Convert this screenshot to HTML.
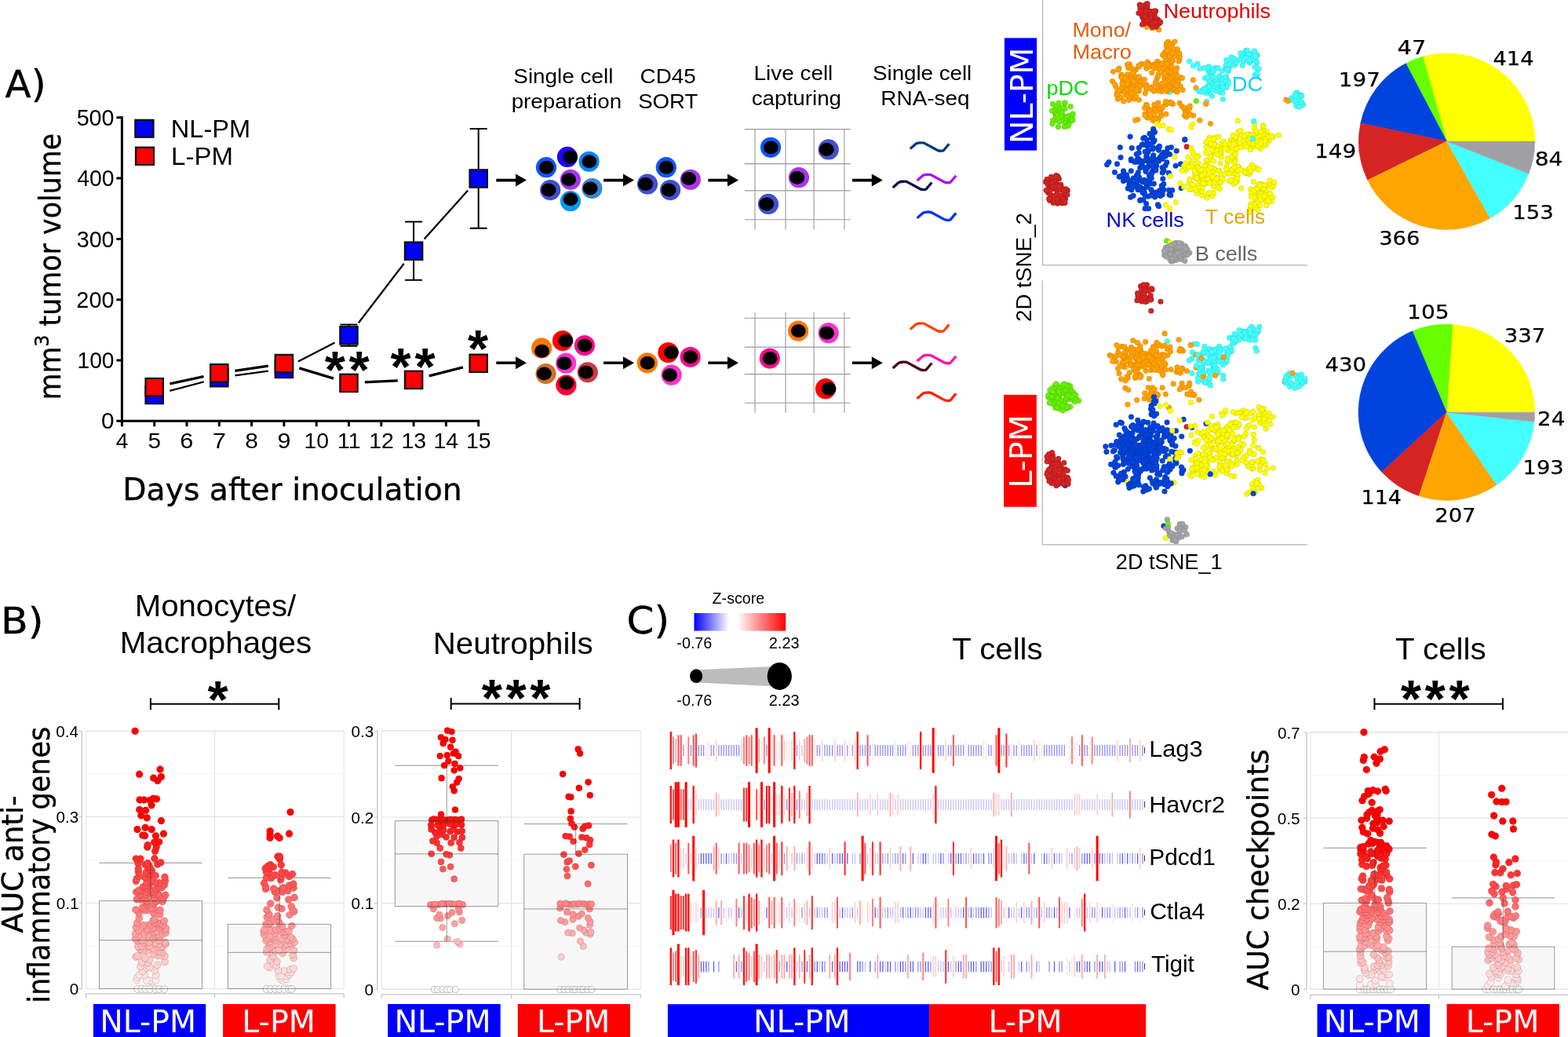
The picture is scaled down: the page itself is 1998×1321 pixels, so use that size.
<!DOCTYPE html>
<html lang="en">
<head>
<meta charset="utf-8">
<title>Figure: tumor growth, single cell RNA-seq and immune checkpoints</title>
<style>
html,body{margin:0;padding:0;background:#fff}
body{width:1998px;height:1321px;overflow:hidden}
svg{display:block}
text{white-space:pre}
.ls{font-family:"Liberation Sans",sans-serif}
.dv{font-family:"DejaVu Sans","Liberation Sans",sans-serif}
.b{stroke:#000;stroke-width:.4px}
.ast{font-weight:bold;font-size:67.3px;letter-spacing:4.6px}
.d circle{stroke-width:.5}
</style>
</head>
<body>
<svg width="1998" height="1321" viewBox="0 0 1998 1321">
<defs>
<linearGradient id="zg" x1="0" x2="1" y1="0" y2="0">
<stop offset="0" stop-color="#0000ff"/><stop offset=".38" stop-color="#fff"/><stop offset=".47" stop-color="#fff"/><stop offset="1" stop-color="#ff0000"/>
</linearGradient>
</defs>
<rect width="1998" height="1321" fill="#fff"/>

<g id="panel-a">
<text class="dv b" x="6.54" y="124.1" font-size="47.5" textLength="52.05" lengthAdjust="spacingAndGlyphs">A)</text>
<g stroke="#000" stroke-width="3" fill="none">
<path d="M155.4 148.3 V536.3 H611.2"/>
<path d="M155.4 536.3h-7M155.4 459h-7M155.4 381.7h-7M155.4 304.4h-7M155.4 227.1h-7M155.4 149.8h-7M155.4 536.3v7M196.7 536.3v7M238 536.3v7M279.3 536.3v7M320.6 536.3v7M361.9 536.3v7M403.2 536.3v7M444.5 536.3v7M485.8 536.3v7M527.1 536.3v7M568.4 536.3v7M609.7 536.3v7"/>
</g>
<text class="ls" x="129.09" y="546.4" font-size="29.2" textLength="16.45" lengthAdjust="spacingAndGlyphs">0</text>
<text class="ls" x="98.49" y="469.1" font-size="29.2" textLength="47" lengthAdjust="spacingAndGlyphs">100</text>
<text class="ls" x="97.36" y="391.8" font-size="29.2" textLength="48.15" lengthAdjust="spacingAndGlyphs">200</text>
<text class="ls" x="97.73" y="314.5" font-size="29.2" textLength="47.78" lengthAdjust="spacingAndGlyphs">300</text>
<text class="ls" x="98.16" y="237.2" font-size="29.2" textLength="47.33" lengthAdjust="spacingAndGlyphs">400</text>
<text class="ls" x="97.65" y="159.9" font-size="29.2" textLength="47.85" lengthAdjust="spacingAndGlyphs">500</text>
<text class="ls" x="147.67" y="571.3" font-size="27.6" textLength="15.64" lengthAdjust="spacingAndGlyphs">4</text>
<text class="ls" x="188.4" y="571.3" font-size="27.6" textLength="16.63" lengthAdjust="spacingAndGlyphs">5</text>
<text class="ls" x="229.36" y="571.3" font-size="27.6" textLength="17.08" lengthAdjust="spacingAndGlyphs">6</text>
<text class="ls" x="270.65" y="571.3" font-size="27.6" textLength="17.26" lengthAdjust="spacingAndGlyphs">7</text>
<text class="ls" x="312.22" y="571.3" font-size="27.6" textLength="16.71" lengthAdjust="spacingAndGlyphs">8</text>
<text class="ls" x="353.43" y="571.3" font-size="27.6" textLength="16.98" lengthAdjust="spacingAndGlyphs">9</text>
<text class="ls" x="387.49" y="571.3" font-size="27.6" textLength="31.62" lengthAdjust="spacingAndGlyphs">10</text>
<text class="ls" x="429.96" y="571.3" font-size="27.6" textLength="29.51" lengthAdjust="spacingAndGlyphs">11</text>
<text class="ls" x="470.23" y="571.3" font-size="27.6" textLength="31.62" lengthAdjust="spacingAndGlyphs">12</text>
<text class="ls" x="511.46" y="571.3" font-size="27.6" textLength="31.62" lengthAdjust="spacingAndGlyphs">13</text>
<text class="ls" x="552.55" y="571.3" font-size="27.6" textLength="31.62" lengthAdjust="spacingAndGlyphs">14</text>
<text class="ls" x="594.02" y="571.3" font-size="27.6" textLength="31.62" lengthAdjust="spacingAndGlyphs">15</text>
<text class="dv b" x="156.37" y="636.8" font-size="39.3" textLength="432.29" lengthAdjust="spacingAndGlyphs">Days after inoculation</text>
<text class="dv b" transform="translate(77.4 506.4) rotate(-90)" x="-3.15" font-size="37" textLength="339.79" lengthAdjust="spacingAndGlyphs">mm<tspan font-size="25" dy="-15">3</tspan><tspan dy="15"> tumor volume</tspan></text>
<rect x="172.3" y="152.8" width="23.2" height="22" fill="#00f" stroke="#111" stroke-width="2.2"/>
<rect x="173" y="187.7" width="23" height="22.2" fill="#f00" stroke="#111" stroke-width="2.2"/>
<text class="ls" x="217.79" y="174.9" font-size="31.8" textLength="101.46" lengthAdjust="spacingAndGlyphs">NL-PM</text>
<text class="ls" x="218.06" y="209.9" font-size="31.8" textLength="78.83" lengthAdjust="spacingAndGlyphs">L-PM</text>
<g stroke="#000" stroke-width="3.1" fill="none">
<path d="M216.3 497.8L259.7 486.4M299.4 478.4L341.8 472.7M379.9 460.6L426.5 436.6M456.9 411.2L514.7 335.8M540.6 304.6L596.2 242.6" stroke-width="2.3"/><path d="M216.5 488.9L259.5 479.6M299.4 472.3L341.8 466.1M381.3 468.9L425.1 482.1M464.8 486.9L506.8 484.9M546.8 478.9L590 467.8" stroke-width="3.3"/>
</g>
<g stroke="#000" stroke-width="2" fill="none">
<path d="M444.5 413.5V440.8M433.5 413.5h22M433.5 440.8h22M527.1 282.4V356.7M516.1 282.4h22M516.1 356.7h22M609.7 163.9V290.8M598.7 163.9h22M598.7 290.8h22"/>
</g>
<g stroke="#111" stroke-width="2.2">
<rect x="185.5" y="491.8" width="22.4" height="22.4" fill="#00f"/>
<rect x="268.1" y="470" width="22.4" height="22.4" fill="#00f"/>
<rect x="350.7" y="458.7" width="22.4" height="22.4" fill="#00f"/>
<rect x="433.3" y="416.1" width="22.4" height="22.4" fill="#00f"/>
<rect x="515.9" y="308.5" width="22.4" height="22.4" fill="#00f"/>
<rect x="598.5" y="216.3" width="22.4" height="22.4" fill="#00f"/>
<rect x="185.5" y="482" width="22.4" height="22.4" fill="#f00"/>
<rect x="268.1" y="464.1" width="22.4" height="22.4" fill="#f00"/>
<rect x="350.7" y="451.9" width="22.4" height="22.4" fill="#f00"/>
<rect x="433.3" y="476.7" width="22.4" height="22.4" fill="#f00"/>
<rect x="515.9" y="472.7" width="22.4" height="22.4" fill="#f00"/>
<rect x="598.5" y="451.6" width="22.4" height="22.4" fill="#f00"/>
</g>
<text class="ls ast" x="444.5" y="494.1" text-anchor="middle">**</text>
<text class="ls ast" x="528.4" y="490" text-anchor="middle">**</text>
<text class="ls ast" x="611.5" y="467.4" text-anchor="middle">*</text>
<text class="ls" x="654.35" y="105.8" font-size="26.5" textLength="126.99" lengthAdjust="spacingAndGlyphs">Single cell</text>
<text class="ls" x="651.67" y="138.3" font-size="26.5" textLength="140.42" lengthAdjust="spacingAndGlyphs">preparation</text>
<text class="ls" x="815.61" y="105.8" font-size="26.5" textLength="71.05" lengthAdjust="spacingAndGlyphs">CD45</text>
<text class="ls" x="813.16" y="138.3" font-size="26.5" textLength="76.19" lengthAdjust="spacingAndGlyphs">SORT</text>
<text class="ls" x="960.57" y="102.1" font-size="26.5" textLength="100.76" lengthAdjust="spacingAndGlyphs">Live cell</text>
<text class="ls" x="957.72" y="134.4" font-size="26.5" textLength="114.36" lengthAdjust="spacingAndGlyphs">capturing</text>
<text class="ls" x="1112.05" y="102.1" font-size="26.5" textLength="126.17" lengthAdjust="spacingAndGlyphs">Single cell</text>
<text class="ls" x="1122.37" y="134.4" font-size="26.5" textLength="113.12" lengthAdjust="spacingAndGlyphs">RNA-seq</text>
<g fill="#000">
<path d="M632.3 227.8H657v-6.2L671 229.6l-14 8v-6.2H632.3z"/>
<path d="M769.1 227.8H794v-6.2L808 229.6l-14 8v-6.2H769.1z"/>
<path d="M902.4 227.8H927v-6.2L941 229.6l-14 8v-6.2H902.4z"/>
<path d="M1086 227.8H1110.8v-6.2L1124.8 229.6l-14 8v-6.2H1086z"/>
<path d="M632.3 460.4H657v-6.2L671 462.2l-14 8v-6.2H632.3z"/>
<path d="M769.1 460.4H794v-6.2L808 462.2l-14 8v-6.2H769.1z"/>
<path d="M902.4 460.4H927v-6.2L941 462.2l-14 8v-6.2H902.4z"/>
<path d="M1086 460.4H1110.8v-6.2L1124.8 462.2l-14 8v-6.2H1086z"/>
</g>
<g stroke="#999" stroke-width="1.1" fill="none">
<path d="M948.7 164.6H1083.7M948.7 208.6H1083.7M948.7 242.9H1083.7M948.7 279.7H1083.7M962 164.6V292.5M1001 164.6V292.5M1037.1 164.6V292.5M1075.9 164.6V292.5M948.7 405.3H1083.7M948.7 442.1H1083.7M948.7 476.6H1083.7M948.7 513.2H1083.7M962 398.1V526M1001 398.1V526M1037.1 398.1V526M1075.9 398.1V526"/>
</g>
<g fill="#000">
<circle cx="722.9" cy="199.9" r="13.1" fill="#2200ff"/><ellipse cx="726.6" cy="199.9" rx="9.4" ry="8.5"/>
<circle cx="750.6" cy="205.8" r="13.1" fill="#0a84ff"/><ellipse cx="750.9" cy="205.8" rx="9.4" ry="8.5"/>
<circle cx="696" cy="213.2" r="13.1" fill="#1055ff"/><ellipse cx="696.3" cy="213.2" rx="9.4" ry="8.5"/>
<circle cx="726.9" cy="228.8" r="13.1" fill="#aa33ee"/><ellipse cx="724.7" cy="228.8" rx="9.4" ry="8.5"/>
<circle cx="754.4" cy="240" r="13.1" fill="#3a86d0"/><ellipse cx="752.1" cy="240" rx="9.4" ry="8.5"/>
<circle cx="701.2" cy="242.1" r="13.1" fill="#4050d0"/><ellipse cx="699.1" cy="242.1" rx="9.4" ry="8.5"/>
<circle cx="726.9" cy="256.2" r="13.1" fill="#0099ff"/><ellipse cx="727" cy="253.8" rx="9.4" ry="8.5"/>
<circle cx="848.8" cy="213.2" r="13.1" fill="#1055ff"/><ellipse cx="849" cy="213.2" rx="9.4" ry="8.5"/>
<circle cx="879.8" cy="228.8" r="13.1" fill="#aa33ee"/><ellipse cx="877.7" cy="227.6" rx="9.4" ry="8.5"/>
<circle cx="825" cy="234.6" r="13.1" fill="#4050d0"/><ellipse cx="822.7" cy="234.6" rx="9.4" ry="8.5"/>
<circle cx="854.1" cy="242.1" r="13.1" fill="#4050d0"/><ellipse cx="852.1" cy="242.1" rx="9.4" ry="8.5"/>
<circle cx="982" cy="187.8" r="13.1" fill="#0a55ff"/><ellipse cx="982.3" cy="188.1" rx="9.4" ry="8.5"/>
<circle cx="1055.7" cy="190.4" r="13.1" fill="#4050d0"/><ellipse cx="1053.3" cy="190.4" rx="9.4" ry="8.5"/>
<circle cx="1017.9" cy="226.2" r="13.1" fill="#aa33ee"/><ellipse cx="1015.8" cy="226.2" rx="9.4" ry="8.5"/>
<circle cx="979" cy="259.9" r="13.1" fill="#4050d0"/><ellipse cx="976.8" cy="259.9" rx="9.4" ry="8.5"/>
<circle cx="717" cy="434.1" r="13.1" fill="#ff0000"/><ellipse cx="720.9" cy="434.1" rx="9.4" ry="8.5"/>
<circle cx="690.1" cy="443.4" r="13.1" fill="#ff7700"/><ellipse cx="690.6" cy="447.3" rx="9.4" ry="8.5"/>
<circle cx="744.9" cy="440.1" r="13.1" fill="#ff0a90"/><ellipse cx="745.1" cy="440.1" rx="9.4" ry="8.5"/>
<circle cx="721.2" cy="462.7" r="13.1" fill="#ff33cc"/><ellipse cx="719.1" cy="462.7" rx="9.4" ry="8.5"/>
<circle cx="748.8" cy="474.3" r="13.1" fill="#cc3a44"/><ellipse cx="746.6" cy="474.3" rx="9.4" ry="8.5"/>
<circle cx="695.5" cy="476.1" r="13.1" fill="#d07030"/><ellipse cx="693.4" cy="476.1" rx="9.4" ry="8.5"/>
<circle cx="721.4" cy="490.5" r="13.1" fill="#ff0033"/><ellipse cx="721.7" cy="488.1" rx="9.4" ry="8.5"/>
<circle cx="824.8" cy="462.3" r="13.1" fill="#ff7700"/><ellipse cx="825" cy="462.3" rx="9.4" ry="8.5"/>
<circle cx="851.4" cy="449.1" r="13.1" fill="#ff0000"/><ellipse cx="855.4" cy="449.1" rx="9.4" ry="8.5"/>
<circle cx="879.6" cy="454.8" r="13.1" fill="#ff0a90"/><ellipse cx="879.8" cy="454.8" rx="9.4" ry="8.5"/>
<circle cx="855.6" cy="477.7" r="13.1" fill="#ff33cc"/><ellipse cx="853.5" cy="477.7" rx="9.4" ry="8.5"/>
<circle cx="1017.1" cy="421.6" r="13.1" fill="#ff7700"/><ellipse cx="1017.3" cy="421.6" rx="9.4" ry="8.5"/>
<circle cx="1055.7" cy="424.2" r="13.1" fill="#ff33cc"/><ellipse cx="1053.5" cy="424.2" rx="9.4" ry="8.5"/>
<circle cx="980.8" cy="456.6" r="13.1" fill="#ff0a90"/><ellipse cx="981" cy="456.6" rx="9.4" ry="8.5"/>
<circle cx="1052" cy="495.2" r="13.1" fill="#ff0000"/><ellipse cx="1056" cy="495.2" rx="9.4" ry="8.5"/>
</g>
<g fill="none" stroke-width="3.3" stroke-linecap="butt" stroke-linejoin="round">
<path d="M1159.8 189.6l7.2-6.4c1.8-1.2 7.8-1.8 10.4-1.1l16.8 9.1c2.6 1.4 6.6 1.2 8 .5l7.2-8.5" stroke="#003a80"/>
<path d="M1159.8 419.6l7.2-6.4c1.8-1.2 7.8-1.8 10.4-1.1l16.8 9.1c2.6 1.4 6.6 1.2 8 .5l7.2-8.5" stroke="#ff4400"/>
<path d="M1168.6 230.1l7.2-6.4c1.8-1.2 7.8-1.8 10.4-1.1l16.8 9.1c2.6 1.4 6.6 1.2 8 .5l7.2-8.5" stroke="#aa11ff"/>
<path d="M1168.6 460.1l7.2-6.4c1.8-1.2 7.8-1.8 10.4-1.1l16.8 9.1c2.6 1.4 6.6 1.2 8 .5l7.2-8.5" stroke="#ff11aa"/>
<path d="M1137.7 238.9l7.2-6.4c1.8-1.2 7.8-1.8 10.4-1.1l16.8 9.1c2.6 1.4 6.6 1.2 8 .5l7.2-8.5" stroke="#0a0a50"/>
<path d="M1137.7 468.9l7.2-6.4c1.8-1.2 7.8-1.8 10.4-1.1l16.8 9.1c2.6 1.4 6.6 1.2 8 .5l7.2-8.5" stroke="#4a0020"/>
<path d="M1168.6 277.8l7.2-6.4c1.8-1.2 7.8-1.8 10.4-1.1l16.8 9.1c2.6 1.4 6.6 1.2 8 .5l7.2-8.5" stroke="#0033ff"/>
<path d="M1168.6 507.8l7.2-6.4c1.8-1.2 7.8-1.8 10.4-1.1l16.8 9.1c2.6 1.4 6.6 1.2 8 .5l7.2-8.5" stroke="#ff2200"/>
</g>
</g>
<g id="tsne">
<g class="d">
<g fill="#ffa000" stroke="#d88400"><circle cx="1461.3" cy="34.4" r="3.3"/><circle cx="1468.2" cy="36" r="3.3"/><circle cx="1476.7" cy="37.9" r="3.3"/><circle cx="1472.7" cy="35" r="3.3"/></g>
<g fill="#d42424" stroke="#a01818"><circle cx="1457" cy="16" r="3.3"/><circle cx="1457.2" cy="10.6" r="3.3"/><circle cx="1453" cy="11.4" r="3.3"/><circle cx="1465" cy="15.1" r="3.3"/><circle cx="1464.8" cy="14.2" r="3.3"/><circle cx="1461.3" cy="13.9" r="3.3"/><circle cx="1450.9" cy="16.7" r="3.3"/><circle cx="1461.9" cy="15.9" r="3.3"/><circle cx="1452.2" cy="6.1" r="3.3"/><circle cx="1453.3" cy="9.9" r="3.3"/><circle cx="1460.7" cy="12.4" r="3.3"/><circle cx="1461.9" cy="8.7" r="3.3"/><circle cx="1460.7" cy="15.3" r="3.3"/><circle cx="1455.6" cy="20.8" r="3.3"/><circle cx="1461.7" cy="19.3" r="3.3"/><circle cx="1454.9" cy="8.3" r="3.3"/><circle cx="1456.4" cy="12" r="3.3"/><circle cx="1462.7" cy="14.3" r="3.3"/><circle cx="1456" cy="7.1" r="3.3"/><circle cx="1455.8" cy="19.4" r="3.3"/><circle cx="1453.7" cy="14.2" r="3.3"/><circle cx="1460.9" cy="5.1" r="3.3"/><circle cx="1466.9" cy="31.7" r="3.3"/><circle cx="1455.8" cy="21.7" r="3.3"/><circle cx="1465.8" cy="17.4" r="3.3"/><circle cx="1470.6" cy="22.8" r="3.3"/><circle cx="1457.8" cy="28.1" r="3.3"/><circle cx="1471.3" cy="29.7" r="3.3"/><circle cx="1475.9" cy="25.5" r="3.3"/><circle cx="1467.4" cy="14.9" r="3.3"/><circle cx="1471.2" cy="18.9" r="3.3"/><circle cx="1463.6" cy="15.2" r="3.3"/><circle cx="1459.7" cy="19.7" r="3.3"/><circle cx="1472.7" cy="14.2" r="3.3"/><circle cx="1457.2" cy="24.8" r="3.3"/><circle cx="1475.7" cy="26.8" r="3.3"/><circle cx="1459.6" cy="14.5" r="3.3"/><circle cx="1469.3" cy="18" r="3.3"/><circle cx="1459.4" cy="29.3" r="3.3"/><circle cx="1474.5" cy="24.4" r="3.3"/><circle cx="1468.6" cy="26.6" r="3.3"/><circle cx="1476.1" cy="26.8" r="3.3"/><circle cx="1470.6" cy="27.3" r="3.3"/><circle cx="1458.2" cy="29.9" r="3.3"/><circle cx="1473.4" cy="26.9" r="3.3"/><circle cx="1456.2" cy="20.1" r="3.3"/><circle cx="1471.2" cy="13.9" r="3.3"/><circle cx="1465.3" cy="30.4" r="3.3"/><circle cx="1468.3" cy="34.3" r="3.3"/><circle cx="1475.5" cy="29" r="3.3"/><circle cx="1474.3" cy="32.4" r="3.3"/><circle cx="1473.2" cy="34.1" r="3.3"/><circle cx="1469.5" cy="27.9" r="3.3"/><circle cx="1477.5" cy="29.8" r="3.3"/><circle cx="1468.9" cy="33.2" r="3.3"/><circle cx="1478.6" cy="28.1" r="3.3"/><circle cx="1466.9" cy="29.2" r="3.3"/><circle cx="1471.9" cy="28.4" r="3.3"/><circle cx="1452.8" cy="7.9" r="3.3"/><circle cx="1462.1" cy="4.8" r="3.3"/><circle cx="1455.5" cy="31.3" r="3.3"/><circle cx="1462.9" cy="23.3" r="3.3"/><circle cx="1464.5" cy="25.2" r="3.3"/><circle cx="1461.6" cy="25.7" r="3.3"/><circle cx="1459.7" cy="21.2" r="3.3"/><circle cx="1466.1" cy="18.5" r="3.3"/></g>
<g fill="#d42424" stroke="#a01818"><circle cx="1349.3" cy="227.9" r="3.3"/><circle cx="1348.4" cy="226.7" r="3.3"/><circle cx="1337.1" cy="238.1" r="3.3"/><circle cx="1348.5" cy="239.1" r="3.3"/><circle cx="1344.5" cy="234.8" r="3.3"/><circle cx="1343.1" cy="238" r="3.3"/><circle cx="1340.8" cy="235.9" r="3.3"/><circle cx="1346" cy="233.7" r="3.3"/><circle cx="1347" cy="237.7" r="3.3"/><circle cx="1351.4" cy="235.4" r="3.3"/><circle cx="1339.1" cy="230.9" r="3.3"/><circle cx="1342" cy="240.3" r="3.3"/><circle cx="1339.8" cy="236.6" r="3.3"/><circle cx="1347.9" cy="224.7" r="3.3"/><circle cx="1335.2" cy="235.3" r="3.3"/><circle cx="1344.8" cy="235.5" r="3.3"/><circle cx="1339.2" cy="238.5" r="3.3"/><circle cx="1344" cy="229.8" r="3.3"/><circle cx="1351.8" cy="235.3" r="3.3"/><circle cx="1338.3" cy="233" r="3.3"/><circle cx="1340.5" cy="233.2" r="3.3"/><circle cx="1332.3" cy="231.8" r="3.3"/><circle cx="1347.6" cy="226.7" r="3.3"/><circle cx="1341.6" cy="240.4" r="3.3"/><circle cx="1346.5" cy="242.2" r="3.3"/><circle cx="1333.4" cy="231.7" r="3.3"/><circle cx="1339.8" cy="238.3" r="3.3"/><circle cx="1345.8" cy="223.5" r="3.3"/><circle cx="1347.5" cy="225.7" r="3.3"/><circle cx="1345.7" cy="225" r="3.3"/><circle cx="1349.6" cy="257.6" r="3.3"/><circle cx="1346.8" cy="249.6" r="3.3"/><circle cx="1355.1" cy="249" r="3.3"/><circle cx="1347.5" cy="259.2" r="3.3"/><circle cx="1356.7" cy="245.3" r="3.3"/><circle cx="1360.3" cy="242.5" r="3.3"/><circle cx="1355.8" cy="245.4" r="3.3"/><circle cx="1349.3" cy="254.2" r="3.3"/><circle cx="1350.1" cy="253.6" r="3.3"/><circle cx="1339.2" cy="238.6" r="3.3"/><circle cx="1353.1" cy="239.7" r="3.3"/><circle cx="1341.4" cy="237.6" r="3.3"/><circle cx="1357.4" cy="253.4" r="3.3"/><circle cx="1358.1" cy="241.2" r="3.3"/><circle cx="1348.2" cy="238.2" r="3.3"/><circle cx="1353.3" cy="258.8" r="3.3"/><circle cx="1342.3" cy="258.5" r="3.3"/><circle cx="1356.4" cy="246.2" r="3.3"/><circle cx="1337.7" cy="255.5" r="3.3"/><circle cx="1347.3" cy="242.1" r="3.3"/><circle cx="1351.8" cy="251.6" r="3.3"/><circle cx="1358" cy="240.8" r="3.3"/><circle cx="1355.5" cy="257.7" r="3.3"/><circle cx="1358.8" cy="246.4" r="3.3"/><circle cx="1342.4" cy="256" r="3.3"/><circle cx="1349.2" cy="249" r="3.3"/><circle cx="1358.7" cy="245.7" r="3.3"/><circle cx="1335.5" cy="245.5" r="3.3"/><circle cx="1336.9" cy="252.9" r="3.3"/><circle cx="1351" cy="242.1" r="3.3"/><circle cx="1348.1" cy="255.2" r="3.3"/><circle cx="1348.8" cy="258.3" r="3.3"/><circle cx="1347.7" cy="256.7" r="3.3"/><circle cx="1356.8" cy="257.4" r="3.3"/><circle cx="1342.7" cy="255.2" r="3.3"/><circle cx="1337.3" cy="241.2" r="3.3"/><circle cx="1337" cy="254.1" r="3.3"/><circle cx="1338.5" cy="247.6" r="3.3"/><circle cx="1346.4" cy="247.5" r="3.3"/><circle cx="1342.9" cy="249.9" r="3.3"/><circle cx="1360" cy="248.1" r="3.3"/><circle cx="1352.4" cy="256.1" r="3.3"/><circle cx="1346.6" cy="237.6" r="3.3"/><circle cx="1343.8" cy="256.6" r="3.3"/><circle cx="1337.1" cy="243.6" r="3.3"/><circle cx="1356" cy="254.1" r="3.3"/><circle cx="1348.2" cy="255" r="3.3"/><circle cx="1349.5" cy="238" r="3.3"/><circle cx="1337.5" cy="243.2" r="3.3"/><circle cx="1355.7" cy="243" r="3.3"/><circle cx="1349.7" cy="252.8" r="3.3"/><circle cx="1347.7" cy="255.3" r="3.3"/><circle cx="1348.7" cy="257.1" r="3.3"/><circle cx="1346.8" cy="256.5" r="3.3"/><circle cx="1351.4" cy="250" r="3.3"/><circle cx="1356.7" cy="254.5" r="3.3"/><circle cx="1347.2" cy="253.4" r="3.3"/><circle cx="1354.8" cy="253.7" r="3.3"/><circle cx="1356.8" cy="258.6" r="3.3"/><circle cx="1356.5" cy="257.1" r="3.3"/><circle cx="1334.1" cy="228.4" r="3.3"/><circle cx="1339.4" cy="225.2" r="3.3"/><circle cx="1333.1" cy="242.4" r="3.3"/></g>
<g fill="#66f000" stroke="#50c000"><circle cx="1364.4" cy="152.1" r="3.3"/><circle cx="1356.6" cy="131.5" r="3.3"/><circle cx="1360.7" cy="157.6" r="3.3"/><circle cx="1350.5" cy="140.7" r="3.3"/><circle cx="1364.2" cy="135.7" r="3.3"/><circle cx="1356.4" cy="161.5" r="3.3"/><circle cx="1345.4" cy="153.1" r="3.3"/><circle cx="1366.9" cy="145.3" r="3.3"/><circle cx="1358.9" cy="155.5" r="3.3"/><circle cx="1345" cy="145.3" r="3.3"/><circle cx="1356.6" cy="155.2" r="3.3"/><circle cx="1353.3" cy="143.6" r="3.3"/><circle cx="1344.4" cy="142.6" r="3.3"/><circle cx="1362.4" cy="147.4" r="3.3"/><circle cx="1346.2" cy="138" r="3.3"/><circle cx="1366.8" cy="152.5" r="3.3"/><circle cx="1357.1" cy="131" r="3.3"/><circle cx="1360" cy="151.6" r="3.3"/><circle cx="1366.1" cy="149.8" r="3.3"/><circle cx="1353" cy="152.5" r="3.3"/><circle cx="1341.6" cy="153.4" r="3.3"/><circle cx="1357" cy="138.4" r="3.3"/><circle cx="1361.9" cy="158.6" r="3.3"/><circle cx="1342.7" cy="140.5" r="3.3"/><circle cx="1357.1" cy="148.6" r="3.3"/><circle cx="1350" cy="136.2" r="3.3"/><circle cx="1366.2" cy="153.1" r="3.3"/><circle cx="1345.1" cy="135.5" r="3.3"/><circle cx="1365.3" cy="153.7" r="3.3"/><circle cx="1366" cy="152.3" r="3.3"/><circle cx="1345.3" cy="149.1" r="3.3"/><circle cx="1340.7" cy="141.2" r="3.3"/><circle cx="1353.1" cy="152.6" r="3.3"/><circle cx="1346.3" cy="144.9" r="3.3"/><circle cx="1358.6" cy="150.7" r="3.3"/><circle cx="1360.3" cy="148.7" r="3.3"/><circle cx="1350.5" cy="154.9" r="3.3"/><circle cx="1354.2" cy="137.2" r="3.3"/><circle cx="1347.2" cy="146.3" r="3.3"/><circle cx="1352.4" cy="148.4" r="3.3"/><circle cx="1341.5" cy="132.5" r="3.3"/><circle cx="1349" cy="131.2" r="3.3"/><circle cx="1341" cy="157.7" r="3.3"/><circle cx="1348.4" cy="161.6" r="3.3"/><circle cx="1360.6" cy="160.6" r="3.3"/><circle cx="1367" cy="145.2" r="3.3"/></g>
<g fill="#ffff00" stroke="#c8c800"><circle cx="1496.9" cy="199.8" r="3.3"/><circle cx="1485.6" cy="261.1" r="3.3"/><circle cx="1490.9" cy="224" r="3.3"/></g>
<g fill="#0044dd" stroke="#0033aa"><circle cx="1463.6" cy="206.1" r="3.3"/><circle cx="1462" cy="185.9" r="3.3"/><circle cx="1468.5" cy="218.4" r="3.3"/><circle cx="1468.7" cy="200.9" r="3.3"/><circle cx="1468.8" cy="190" r="3.3"/><circle cx="1441.3" cy="204.4" r="3.3"/><circle cx="1452.7" cy="214" r="3.3"/><circle cx="1451.4" cy="225.8" r="3.3"/><circle cx="1459.1" cy="184.3" r="3.3"/><circle cx="1454.6" cy="210.9" r="3.3"/><circle cx="1469.4" cy="206.1" r="3.3"/><circle cx="1481" cy="213.5" r="3.3"/><circle cx="1463.4" cy="212" r="3.3"/><circle cx="1483" cy="217.3" r="3.3"/><circle cx="1475.6" cy="188.3" r="3.3"/><circle cx="1461.9" cy="213.9" r="3.3"/><circle cx="1460.1" cy="218.6" r="3.3"/><circle cx="1470.6" cy="216.4" r="3.3"/><circle cx="1478.1" cy="200.6" r="3.3"/><circle cx="1459.6" cy="215.9" r="3.3"/><circle cx="1475.1" cy="203.7" r="3.3"/><circle cx="1449.9" cy="206.2" r="3.3"/><circle cx="1467.8" cy="219.5" r="3.3"/><circle cx="1472.8" cy="203.9" r="3.3"/><circle cx="1473.6" cy="211.2" r="3.3"/><circle cx="1466" cy="204.4" r="3.3"/><circle cx="1460.7" cy="213.3" r="3.3"/><circle cx="1451.2" cy="194.7" r="3.3"/><circle cx="1463.7" cy="183" r="3.3"/><circle cx="1458.5" cy="175.3" r="3.3"/><circle cx="1455.6" cy="211.6" r="3.3"/><circle cx="1470.2" cy="202.8" r="3.3"/><circle cx="1460.9" cy="183.6" r="3.3"/><circle cx="1485" cy="210.9" r="3.3"/><circle cx="1476.4" cy="191.2" r="3.3"/><circle cx="1461.4" cy="178" r="3.3"/><circle cx="1472.8" cy="216.8" r="3.3"/><circle cx="1441.3" cy="202.9" r="3.3"/><circle cx="1471" cy="178.8" r="3.3"/><circle cx="1442.2" cy="188.6" r="3.3"/><circle cx="1456.2" cy="183.8" r="3.3"/><circle cx="1464" cy="207.1" r="3.3"/><circle cx="1471" cy="213.5" r="3.3"/><circle cx="1481.2" cy="220" r="3.3"/><circle cx="1448.2" cy="196.5" r="3.3"/><circle cx="1451.2" cy="188.4" r="3.3"/><circle cx="1462.6" cy="203.7" r="3.3"/><circle cx="1469.4" cy="181.3" r="3.3"/><circle cx="1449.1" cy="203.3" r="3.3"/><circle cx="1461.3" cy="199.2" r="3.3"/><circle cx="1462.9" cy="192.9" r="3.3"/><circle cx="1471.8" cy="208.6" r="3.3"/><circle cx="1462.6" cy="194.1" r="3.3"/><circle cx="1452.1" cy="204.1" r="3.3"/><circle cx="1445.9" cy="206.4" r="3.3"/><circle cx="1465.3" cy="184.2" r="3.3"/><circle cx="1460.7" cy="199.2" r="3.3"/><circle cx="1469" cy="212.2" r="3.3"/><circle cx="1463.2" cy="191.6" r="3.3"/><circle cx="1461.9" cy="202.7" r="3.3"/><circle cx="1472.2" cy="207.7" r="3.3"/><circle cx="1455.1" cy="184.5" r="3.3"/><circle cx="1459.2" cy="193.2" r="3.3"/><circle cx="1450.5" cy="202" r="3.3"/><circle cx="1457.8" cy="205.1" r="3.3"/><circle cx="1469.7" cy="197.8" r="3.3"/><circle cx="1476.5" cy="205.3" r="3.3"/><circle cx="1454.8" cy="207.1" r="3.3"/><circle cx="1467.4" cy="221.6" r="3.3"/><circle cx="1472.6" cy="216.9" r="3.3"/><circle cx="1469.6" cy="201.4" r="3.3"/><circle cx="1469.6" cy="188.4" r="3.3"/><circle cx="1464.4" cy="223.9" r="3.3"/><circle cx="1453" cy="254.8" r="3.3"/><circle cx="1447.2" cy="234.1" r="3.3"/><circle cx="1464.2" cy="234.1" r="3.3"/><circle cx="1440.1" cy="236.4" r="3.3"/><circle cx="1457.1" cy="240.9" r="3.3"/><circle cx="1440.5" cy="251.2" r="3.3"/><circle cx="1470.3" cy="234.1" r="3.3"/><circle cx="1453.2" cy="229.7" r="3.3"/><circle cx="1467.2" cy="226.9" r="3.3"/><circle cx="1458.2" cy="229.2" r="3.3"/><circle cx="1441.5" cy="241" r="3.3"/><circle cx="1466.2" cy="233.8" r="3.3"/><circle cx="1441.7" cy="241.9" r="3.3"/><circle cx="1449.4" cy="236.9" r="3.3"/><circle cx="1468.6" cy="245" r="3.3"/><circle cx="1450" cy="241.6" r="3.3"/><circle cx="1442.1" cy="233.4" r="3.3"/><circle cx="1466.6" cy="221.9" r="3.3"/><circle cx="1431.6" cy="217.9" r="3.3"/><circle cx="1464.3" cy="229.4" r="3.3"/><circle cx="1449.2" cy="230.8" r="3.3"/><circle cx="1448.5" cy="223.2" r="3.3"/><circle cx="1450.3" cy="219.7" r="3.3"/><circle cx="1449.1" cy="236.9" r="3.3"/><circle cx="1455.7" cy="231.6" r="3.3"/><circle cx="1438.9" cy="235.5" r="3.3"/><circle cx="1444.1" cy="249.3" r="3.3"/><circle cx="1459.3" cy="232.7" r="3.3"/><circle cx="1444.2" cy="227" r="3.3"/><circle cx="1438.5" cy="230.4" r="3.3"/><circle cx="1453.6" cy="239" r="3.3"/><circle cx="1456.9" cy="254.6" r="3.3"/><circle cx="1441.4" cy="234" r="3.3"/><circle cx="1443.6" cy="235.6" r="3.3"/><circle cx="1451.9" cy="237.9" r="3.3"/><circle cx="1447.1" cy="237.5" r="3.3"/><circle cx="1450.6" cy="241.5" r="3.3"/><circle cx="1426.9" cy="225.2" r="3.3"/><circle cx="1449.9" cy="223.7" r="3.3"/><circle cx="1437.2" cy="240.1" r="3.3"/><circle cx="1442" cy="240.1" r="3.3"/><circle cx="1481.1" cy="248" r="3.3"/><circle cx="1478.4" cy="245.3" r="3.3"/><circle cx="1456.8" cy="245.8" r="3.3"/><circle cx="1477.8" cy="242.5" r="3.3"/><circle cx="1471.6" cy="250.9" r="3.3"/><circle cx="1462.8" cy="250.2" r="3.3"/><circle cx="1493.7" cy="242.4" r="3.3"/><circle cx="1474.3" cy="245" r="3.3"/><circle cx="1490" cy="248.1" r="3.3"/><circle cx="1482.8" cy="241.5" r="3.3"/><circle cx="1472.5" cy="245.9" r="3.3"/><circle cx="1452.7" cy="255.5" r="3.3"/><circle cx="1482.8" cy="234.5" r="3.3"/><circle cx="1481.1" cy="245.1" r="3.3"/><circle cx="1477.7" cy="248.4" r="3.3"/><circle cx="1455.8" cy="244.6" r="3.3"/><circle cx="1489.5" cy="242.2" r="3.3"/><circle cx="1461.2" cy="237.1" r="3.3"/><circle cx="1458.9" cy="248.2" r="3.3"/><circle cx="1491.8" cy="248.8" r="3.3"/><circle cx="1475.4" cy="260.7" r="3.3"/><circle cx="1466.8" cy="241.6" r="3.3"/><circle cx="1478.6" cy="249.6" r="3.3"/><circle cx="1461.3" cy="238.3" r="3.3"/><circle cx="1476" cy="247.6" r="3.3"/><circle cx="1458" cy="244.7" r="3.3"/><circle cx="1466.6" cy="249" r="3.3"/><circle cx="1471.4" cy="245.4" r="3.3"/><circle cx="1467.4" cy="175.7" r="3.3"/><circle cx="1471" cy="168.4" r="3.3"/><circle cx="1469.9" cy="166.4" r="3.3"/><circle cx="1468.3" cy="174.2" r="3.3"/><circle cx="1471.3" cy="168.3" r="3.3"/><circle cx="1468" cy="171.3" r="3.3"/><circle cx="1465" cy="170.4" r="3.3"/><circle cx="1480.4" cy="199.6" r="3.3"/><circle cx="1477.4" cy="186.4" r="3.3"/><circle cx="1485" cy="199" r="3.3"/><circle cx="1481.2" cy="202.5" r="3.3"/><circle cx="1483" cy="194.1" r="3.3"/><circle cx="1487.9" cy="188.7" r="3.3"/><circle cx="1480.3" cy="197.4" r="3.3"/><circle cx="1490.4" cy="196.6" r="3.3"/><circle cx="1486.8" cy="193.8" r="3.3"/><circle cx="1486.8" cy="206.9" r="3.3"/><circle cx="1426.1" cy="224.9" r="3.3"/><circle cx="1431.4" cy="230.6" r="3.3"/><circle cx="1434.3" cy="229.3" r="3.3"/><circle cx="1431.6" cy="226.2" r="3.3"/><circle cx="1436.4" cy="226.9" r="3.3"/><circle cx="1441.2" cy="217.8" r="3.3"/><circle cx="1435.6" cy="222.7" r="3.3"/><circle cx="1430.2" cy="223.4" r="3.3"/><circle cx="1440.1" cy="174.1" r="3.3"/><circle cx="1456.8" cy="176.3" r="3.3"/><circle cx="1427.3" cy="187.7" r="3.3"/><circle cx="1412.9" cy="206.6" r="3.3"/><circle cx="1410.6" cy="209.7" r="3.3"/><circle cx="1423.5" cy="208.9" r="3.3"/><circle cx="1420.4" cy="219.5" r="3.3"/><circle cx="1428" cy="200.6" r="3.3"/><circle cx="1492.4" cy="187.7" r="3.3"/><circle cx="1499.2" cy="192.2" r="3.3"/><circle cx="1504.5" cy="208.9" r="3.3"/><circle cx="1498.1" cy="211.2" r="3.3"/><circle cx="1509.8" cy="177.9" r="3.3"/><circle cx="1505.2" cy="239.6" r="3.3"/><circle cx="1481.8" cy="227.8" r="3.3"/><circle cx="1480.3" cy="236.9" r="3.3"/><circle cx="1476.5" cy="262.7" r="3.3"/><circle cx="1459.1" cy="265.7" r="3.3"/><circle cx="1463.6" cy="265.7" r="3.3"/><circle cx="1460.6" cy="259.6" r="3.3"/><circle cx="1469.7" cy="164.2" r="3.3"/><circle cx="1489.3" cy="220.3" r="3.3"/><circle cx="1540.8" cy="246.8" r="3.3"/></g>
<g fill="#ffff00" stroke="#c8c800"><circle cx="1491.2" cy="224.3" r="3.3"/><circle cx="1490.9" cy="265.7" r="3.3"/><circle cx="1498.4" cy="257.8" r="3.3"/></g>
<g fill="#d42424" stroke="#a01818"><circle cx="1512.1" cy="186.9" r="3.3"/></g>
<g fill="#44ffff" stroke="#30d0d0"><circle cx="1486.9" cy="81.7" r="3.3"/><circle cx="1490.6" cy="117.2" r="3.3"/></g>
<g fill="#ffa000" stroke="#d88400"><circle cx="1434.8" cy="97.2" r="3.3"/><circle cx="1433.5" cy="114.7" r="3.3"/><circle cx="1440.1" cy="107.9" r="3.3"/><circle cx="1438" cy="118" r="3.3"/><circle cx="1444.6" cy="105.5" r="3.3"/><circle cx="1446.3" cy="105.4" r="3.3"/><circle cx="1428.4" cy="124.4" r="3.3"/><circle cx="1444.3" cy="95.8" r="3.3"/><circle cx="1450.4" cy="111.2" r="3.3"/><circle cx="1424.3" cy="126.2" r="3.3"/><circle cx="1443" cy="117.7" r="3.3"/><circle cx="1441.7" cy="105.4" r="3.3"/><circle cx="1424.5" cy="118.6" r="3.3"/><circle cx="1440" cy="103.8" r="3.3"/><circle cx="1443.2" cy="108.1" r="3.3"/><circle cx="1446.4" cy="102.8" r="3.3"/><circle cx="1439.4" cy="81.9" r="3.3"/><circle cx="1435.6" cy="115.1" r="3.3"/><circle cx="1452.9" cy="102.8" r="3.3"/><circle cx="1438.5" cy="125.9" r="3.3"/><circle cx="1436.5" cy="115.8" r="3.3"/><circle cx="1456.3" cy="107.6" r="3.3"/><circle cx="1451.8" cy="98.8" r="3.3"/><circle cx="1441.8" cy="106.2" r="3.3"/><circle cx="1440.9" cy="120.5" r="3.3"/><circle cx="1434.1" cy="113" r="3.3"/><circle cx="1429.3" cy="113" r="3.3"/><circle cx="1445.4" cy="103.9" r="3.3"/><circle cx="1445" cy="88.8" r="3.3"/><circle cx="1447.2" cy="88.9" r="3.3"/><circle cx="1432.9" cy="100.6" r="3.3"/><circle cx="1435.8" cy="117.3" r="3.3"/><circle cx="1440.5" cy="102.5" r="3.3"/><circle cx="1445.1" cy="125.9" r="3.3"/><circle cx="1439.8" cy="111.5" r="3.3"/><circle cx="1452" cy="110.3" r="3.3"/><circle cx="1439.3" cy="112.1" r="3.3"/><circle cx="1449.3" cy="115.1" r="3.3"/><circle cx="1437.1" cy="94.7" r="3.3"/><circle cx="1440.7" cy="119.4" r="3.3"/><circle cx="1429" cy="95" r="3.3"/><circle cx="1439.5" cy="84.2" r="3.3"/><circle cx="1437.2" cy="102" r="3.3"/><circle cx="1444.2" cy="98.9" r="3.3"/><circle cx="1431" cy="102.5" r="3.3"/><circle cx="1439.2" cy="99.3" r="3.3"/><circle cx="1439.9" cy="116" r="3.3"/><circle cx="1451.4" cy="127.3" r="3.3"/><circle cx="1432" cy="102.2" r="3.3"/><circle cx="1432.6" cy="106.8" r="3.3"/><circle cx="1444.9" cy="91.1" r="3.3"/><circle cx="1444.3" cy="106.8" r="3.3"/><circle cx="1421.7" cy="110.6" r="3.3"/><circle cx="1451.5" cy="85.1" r="3.3"/><circle cx="1447.7" cy="109.6" r="3.3"/><circle cx="1444.4" cy="112.4" r="3.3"/><circle cx="1452.6" cy="104.5" r="3.3"/><circle cx="1448.3" cy="102.3" r="3.3"/><circle cx="1446.9" cy="97.5" r="3.3"/><circle cx="1438.7" cy="127.6" r="3.3"/><circle cx="1444.1" cy="105.3" r="3.3"/><circle cx="1428.5" cy="97.8" r="3.3"/><circle cx="1441.6" cy="118.3" r="3.3"/><circle cx="1443.9" cy="113.4" r="3.3"/><circle cx="1439.3" cy="123.1" r="3.3"/><circle cx="1435.9" cy="100.7" r="3.3"/><circle cx="1448.5" cy="107.9" r="3.3"/><circle cx="1437" cy="100.3" r="3.3"/><circle cx="1437.2" cy="114.5" r="3.3"/><circle cx="1443.2" cy="92.8" r="3.3"/><circle cx="1443.9" cy="109.3" r="3.3"/><circle cx="1429.9" cy="116.3" r="3.3"/><circle cx="1437" cy="103.2" r="3.3"/><circle cx="1447.6" cy="122.8" r="3.3"/><circle cx="1432.9" cy="112.3" r="3.3"/><circle cx="1434.9" cy="121.3" r="3.3"/><circle cx="1433.4" cy="116.7" r="3.3"/><circle cx="1435.5" cy="113.1" r="3.3"/><circle cx="1438.8" cy="99.2" r="3.3"/><circle cx="1460.9" cy="108.1" r="3.3"/><circle cx="1423.5" cy="117.3" r="3.3"/><circle cx="1422.8" cy="120.8" r="3.3"/><circle cx="1434" cy="108.9" r="3.3"/><circle cx="1452.2" cy="108.5" r="3.3"/><circle cx="1426" cy="87.1" r="3.3"/><circle cx="1451.4" cy="115.9" r="3.3"/><circle cx="1431.7" cy="117.3" r="3.3"/><circle cx="1444.6" cy="114.8" r="3.3"/><circle cx="1417.5" cy="103.6" r="3.3"/><circle cx="1448.6" cy="115.8" r="3.3"/><circle cx="1441.4" cy="113" r="3.3"/><circle cx="1436.5" cy="107.6" r="3.3"/><circle cx="1448.5" cy="101.9" r="3.3"/><circle cx="1451" cy="97.8" r="3.3"/><circle cx="1442.4" cy="100.9" r="3.3"/><circle cx="1441.3" cy="99" r="3.3"/><circle cx="1424" cy="120.1" r="3.3"/><circle cx="1442.7" cy="100.5" r="3.3"/><circle cx="1441.7" cy="118.9" r="3.3"/><circle cx="1430.1" cy="105.8" r="3.3"/><circle cx="1445" cy="113.4" r="3.3"/><circle cx="1436.4" cy="82.2" r="3.3"/><circle cx="1452" cy="111" r="3.3"/><circle cx="1439.9" cy="103.9" r="3.3"/><circle cx="1442.3" cy="102.1" r="3.3"/><circle cx="1429.6" cy="98.4" r="3.3"/><circle cx="1433.9" cy="99.9" r="3.3"/><circle cx="1428.3" cy="114.7" r="3.3"/><circle cx="1426.8" cy="115" r="3.3"/><circle cx="1429.7" cy="111.3" r="3.3"/><circle cx="1453.3" cy="109.6" r="3.3"/><circle cx="1432.5" cy="107.7" r="3.3"/><circle cx="1441.2" cy="86.6" r="3.3"/><circle cx="1433.7" cy="109.1" r="3.3"/><circle cx="1435.1" cy="108.1" r="3.3"/><circle cx="1447" cy="116.2" r="3.3"/><circle cx="1448.7" cy="114.1" r="3.3"/><circle cx="1436.9" cy="106.9" r="3.3"/><circle cx="1437.1" cy="103.4" r="3.3"/><circle cx="1438" cy="86.8" r="3.3"/><circle cx="1436.5" cy="106.9" r="3.3"/><circle cx="1430.1" cy="106.9" r="3.3"/><circle cx="1444.8" cy="105.2" r="3.3"/><circle cx="1437.7" cy="85.6" r="3.3"/><circle cx="1444.9" cy="103.6" r="3.3"/><circle cx="1474.6" cy="78.2" r="3.3"/><circle cx="1477.2" cy="84.8" r="3.3"/><circle cx="1470.1" cy="82.4" r="3.3"/><circle cx="1475.4" cy="82.6" r="3.3"/><circle cx="1471.8" cy="82.6" r="3.3"/><circle cx="1450.7" cy="83.8" r="3.3"/><circle cx="1471.7" cy="85.7" r="3.3"/><circle cx="1462.5" cy="83.8" r="3.3"/><circle cx="1475.2" cy="84.2" r="3.3"/><circle cx="1462.2" cy="79" r="3.3"/><circle cx="1477.2" cy="87.7" r="3.3"/><circle cx="1477.8" cy="85.9" r="3.3"/><circle cx="1464.7" cy="82.1" r="3.3"/><circle cx="1477.5" cy="81.6" r="3.3"/><circle cx="1454.4" cy="81.4" r="3.3"/><circle cx="1464.1" cy="82" r="3.3"/><circle cx="1471.9" cy="82" r="3.3"/><circle cx="1481.1" cy="83.6" r="3.3"/><circle cx="1460.7" cy="87.1" r="3.3"/><circle cx="1465" cy="84.4" r="3.3"/><circle cx="1469.8" cy="83.1" r="3.3"/><circle cx="1472.7" cy="82.1" r="3.3"/><circle cx="1459.1" cy="81.9" r="3.3"/><circle cx="1469.7" cy="84" r="3.3"/><circle cx="1474.7" cy="84.1" r="3.3"/><circle cx="1463.2" cy="82.1" r="3.3"/><circle cx="1451.8" cy="83.4" r="3.3"/><circle cx="1474.1" cy="85.2" r="3.3"/><circle cx="1468.9" cy="83.4" r="3.3"/><circle cx="1477.9" cy="83.9" r="3.3"/><circle cx="1476.2" cy="85.3" r="3.3"/><circle cx="1471.8" cy="87.1" r="3.3"/><circle cx="1465" cy="82.9" r="3.3"/><circle cx="1463" cy="81.9" r="3.3"/><circle cx="1470.1" cy="85.3" r="3.3"/><circle cx="1480" cy="85.9" r="3.3"/><circle cx="1480.2" cy="80.7" r="3.3"/><circle cx="1464.5" cy="85" r="3.3"/><circle cx="1482.2" cy="84.1" r="3.3"/><circle cx="1462.6" cy="83" r="3.3"/><circle cx="1488.3" cy="60.9" r="3.3"/><circle cx="1500.4" cy="62.7" r="3.3"/><circle cx="1492.1" cy="83.8" r="3.3"/><circle cx="1498.6" cy="70" r="3.3"/><circle cx="1488.6" cy="70.5" r="3.3"/><circle cx="1501" cy="72.1" r="3.3"/><circle cx="1499" cy="68.2" r="3.3"/><circle cx="1494.9" cy="65.9" r="3.3"/><circle cx="1494.4" cy="77.2" r="3.3"/><circle cx="1484" cy="66.9" r="3.3"/><circle cx="1493.3" cy="63.1" r="3.3"/><circle cx="1490.3" cy="73.4" r="3.3"/><circle cx="1503.2" cy="72.2" r="3.3"/><circle cx="1493.8" cy="55.7" r="3.3"/><circle cx="1502.7" cy="68" r="3.3"/><circle cx="1491.8" cy="59" r="3.3"/><circle cx="1491.7" cy="59.1" r="3.3"/><circle cx="1492.4" cy="70.9" r="3.3"/><circle cx="1492.1" cy="69.5" r="3.3"/><circle cx="1487.2" cy="78.2" r="3.3"/><circle cx="1488.3" cy="53.7" r="3.3"/><circle cx="1490.9" cy="61.6" r="3.3"/><circle cx="1486.3" cy="64.7" r="3.3"/><circle cx="1493.6" cy="58.5" r="3.3"/><circle cx="1491.2" cy="78.2" r="3.3"/><circle cx="1495.8" cy="66.3" r="3.3"/><circle cx="1492.7" cy="66.5" r="3.3"/><circle cx="1491.7" cy="73" r="3.3"/><circle cx="1491.9" cy="60.7" r="3.3"/><circle cx="1495.6" cy="62.8" r="3.3"/><circle cx="1492.8" cy="83.9" r="3.3"/><circle cx="1486.1" cy="58.9" r="3.3"/><circle cx="1481.5" cy="70.2" r="3.3"/><circle cx="1488.4" cy="53.3" r="3.3"/><circle cx="1483.7" cy="72.1" r="3.3"/><circle cx="1487.6" cy="64.6" r="3.3"/><circle cx="1493.8" cy="77.7" r="3.3"/><circle cx="1502.8" cy="75.2" r="3.3"/><circle cx="1492.8" cy="68.8" r="3.3"/><circle cx="1502" cy="78.2" r="3.3"/><circle cx="1490.2" cy="70.9" r="3.3"/><circle cx="1493.6" cy="67.8" r="3.3"/><circle cx="1489.2" cy="57.4" r="3.3"/><circle cx="1489" cy="55.8" r="3.3"/><circle cx="1498.8" cy="71.5" r="3.3"/><circle cx="1485.2" cy="78" r="3.3"/><circle cx="1497" cy="53" r="3.3"/><circle cx="1502.3" cy="73.5" r="3.3"/><circle cx="1494.9" cy="105.5" r="3.3"/><circle cx="1491.9" cy="103" r="3.3"/><circle cx="1499.8" cy="86.6" r="3.3"/><circle cx="1478.6" cy="87.6" r="3.3"/><circle cx="1484.9" cy="95.4" r="3.3"/><circle cx="1493.4" cy="104" r="3.3"/><circle cx="1490.4" cy="94.7" r="3.3"/><circle cx="1486" cy="110.7" r="3.3"/><circle cx="1497.1" cy="102.3" r="3.3"/><circle cx="1487.1" cy="116.6" r="3.3"/><circle cx="1484.6" cy="107.7" r="3.3"/><circle cx="1500.7" cy="98.7" r="3.3"/><circle cx="1497.7" cy="90.3" r="3.3"/><circle cx="1499.4" cy="103.3" r="3.3"/><circle cx="1475.5" cy="107.9" r="3.3"/><circle cx="1481.9" cy="114" r="3.3"/><circle cx="1483.8" cy="99.7" r="3.3"/><circle cx="1492.7" cy="98" r="3.3"/><circle cx="1492.5" cy="95.9" r="3.3"/><circle cx="1496.2" cy="101.4" r="3.3"/><circle cx="1500.7" cy="101.6" r="3.3"/><circle cx="1473.7" cy="102.3" r="3.3"/><circle cx="1494.4" cy="111.9" r="3.3"/><circle cx="1480.1" cy="116.6" r="3.3"/><circle cx="1488.7" cy="108" r="3.3"/><circle cx="1486.7" cy="90.3" r="3.3"/><circle cx="1500.2" cy="110.3" r="3.3"/><circle cx="1504.2" cy="109.8" r="3.3"/><circle cx="1484.8" cy="84.9" r="3.3"/><circle cx="1484.1" cy="94.7" r="3.3"/><circle cx="1482.6" cy="107.1" r="3.3"/><circle cx="1493.1" cy="98.7" r="3.3"/><circle cx="1491.7" cy="99.9" r="3.3"/><circle cx="1492" cy="108.7" r="3.3"/><circle cx="1498.9" cy="94.6" r="3.3"/><circle cx="1476.2" cy="115.4" r="3.3"/><circle cx="1491.1" cy="112.2" r="3.3"/><circle cx="1475" cy="98.1" r="3.3"/><circle cx="1490.3" cy="87.1" r="3.3"/><circle cx="1485.3" cy="108.5" r="3.3"/><circle cx="1500" cy="117" r="3.3"/><circle cx="1482.1" cy="87.5" r="3.3"/><circle cx="1494.9" cy="110.6" r="3.3"/><circle cx="1491.8" cy="88.5" r="3.3"/><circle cx="1497.3" cy="109.1" r="3.3"/><circle cx="1495.2" cy="96.5" r="3.3"/><circle cx="1492.9" cy="109.1" r="3.3"/><circle cx="1484.9" cy="83.2" r="3.3"/><circle cx="1493.1" cy="106.1" r="3.3"/><circle cx="1490.2" cy="110.1" r="3.3"/><circle cx="1484.7" cy="100.5" r="3.3"/><circle cx="1487.3" cy="107" r="3.3"/><circle cx="1504.7" cy="98.8" r="3.3"/><circle cx="1497.3" cy="107.1" r="3.3"/><circle cx="1506.4" cy="99.5" r="3.3"/><circle cx="1489" cy="90.9" r="3.3"/><circle cx="1494.4" cy="114.6" r="3.3"/><circle cx="1495" cy="105.5" r="3.3"/><circle cx="1488.2" cy="103" r="3.3"/><circle cx="1477" cy="111.7" r="3.3"/><circle cx="1486.3" cy="90.4" r="3.3"/><circle cx="1483.2" cy="93.2" r="3.3"/><circle cx="1497.9" cy="111.8" r="3.3"/><circle cx="1477.6" cy="110.5" r="3.3"/><circle cx="1498.2" cy="95.6" r="3.3"/><circle cx="1476.4" cy="94" r="3.3"/><circle cx="1484.2" cy="104.7" r="3.3"/><circle cx="1486.8" cy="81.3" r="3.3"/><circle cx="1492.2" cy="86.2" r="3.3"/><circle cx="1498.4" cy="89.4" r="3.3"/><circle cx="1483.7" cy="92.9" r="3.3"/><circle cx="1485.1" cy="114.1" r="3.3"/><circle cx="1497.9" cy="107.3" r="3.3"/><circle cx="1493" cy="86.1" r="3.3"/><circle cx="1485.3" cy="95.9" r="3.3"/><circle cx="1481.1" cy="106.3" r="3.3"/><circle cx="1483.3" cy="94.3" r="3.3"/><circle cx="1480.5" cy="81" r="3.3"/><circle cx="1495.5" cy="114.4" r="3.3"/><circle cx="1491.7" cy="91.7" r="3.3"/><circle cx="1501.3" cy="104.3" r="3.3"/><circle cx="1498.6" cy="115.9" r="3.3"/><circle cx="1500.4" cy="97" r="3.3"/><circle cx="1499.7" cy="109" r="3.3"/><circle cx="1475.9" cy="97.3" r="3.3"/><circle cx="1460.5" cy="109.4" r="3.3"/><circle cx="1472.3" cy="105.6" r="3.3"/><circle cx="1471.1" cy="115.6" r="3.3"/><circle cx="1461" cy="114" r="3.3"/><circle cx="1467.6" cy="110.9" r="3.3"/><circle cx="1468" cy="113.7" r="3.3"/><circle cx="1475" cy="110.1" r="3.3"/><circle cx="1460.8" cy="112.7" r="3.3"/><circle cx="1466.1" cy="112.3" r="3.3"/><circle cx="1470.4" cy="116.2" r="3.3"/><circle cx="1475.7" cy="141.2" r="3.3"/><circle cx="1470.2" cy="153.6" r="3.3"/><circle cx="1464.1" cy="146.1" r="3.3"/><circle cx="1476" cy="150.7" r="3.3"/><circle cx="1471.4" cy="136.3" r="3.3"/><circle cx="1459.1" cy="145.1" r="3.3"/><circle cx="1461.9" cy="150.1" r="3.3"/><circle cx="1473.1" cy="134.4" r="3.3"/><circle cx="1462.2" cy="144.6" r="3.3"/><circle cx="1464.4" cy="142.8" r="3.3"/><circle cx="1471.1" cy="139.2" r="3.3"/><circle cx="1471" cy="140.2" r="3.3"/><circle cx="1464.1" cy="146.7" r="3.3"/><circle cx="1463.9" cy="145.3" r="3.3"/><circle cx="1478.8" cy="143.9" r="3.3"/><circle cx="1466.8" cy="147.8" r="3.3"/><circle cx="1465.3" cy="149.8" r="3.3"/><circle cx="1459" cy="147.2" r="3.3"/><circle cx="1464.3" cy="139.2" r="3.3"/><circle cx="1480" cy="139" r="3.3"/><circle cx="1479.9" cy="147.4" r="3.3"/><circle cx="1477.8" cy="138.3" r="3.3"/><circle cx="1476.1" cy="151.8" r="3.3"/><circle cx="1467" cy="143" r="3.3"/><circle cx="1464.9" cy="140.2" r="3.3"/><circle cx="1470.9" cy="145.6" r="3.3"/><circle cx="1469" cy="153.3" r="3.3"/><circle cx="1465.6" cy="146.4" r="3.3"/><circle cx="1477.9" cy="138.1" r="3.3"/><circle cx="1475" cy="153.9" r="3.3"/><circle cx="1458.5" cy="137.6" r="3.3"/><circle cx="1460.7" cy="133.4" r="3.3"/><circle cx="1470.9" cy="133.3" r="3.3"/><circle cx="1471.3" cy="151.8" r="3.3"/><circle cx="1486.9" cy="130.1" r="3.3"/><circle cx="1485.5" cy="133.3" r="3.3"/><circle cx="1490.9" cy="130.2" r="3.3"/><circle cx="1494.6" cy="132.6" r="3.3"/><circle cx="1492.7" cy="131" r="3.3"/><circle cx="1491.8" cy="131.3" r="3.3"/><circle cx="1488.9" cy="131.2" r="3.3"/><circle cx="1485.4" cy="129.5" r="3.3"/><circle cx="1503.1" cy="131.2" r="3.3"/><circle cx="1509.6" cy="147.3" r="3.3"/><circle cx="1510.8" cy="140.4" r="3.3"/><circle cx="1511.8" cy="149" r="3.3"/><circle cx="1516.6" cy="146" r="3.3"/><circle cx="1511" cy="142.5" r="3.3"/><circle cx="1520.7" cy="147.2" r="3.3"/><circle cx="1510.9" cy="138.7" r="3.3"/><circle cx="1510.1" cy="146.1" r="3.3"/><circle cx="1515.9" cy="145.8" r="3.3"/><circle cx="1513.8" cy="141.4" r="3.3"/><circle cx="1509.3" cy="139.1" r="3.3"/><circle cx="1510.7" cy="137.7" r="3.3"/><circle cx="1506.1" cy="135.8" r="3.3"/><circle cx="1515.7" cy="138" r="3.3"/><circle cx="1508.9" cy="137.3" r="3.3"/><circle cx="1516.3" cy="135.1" r="3.3"/><circle cx="1418.5" cy="91.3" r="3.3"/><circle cx="1424.9" cy="89.1" r="3.3"/><circle cx="1420.7" cy="107.7" r="3.3"/><circle cx="1449.8" cy="152.2" r="3.3"/><circle cx="1446.6" cy="153.2" r="3.3"/><circle cx="1467.8" cy="92.8" r="3.3"/><circle cx="1458.3" cy="101.3" r="3.3"/><circle cx="1459.3" cy="118.8" r="3.3"/><circle cx="1475.8" cy="131" r="3.3"/><circle cx="1461.5" cy="134.2" r="3.3"/><circle cx="1481.6" cy="135.8" r="3.3"/><circle cx="1485.8" cy="145.3" r="3.3"/><circle cx="1500.1" cy="116.2" r="3.3"/><circle cx="1507" cy="114.6" r="3.3"/><circle cx="1520.3" cy="101.9" r="3.3"/><circle cx="1524" cy="111.9" r="3.3"/><circle cx="1528.7" cy="153.2" r="3.3"/><circle cx="1542.5" cy="157.5" r="3.3"/><circle cx="1536.7" cy="132.1" r="3.3"/><circle cx="1486.4" cy="55.2" r="3.3"/><circle cx="1431.8" cy="128.9" r="3.3"/></g>
<g fill="#ffff00" stroke="#c8c800"><circle cx="1474.2" cy="157.5" r="3.3"/><circle cx="1477.9" cy="160.1" r="3.3"/><circle cx="1482.1" cy="159.6" r="3.3"/><circle cx="1489" cy="164.4" r="3.3"/><circle cx="1492.4" cy="165.4" r="3.3"/><circle cx="1519.7" cy="158" r="3.3"/><circle cx="1517.8" cy="161.9" r="3.3"/></g>
<g fill="#0044dd" stroke="#0033aa"><circle cx="1509.8" cy="177.9" r="3.3"/></g>
<g fill="#ffff00" stroke="#c8c800"><circle cx="1538.5" cy="212.9" r="3.3"/><circle cx="1522.4" cy="225.3" r="3.3"/><circle cx="1519.8" cy="205" r="3.3"/><circle cx="1527.1" cy="236.3" r="3.3"/><circle cx="1527.4" cy="243.4" r="3.3"/><circle cx="1517.8" cy="207.1" r="3.3"/><circle cx="1552.2" cy="231.2" r="3.3"/><circle cx="1544.5" cy="213.9" r="3.3"/><circle cx="1542.7" cy="229.2" r="3.3"/><circle cx="1540.7" cy="225.9" r="3.3"/><circle cx="1547.8" cy="216.4" r="3.3"/><circle cx="1520.3" cy="204.7" r="3.3"/><circle cx="1547.2" cy="215.2" r="3.3"/><circle cx="1519.3" cy="212.3" r="3.3"/><circle cx="1526.9" cy="207.7" r="3.3"/><circle cx="1528.8" cy="216.7" r="3.3"/><circle cx="1525.5" cy="212" r="3.3"/><circle cx="1533" cy="219.1" r="3.3"/><circle cx="1534" cy="229.1" r="3.3"/><circle cx="1536.8" cy="194.7" r="3.3"/><circle cx="1525.7" cy="214.3" r="3.3"/><circle cx="1542.3" cy="203.3" r="3.3"/><circle cx="1523.4" cy="221.4" r="3.3"/><circle cx="1528.2" cy="239.5" r="3.3"/><circle cx="1526.9" cy="239.1" r="3.3"/><circle cx="1513.9" cy="200" r="3.3"/><circle cx="1547.9" cy="231.7" r="3.3"/><circle cx="1538.7" cy="227.3" r="3.3"/><circle cx="1538.6" cy="208.4" r="3.3"/><circle cx="1544.5" cy="218.1" r="3.3"/><circle cx="1545" cy="226.8" r="3.3"/><circle cx="1546.8" cy="223.6" r="3.3"/><circle cx="1527.5" cy="229" r="3.3"/><circle cx="1527.1" cy="217.9" r="3.3"/><circle cx="1533.8" cy="227.6" r="3.3"/><circle cx="1551.7" cy="226.2" r="3.3"/><circle cx="1554.3" cy="240.5" r="3.3"/><circle cx="1534.2" cy="227.5" r="3.3"/><circle cx="1530.7" cy="215.3" r="3.3"/><circle cx="1531.7" cy="216.5" r="3.3"/><circle cx="1553.3" cy="233.1" r="3.3"/><circle cx="1526.8" cy="198.6" r="3.3"/><circle cx="1531.8" cy="219.7" r="3.3"/><circle cx="1518.7" cy="209.6" r="3.3"/><circle cx="1504" cy="233.6" r="3.3"/><circle cx="1532.1" cy="223.5" r="3.3"/><circle cx="1550.8" cy="227.4" r="3.3"/><circle cx="1534.6" cy="220.3" r="3.3"/><circle cx="1524.8" cy="246.7" r="3.3"/><circle cx="1545.2" cy="249.7" r="3.3"/><circle cx="1528.1" cy="226" r="3.3"/><circle cx="1521.3" cy="239.2" r="3.3"/><circle cx="1514.8" cy="233.5" r="3.3"/><circle cx="1546.4" cy="245.4" r="3.3"/><circle cx="1520.6" cy="240.9" r="3.3"/><circle cx="1523.5" cy="214.9" r="3.3"/><circle cx="1515.7" cy="241.8" r="3.3"/><circle cx="1553.4" cy="217.2" r="3.3"/><circle cx="1522.9" cy="220.8" r="3.3"/><circle cx="1525.6" cy="200.3" r="3.3"/><circle cx="1524" cy="242.3" r="3.3"/><circle cx="1556.2" cy="221.8" r="3.3"/><circle cx="1523.7" cy="218.4" r="3.3"/><circle cx="1508.6" cy="238.3" r="3.3"/><circle cx="1518.7" cy="240.5" r="3.3"/><circle cx="1510.9" cy="207.7" r="3.3"/><circle cx="1536.2" cy="214.8" r="3.3"/><circle cx="1542.4" cy="225.7" r="3.3"/><circle cx="1517.6" cy="234.3" r="3.3"/><circle cx="1543.2" cy="198.6" r="3.3"/><circle cx="1555.6" cy="232.6" r="3.3"/><circle cx="1542.1" cy="199.4" r="3.3"/><circle cx="1523.4" cy="220.6" r="3.3"/><circle cx="1546.1" cy="205" r="3.3"/><circle cx="1521.3" cy="197" r="3.3"/><circle cx="1529.4" cy="230.4" r="3.3"/><circle cx="1511.1" cy="217.2" r="3.3"/><circle cx="1539" cy="247.9" r="3.3"/><circle cx="1540.9" cy="221.3" r="3.3"/><circle cx="1517.6" cy="212.4" r="3.3"/><circle cx="1524.1" cy="227.6" r="3.3"/><circle cx="1531.9" cy="249" r="3.3"/><circle cx="1536.1" cy="210.5" r="3.3"/><circle cx="1552.1" cy="238.9" r="3.3"/><circle cx="1533.8" cy="215.4" r="3.3"/><circle cx="1508.8" cy="211.2" r="3.3"/><circle cx="1544.1" cy="214.2" r="3.3"/><circle cx="1515.8" cy="228.3" r="3.3"/><circle cx="1535.6" cy="234.1" r="3.3"/><circle cx="1540.8" cy="245.4" r="3.3"/><circle cx="1521.9" cy="239.3" r="3.3"/><circle cx="1520" cy="235.3" r="3.3"/><circle cx="1534.8" cy="229" r="3.3"/><circle cx="1544.8" cy="225.3" r="3.3"/><circle cx="1546.6" cy="237.9" r="3.3"/><circle cx="1534.2" cy="217.6" r="3.3"/><circle cx="1522.9" cy="218.1" r="3.3"/><circle cx="1529.9" cy="225.2" r="3.3"/><circle cx="1542.2" cy="213.4" r="3.3"/><circle cx="1523.5" cy="221.1" r="3.3"/><circle cx="1534.9" cy="211" r="3.3"/><circle cx="1552.9" cy="217.6" r="3.3"/><circle cx="1532.4" cy="229.5" r="3.3"/><circle cx="1534.9" cy="234" r="3.3"/><circle cx="1536" cy="227.8" r="3.3"/><circle cx="1508.5" cy="215.5" r="3.3"/><circle cx="1536.4" cy="222.8" r="3.3"/><circle cx="1522.1" cy="217.4" r="3.3"/><circle cx="1531.8" cy="243.7" r="3.3"/><circle cx="1526.4" cy="213.2" r="3.3"/><circle cx="1525.4" cy="228.2" r="3.3"/><circle cx="1533.1" cy="229.4" r="3.3"/><circle cx="1532.1" cy="238.7" r="3.3"/><circle cx="1555" cy="208" r="3.3"/><circle cx="1534.5" cy="221.8" r="3.3"/><circle cx="1537" cy="204" r="3.3"/><circle cx="1539.2" cy="228.3" r="3.3"/><circle cx="1527.8" cy="214.9" r="3.3"/><circle cx="1514.6" cy="212.7" r="3.3"/><circle cx="1541.3" cy="233.2" r="3.3"/><circle cx="1532.2" cy="232.8" r="3.3"/><circle cx="1524.8" cy="226.6" r="3.3"/><circle cx="1533" cy="233.4" r="3.3"/><circle cx="1531.6" cy="223.5" r="3.3"/><circle cx="1530.8" cy="216.5" r="3.3"/><circle cx="1558.8" cy="182.2" r="3.3"/><circle cx="1546.1" cy="189.2" r="3.3"/><circle cx="1553" cy="174" r="3.3"/><circle cx="1548" cy="183.4" r="3.3"/><circle cx="1556.4" cy="185.3" r="3.3"/><circle cx="1548.5" cy="175.5" r="3.3"/><circle cx="1537" cy="181.2" r="3.3"/><circle cx="1546.7" cy="176.1" r="3.3"/><circle cx="1540.4" cy="178.5" r="3.3"/><circle cx="1543.5" cy="181.5" r="3.3"/><circle cx="1541.1" cy="175.3" r="3.3"/><circle cx="1551.8" cy="186.4" r="3.3"/><circle cx="1542.3" cy="184.2" r="3.3"/><circle cx="1546.2" cy="182.7" r="3.3"/><circle cx="1546.5" cy="177.1" r="3.3"/><circle cx="1547.1" cy="184.1" r="3.3"/><circle cx="1536.8" cy="187.9" r="3.3"/><circle cx="1557.1" cy="183.1" r="3.3"/><circle cx="1540.7" cy="177.8" r="3.3"/><circle cx="1537.4" cy="180.6" r="3.3"/><circle cx="1542.9" cy="182.8" r="3.3"/><circle cx="1559.1" cy="180" r="3.3"/><circle cx="1555.9" cy="196.2" r="3.3"/><circle cx="1553.2" cy="193.8" r="3.3"/><circle cx="1550.6" cy="191.6" r="3.3"/><circle cx="1552.6" cy="194.4" r="3.3"/><circle cx="1553.5" cy="191.5" r="3.3"/><circle cx="1551.7" cy="194.7" r="3.3"/><circle cx="1555.4" cy="190.7" r="3.3"/><circle cx="1554.2" cy="198" r="3.3"/><circle cx="1555.3" cy="193.2" r="3.3"/><circle cx="1548.2" cy="193.7" r="3.3"/><circle cx="1556.2" cy="200.1" r="3.3"/><circle cx="1550.4" cy="192.2" r="3.3"/><circle cx="1553.9" cy="195.2" r="3.3"/><circle cx="1545.5" cy="191.9" r="3.3"/><circle cx="1550.8" cy="196.9" r="3.3"/><circle cx="1543.6" cy="190.9" r="3.3"/><circle cx="1572.1" cy="177.6" r="3.3"/><circle cx="1569.6" cy="185.7" r="3.3"/><circle cx="1568.1" cy="178.7" r="3.3"/><circle cx="1568.4" cy="182.2" r="3.3"/><circle cx="1571" cy="179.6" r="3.3"/><circle cx="1576" cy="175.3" r="3.3"/><circle cx="1567.7" cy="184" r="3.3"/><circle cx="1575.2" cy="180.8" r="3.3"/><circle cx="1572.4" cy="181" r="3.3"/><circle cx="1573.7" cy="192.9" r="3.3"/><circle cx="1566.2" cy="186.2" r="3.3"/><circle cx="1562.7" cy="188.9" r="3.3"/><circle cx="1576.8" cy="184.1" r="3.3"/><circle cx="1561.4" cy="186" r="3.3"/><circle cx="1576.4" cy="189.5" r="3.3"/><circle cx="1574.2" cy="174.5" r="3.3"/><circle cx="1564.4" cy="191.3" r="3.3"/><circle cx="1560.8" cy="189.8" r="3.3"/><circle cx="1581.2" cy="187.8" r="3.3"/><circle cx="1576.2" cy="182.2" r="3.3"/><circle cx="1560.8" cy="183.4" r="3.3"/><circle cx="1567.5" cy="183.7" r="3.3"/><circle cx="1573.4" cy="183.2" r="3.3"/><circle cx="1570.1" cy="186.1" r="3.3"/><circle cx="1568.8" cy="193.4" r="3.3"/><circle cx="1571.7" cy="184.3" r="3.3"/><circle cx="1597.1" cy="171.9" r="3.3"/><circle cx="1617.5" cy="178.3" r="3.3"/><circle cx="1585.7" cy="172.5" r="3.3"/><circle cx="1598.1" cy="173.4" r="3.3"/><circle cx="1614.1" cy="167.5" r="3.3"/><circle cx="1606.3" cy="178.3" r="3.3"/><circle cx="1584.4" cy="177.5" r="3.3"/><circle cx="1598.6" cy="181.2" r="3.3"/><circle cx="1594" cy="179.6" r="3.3"/><circle cx="1578" cy="168.1" r="3.3"/><circle cx="1610.2" cy="185.7" r="3.3"/><circle cx="1599.7" cy="172.1" r="3.3"/><circle cx="1589.4" cy="182.7" r="3.3"/><circle cx="1608.5" cy="168.6" r="3.3"/><circle cx="1601.9" cy="169.7" r="3.3"/><circle cx="1600.6" cy="184.5" r="3.3"/><circle cx="1609.6" cy="159.9" r="3.3"/><circle cx="1610" cy="162.4" r="3.3"/><circle cx="1614.9" cy="180.4" r="3.3"/><circle cx="1629.5" cy="172.1" r="3.3"/><circle cx="1599.9" cy="185.8" r="3.3"/><circle cx="1591.5" cy="171.3" r="3.3"/><circle cx="1595" cy="176.5" r="3.3"/><circle cx="1585.7" cy="181.1" r="3.3"/><circle cx="1607" cy="177.7" r="3.3"/><circle cx="1622.2" cy="174.4" r="3.3"/><circle cx="1617.1" cy="172.6" r="3.3"/><circle cx="1609.8" cy="161.1" r="3.3"/><circle cx="1602.5" cy="175.6" r="3.3"/><circle cx="1593.4" cy="172.1" r="3.3"/><circle cx="1595.3" cy="171.2" r="3.3"/><circle cx="1571.1" cy="172.2" r="3.3"/><circle cx="1592.7" cy="172.8" r="3.3"/><circle cx="1586" cy="176" r="3.3"/><circle cx="1610.2" cy="175" r="3.3"/><circle cx="1593.4" cy="188.3" r="3.3"/><circle cx="1612.7" cy="184.7" r="3.3"/><circle cx="1615.1" cy="174.4" r="3.3"/><circle cx="1598.2" cy="186.3" r="3.3"/><circle cx="1592.6" cy="176.1" r="3.3"/><circle cx="1604.8" cy="180.2" r="3.3"/><circle cx="1596.2" cy="185.2" r="3.3"/><circle cx="1597.5" cy="183.1" r="3.3"/><circle cx="1613.9" cy="182.5" r="3.3"/><circle cx="1609.5" cy="167.5" r="3.3"/><circle cx="1582.6" cy="172" r="3.3"/><circle cx="1606.1" cy="189.5" r="3.3"/><circle cx="1583.8" cy="179.6" r="3.3"/><circle cx="1588.7" cy="171" r="3.3"/><circle cx="1596.2" cy="182.8" r="3.3"/><circle cx="1602.7" cy="186.8" r="3.3"/><circle cx="1586.9" cy="184.4" r="3.3"/><circle cx="1612.1" cy="177.7" r="3.3"/><circle cx="1606.2" cy="172.4" r="3.3"/><circle cx="1585.6" cy="173.8" r="3.3"/><circle cx="1593.5" cy="190.7" r="3.3"/><circle cx="1602.5" cy="179.7" r="3.3"/><circle cx="1609.6" cy="170.7" r="3.3"/><circle cx="1611.9" cy="180.2" r="3.3"/><circle cx="1580" cy="182.1" r="3.3"/><circle cx="1607.1" cy="180.8" r="3.3"/><circle cx="1620.7" cy="173.7" r="3.3"/><circle cx="1606.6" cy="183.3" r="3.3"/><circle cx="1588" cy="187" r="3.3"/><circle cx="1580.8" cy="166.4" r="3.3"/><circle cx="1606.7" cy="168.1" r="3.3"/><circle cx="1598.4" cy="163.5" r="3.3"/><circle cx="1600.8" cy="167.7" r="3.3"/><circle cx="1573.4" cy="198.1" r="3.3"/><circle cx="1574.1" cy="202.6" r="3.3"/><circle cx="1571.5" cy="203.4" r="3.3"/><circle cx="1572" cy="198.9" r="3.3"/><circle cx="1565" cy="202" r="3.3"/><circle cx="1573.9" cy="196.5" r="3.3"/><circle cx="1566.1" cy="201.4" r="3.3"/><circle cx="1564.2" cy="204.8" r="3.3"/><circle cx="1570.2" cy="200.7" r="3.3"/><circle cx="1564.6" cy="206.5" r="3.3"/><circle cx="1566.8" cy="205.7" r="3.3"/><circle cx="1574.1" cy="196.8" r="3.3"/><circle cx="1564" cy="203.6" r="3.3"/><circle cx="1573.4" cy="206.4" r="3.3"/><circle cx="1592.3" cy="221.9" r="3.3"/><circle cx="1579" cy="216.3" r="3.3"/><circle cx="1592" cy="215.3" r="3.3"/><circle cx="1595.1" cy="210.1" r="3.3"/><circle cx="1590.6" cy="216.4" r="3.3"/><circle cx="1561.1" cy="221.6" r="3.3"/><circle cx="1586.7" cy="217.3" r="3.3"/><circle cx="1571.1" cy="215.1" r="3.3"/><circle cx="1600.3" cy="213.5" r="3.3"/><circle cx="1569.7" cy="216.6" r="3.3"/><circle cx="1578.8" cy="213.1" r="3.3"/><circle cx="1573.7" cy="221.9" r="3.3"/><circle cx="1577.1" cy="212.3" r="3.3"/><circle cx="1592.1" cy="219.8" r="3.3"/><circle cx="1571.5" cy="220.6" r="3.3"/><circle cx="1562.5" cy="213.1" r="3.3"/><circle cx="1595.9" cy="216.1" r="3.3"/><circle cx="1568.6" cy="219.5" r="3.3"/><circle cx="1593.6" cy="217.1" r="3.3"/><circle cx="1562.9" cy="215.7" r="3.3"/><circle cx="1587.9" cy="220.7" r="3.3"/><circle cx="1604.1" cy="216.1" r="3.3"/><circle cx="1577.8" cy="217.1" r="3.3"/><circle cx="1596.8" cy="213" r="3.3"/><circle cx="1592.2" cy="214.2" r="3.3"/><circle cx="1588.4" cy="220.3" r="3.3"/><circle cx="1569.9" cy="216.8" r="3.3"/><circle cx="1585.9" cy="219.9" r="3.3"/><circle cx="1572.7" cy="212.8" r="3.3"/><circle cx="1581.1" cy="216.2" r="3.3"/><circle cx="1566.4" cy="221.4" r="3.3"/><circle cx="1577.2" cy="223.7" r="3.3"/><circle cx="1576.6" cy="230.9" r="3.3"/><circle cx="1576" cy="227.9" r="3.3"/><circle cx="1571.1" cy="229.3" r="3.3"/><circle cx="1566.7" cy="230.9" r="3.3"/><circle cx="1571.9" cy="234.6" r="3.3"/><circle cx="1568.3" cy="229.6" r="3.3"/><circle cx="1574.6" cy="231.9" r="3.3"/><circle cx="1607.7" cy="238.8" r="3.3"/><circle cx="1611.1" cy="247.4" r="3.3"/><circle cx="1594" cy="241" r="3.3"/><circle cx="1597.4" cy="231.5" r="3.3"/><circle cx="1608.5" cy="244.3" r="3.3"/><circle cx="1608.3" cy="234.7" r="3.3"/><circle cx="1606" cy="234.3" r="3.3"/><circle cx="1610.2" cy="250.8" r="3.3"/><circle cx="1620.3" cy="256.8" r="3.3"/><circle cx="1601.6" cy="239" r="3.3"/><circle cx="1600.6" cy="246.9" r="3.3"/><circle cx="1622" cy="251" r="3.3"/><circle cx="1598" cy="249" r="3.3"/><circle cx="1607.5" cy="246.8" r="3.3"/><circle cx="1620.5" cy="235.2" r="3.3"/><circle cx="1601.2" cy="264" r="3.3"/><circle cx="1610" cy="235.7" r="3.3"/><circle cx="1607.8" cy="254" r="3.3"/><circle cx="1606.4" cy="236.6" r="3.3"/><circle cx="1602" cy="263.4" r="3.3"/><circle cx="1594.5" cy="245.5" r="3.3"/><circle cx="1607.6" cy="250.1" r="3.3"/><circle cx="1604.5" cy="248.9" r="3.3"/><circle cx="1613.4" cy="242.2" r="3.3"/><circle cx="1604.1" cy="241.8" r="3.3"/><circle cx="1600.4" cy="241.6" r="3.3"/><circle cx="1605.2" cy="245.9" r="3.3"/><circle cx="1617.2" cy="257.2" r="3.3"/><circle cx="1604.2" cy="250" r="3.3"/><circle cx="1609.6" cy="251.6" r="3.3"/><circle cx="1607.6" cy="246.5" r="3.3"/><circle cx="1604" cy="235.6" r="3.3"/><circle cx="1613.8" cy="257.1" r="3.3"/><circle cx="1612.3" cy="248.2" r="3.3"/><circle cx="1609.4" cy="239.1" r="3.3"/><circle cx="1594.4" cy="250.6" r="3.3"/><circle cx="1608.9" cy="238" r="3.3"/><circle cx="1600.4" cy="256.9" r="3.3"/><circle cx="1602.2" cy="243.5" r="3.3"/><circle cx="1603.7" cy="245.3" r="3.3"/><circle cx="1605.9" cy="236" r="3.3"/><circle cx="1615.3" cy="235.6" r="3.3"/><circle cx="1603.7" cy="249.5" r="3.3"/><circle cx="1603.5" cy="239.2" r="3.3"/><circle cx="1610.1" cy="239.9" r="3.3"/><circle cx="1598.3" cy="242.7" r="3.3"/><circle cx="1605.8" cy="261.3" r="3.3"/><circle cx="1599.4" cy="253.7" r="3.3"/><circle cx="1601.7" cy="240" r="3.3"/><circle cx="1605.1" cy="246.5" r="3.3"/><circle cx="1613.8" cy="261.8" r="3.3"/><circle cx="1602.8" cy="257.5" r="3.3"/><circle cx="1614.7" cy="252.1" r="3.3"/><circle cx="1601.9" cy="253" r="3.3"/><circle cx="1606.7" cy="247.4" r="3.3"/><circle cx="1605.5" cy="250.6" r="3.3"/><circle cx="1615.6" cy="255.4" r="3.3"/><circle cx="1605.9" cy="254" r="3.3"/><circle cx="1618.1" cy="234.1" r="3.3"/><circle cx="1618.2" cy="229.9" r="3.3"/><circle cx="1611.4" cy="249.9" r="3.3"/><circle cx="1618.3" cy="246.6" r="3.3"/><circle cx="1603.9" cy="235.5" r="3.3"/><circle cx="1598.3" cy="251.6" r="3.3"/><circle cx="1605.7" cy="236.3" r="3.3"/><circle cx="1611.3" cy="235.8" r="3.3"/><circle cx="1593.3" cy="262.2" r="3.3"/><circle cx="1603.1" cy="267.3" r="3.3"/><circle cx="1594.6" cy="259.3" r="3.3"/><circle cx="1596.6" cy="263.6" r="3.3"/><circle cx="1597" cy="264.9" r="3.3"/><circle cx="1593.8" cy="265.8" r="3.3"/><circle cx="1599.3" cy="264" r="3.3"/><circle cx="1593.4" cy="262.1" r="3.3"/><circle cx="1598.6" cy="260.5" r="3.3"/><circle cx="1622.4" cy="234.7" r="3.3"/><circle cx="1620.5" cy="238.7" r="3.3"/><circle cx="1622.6" cy="237" r="3.3"/><circle cx="1623.9" cy="232.4" r="3.3"/><circle cx="1518.1" cy="188.5" r="3.3"/><circle cx="1519.6" cy="193.8" r="3.3"/><circle cx="1506" cy="217.2" r="3.3"/><circle cx="1581.7" cy="239.9" r="3.3"/><circle cx="1559" cy="228.6" r="3.3"/><circle cx="1537.8" cy="252.1" r="3.3"/><circle cx="1577.2" cy="153.9" r="3.3"/><circle cx="1598.4" cy="157.9" r="3.3"/><circle cx="1592.3" cy="270.2" r="3.3"/></g>
<g fill="#44ffff" stroke="#30d0d0"><circle cx="1597.6" cy="154.4" r="3.3"/><circle cx="1596.4" cy="176.8" r="3.3"/></g>
<g fill="#44ffff" stroke="#30d0d0"><circle cx="1515.5" cy="78" r="3.3"/><circle cx="1520.5" cy="83.8" r="3.3"/><circle cx="1526" cy="81.2" r="3.3"/><circle cx="1528.8" cy="87.5" r="3.3"/><circle cx="1534.6" cy="86.5" r="3.3"/><circle cx="1539.9" cy="90.9" r="3.3"/><circle cx="1542.6" cy="87" r="3.3"/><circle cx="1542.3" cy="90.7" r="3.3"/><circle cx="1544.3" cy="93.2" r="3.3"/><circle cx="1541.8" cy="96.1" r="3.3"/><circle cx="1540.1" cy="88.9" r="3.3"/><circle cx="1539" cy="87.4" r="3.3"/><circle cx="1540" cy="84.8" r="3.3"/><circle cx="1549.3" cy="108" r="3.3"/><circle cx="1559" cy="100.8" r="3.3"/><circle cx="1562.6" cy="98" r="3.3"/><circle cx="1548.9" cy="86.6" r="3.3"/><circle cx="1543.2" cy="96.7" r="3.3"/><circle cx="1563.2" cy="108.9" r="3.3"/><circle cx="1540.4" cy="108.9" r="3.3"/><circle cx="1554.3" cy="101.9" r="3.3"/><circle cx="1550.3" cy="101.3" r="3.3"/><circle cx="1545.3" cy="87.9" r="3.3"/><circle cx="1549.3" cy="115.7" r="3.3"/><circle cx="1562.7" cy="101.5" r="3.3"/><circle cx="1543.5" cy="102.1" r="3.3"/><circle cx="1558" cy="107.3" r="3.3"/><circle cx="1544.9" cy="107.4" r="3.3"/><circle cx="1548.3" cy="108.7" r="3.3"/><circle cx="1546.5" cy="90.7" r="3.3"/><circle cx="1550.6" cy="111" r="3.3"/><circle cx="1540.3" cy="103.1" r="3.3"/><circle cx="1557.8" cy="100.7" r="3.3"/><circle cx="1544.4" cy="122.5" r="3.3"/><circle cx="1557.3" cy="113.4" r="3.3"/><circle cx="1541.8" cy="118.9" r="3.3"/><circle cx="1535.5" cy="99.4" r="3.3"/><circle cx="1556.6" cy="116.1" r="3.3"/><circle cx="1541.9" cy="98" r="3.3"/><circle cx="1551.8" cy="86.6" r="3.3"/><circle cx="1555.7" cy="109.1" r="3.3"/><circle cx="1546.2" cy="108.9" r="3.3"/><circle cx="1556.9" cy="106.9" r="3.3"/><circle cx="1554.6" cy="117.8" r="3.3"/><circle cx="1545.9" cy="105.5" r="3.3"/><circle cx="1545.5" cy="113.4" r="3.3"/><circle cx="1546.5" cy="108.3" r="3.3"/><circle cx="1551.3" cy="104.7" r="3.3"/><circle cx="1565" cy="103.3" r="3.3"/><circle cx="1562.4" cy="111.5" r="3.3"/><circle cx="1561.6" cy="102.6" r="3.3"/><circle cx="1558.2" cy="110.9" r="3.3"/><circle cx="1544.7" cy="106.5" r="3.3"/><circle cx="1549" cy="103.7" r="3.3"/><circle cx="1561.4" cy="97.6" r="3.3"/><circle cx="1546.1" cy="98.3" r="3.3"/><circle cx="1550.2" cy="109.1" r="3.3"/><circle cx="1565.4" cy="106.8" r="3.3"/><circle cx="1554.1" cy="97.5" r="3.3"/><circle cx="1555.1" cy="116.3" r="3.3"/><circle cx="1561.7" cy="86.5" r="3.3"/><circle cx="1557.8" cy="118.3" r="3.3"/><circle cx="1557.2" cy="90.6" r="3.3"/><circle cx="1547.4" cy="109.3" r="3.3"/><circle cx="1553.7" cy="96.8" r="3.3"/><circle cx="1542.4" cy="112.7" r="3.3"/><circle cx="1538.5" cy="116.9" r="3.3"/><circle cx="1550.2" cy="106.8" r="3.3"/><circle cx="1538.5" cy="98.7" r="3.3"/><circle cx="1537.8" cy="111.2" r="3.3"/><circle cx="1527.5" cy="116.2" r="3.3"/><circle cx="1536.6" cy="118.5" r="3.3"/><circle cx="1532.1" cy="115.4" r="3.3"/><circle cx="1532.8" cy="114.2" r="3.3"/><circle cx="1535.4" cy="116.6" r="3.3"/><circle cx="1530.7" cy="116.9" r="3.3"/><circle cx="1534" cy="115.8" r="3.3"/><circle cx="1540" cy="110.4" r="3.3"/><circle cx="1535.4" cy="112.6" r="3.3"/><circle cx="1564.9" cy="90.7" r="3.3"/><circle cx="1562.2" cy="83.6" r="3.3"/><circle cx="1564" cy="88.3" r="3.3"/><circle cx="1562.6" cy="76.5" r="3.3"/><circle cx="1567.9" cy="82.5" r="3.3"/><circle cx="1564.9" cy="88.9" r="3.3"/><circle cx="1562.9" cy="82.4" r="3.3"/><circle cx="1566.6" cy="85.9" r="3.3"/><circle cx="1564.2" cy="88.7" r="3.3"/><circle cx="1574.1" cy="82.2" r="3.3"/><circle cx="1571.1" cy="82.5" r="3.3"/><circle cx="1566.6" cy="82.5" r="3.3"/><circle cx="1569" cy="72.8" r="3.3"/><circle cx="1569.4" cy="77.4" r="3.3"/><circle cx="1572.1" cy="74.4" r="3.3"/><circle cx="1575.1" cy="80" r="3.3"/><circle cx="1587.6" cy="66.5" r="3.3"/><circle cx="1583.1" cy="83.3" r="3.3"/><circle cx="1595.5" cy="72" r="3.3"/><circle cx="1587.8" cy="64.4" r="3.3"/><circle cx="1599.9" cy="76.4" r="3.3"/><circle cx="1584.8" cy="77.8" r="3.3"/><circle cx="1583.7" cy="75.5" r="3.3"/><circle cx="1584.7" cy="68.5" r="3.3"/><circle cx="1594.4" cy="74.1" r="3.3"/><circle cx="1597.9" cy="65.6" r="3.3"/><circle cx="1601.6" cy="80.2" r="3.3"/><circle cx="1591" cy="74.3" r="3.3"/><circle cx="1585.9" cy="70.2" r="3.3"/><circle cx="1582.3" cy="71.8" r="3.3"/><circle cx="1592.4" cy="80.2" r="3.3"/><circle cx="1597.4" cy="76.7" r="3.3"/><circle cx="1588.7" cy="69.7" r="3.3"/><circle cx="1588.8" cy="72.7" r="3.3"/><circle cx="1578.2" cy="76.4" r="3.3"/><circle cx="1580.7" cy="67.8" r="3.3"/><circle cx="1591.3" cy="67.8" r="3.3"/><circle cx="1602.2" cy="70.6" r="3.3"/><circle cx="1601.6" cy="79.1" r="3.3"/><circle cx="1587.8" cy="73.9" r="3.3"/><circle cx="1599.8" cy="69" r="3.3"/><circle cx="1591.7" cy="67.5" r="3.3"/><circle cx="1591.5" cy="68.9" r="3.3"/><circle cx="1591.7" cy="77.9" r="3.3"/><circle cx="1600.4" cy="72.1" r="3.3"/><circle cx="1592.5" cy="76.9" r="3.3"/><circle cx="1589.2" cy="64.2" r="3.3"/><circle cx="1598.5" cy="65" r="3.3"/><circle cx="1602.3" cy="88.1" r="3.3"/><circle cx="1603.9" cy="87.8" r="3.3"/><circle cx="1602.1" cy="95.7" r="3.3"/><circle cx="1598.9" cy="95.7" r="3.3"/><circle cx="1599.1" cy="85.6" r="3.3"/><circle cx="1601.9" cy="93.2" r="3.3"/><circle cx="1558.3" cy="126.3" r="3.3"/><circle cx="1537.3" cy="129.3" r="3.3"/><circle cx="1653" cy="118" r="3.3"/><circle cx="1653.3" cy="125.3" r="3.3"/><circle cx="1651.4" cy="125.4" r="3.3"/><circle cx="1645.8" cy="124.7" r="3.3"/><circle cx="1660.4" cy="133.3" r="3.3"/><circle cx="1651.6" cy="123" r="3.3"/><circle cx="1655.8" cy="133.3" r="3.3"/><circle cx="1657.4" cy="121.1" r="3.3"/><circle cx="1654.7" cy="128.2" r="3.3"/><circle cx="1660" cy="132.8" r="3.3"/><circle cx="1656.4" cy="133.9" r="3.3"/><circle cx="1651.8" cy="135" r="3.3"/><circle cx="1651.1" cy="129.8" r="3.3"/><circle cx="1658.5" cy="122.3" r="3.3"/><circle cx="1650.6" cy="119.3" r="3.3"/><circle cx="1654.7" cy="126.9" r="3.3"/><circle cx="1651.7" cy="130.4" r="3.3"/><circle cx="1645.1" cy="127.2" r="3.3"/><circle cx="1654.2" cy="125.6" r="3.3"/><circle cx="1657.1" cy="135.2" r="3.3"/><circle cx="1651.2" cy="121.8" r="3.3"/><circle cx="1650.1" cy="127.9" r="3.3"/><circle cx="1656.9" cy="122.3" r="3.3"/><circle cx="1658.7" cy="121.9" r="3.3"/><circle cx="1658.4" cy="129.8" r="3.3"/><circle cx="1655.5" cy="136.2" r="3.3"/></g>
<g fill="#66f000" stroke="#50c000"><circle cx="1524.2" cy="128.7" r="3.3"/></g>
<g fill="#ffa000" stroke="#d88400"><circle cx="1536.9" cy="132.3" r="3.3"/><circle cx="1638.7" cy="127.1" r="3.3"/><circle cx="1641.4" cy="128.7" r="3.3"/></g>
<g fill="#66f000" stroke="#50c000"><circle cx="1486.7" cy="306.8" r="3.3"/></g>
<g fill="#ffff00" stroke="#c8c800"><circle cx="1491.3" cy="309" r="3.3"/></g>
<g fill="#a4a4a8" stroke="#858588"><circle cx="1497" cy="320.3" r="3.3"/><circle cx="1504.9" cy="328.4" r="3.3"/><circle cx="1487.4" cy="323.6" r="3.3"/><circle cx="1492.3" cy="326.6" r="3.3"/><circle cx="1512.9" cy="322" r="3.3"/><circle cx="1498.8" cy="323.2" r="3.3"/><circle cx="1483.7" cy="324.9" r="3.3"/><circle cx="1506.2" cy="323" r="3.3"/><circle cx="1495.8" cy="315.8" r="3.3"/><circle cx="1498.2" cy="330.6" r="3.3"/><circle cx="1499" cy="331.2" r="3.3"/><circle cx="1483.7" cy="319.5" r="3.3"/><circle cx="1503.1" cy="321.6" r="3.3"/><circle cx="1486.2" cy="317.5" r="3.3"/><circle cx="1510.4" cy="313.6" r="3.3"/><circle cx="1490.9" cy="314.2" r="3.3"/><circle cx="1494.1" cy="326.8" r="3.3"/><circle cx="1504.4" cy="310.3" r="3.3"/><circle cx="1513" cy="317.7" r="3.3"/><circle cx="1495.1" cy="332.2" r="3.3"/><circle cx="1499.2" cy="312.6" r="3.3"/><circle cx="1493.4" cy="316" r="3.3"/><circle cx="1489.7" cy="319.1" r="3.3"/><circle cx="1509.1" cy="324.4" r="3.3"/><circle cx="1492.5" cy="333" r="3.3"/><circle cx="1489.8" cy="322.6" r="3.3"/><circle cx="1500.3" cy="327.8" r="3.3"/><circle cx="1496.3" cy="325.5" r="3.3"/><circle cx="1515.8" cy="322.2" r="3.3"/><circle cx="1489.2" cy="324.1" r="3.3"/><circle cx="1491.5" cy="318.7" r="3.3"/><circle cx="1502.1" cy="324.5" r="3.3"/><circle cx="1497" cy="328.4" r="3.3"/><circle cx="1498.2" cy="312.3" r="3.3"/><circle cx="1509.1" cy="318.8" r="3.3"/><circle cx="1511.4" cy="317.1" r="3.3"/><circle cx="1506.3" cy="324.3" r="3.3"/><circle cx="1485.3" cy="315.6" r="3.3"/><circle cx="1490.7" cy="330.4" r="3.3"/><circle cx="1485.8" cy="326.8" r="3.3"/><circle cx="1510.7" cy="325.3" r="3.3"/><circle cx="1507.2" cy="317.7" r="3.3"/><circle cx="1499.9" cy="323.6" r="3.3"/><circle cx="1504.5" cy="327.3" r="3.3"/><circle cx="1497.8" cy="316" r="3.3"/><circle cx="1493.9" cy="325" r="3.3"/><circle cx="1487.4" cy="314.6" r="3.3"/><circle cx="1495.5" cy="317.2" r="3.3"/><circle cx="1498.3" cy="309.3" r="3.3"/><circle cx="1496.1" cy="319.6" r="3.3"/><circle cx="1505.8" cy="310.6" r="3.3"/><circle cx="1496.6" cy="325.6" r="3.3"/><circle cx="1504.7" cy="330.3" r="3.3"/><circle cx="1509.6" cy="314.5" r="3.3"/><circle cx="1506.9" cy="318.9" r="3.3"/><circle cx="1493.2" cy="331.4" r="3.3"/><circle cx="1493.6" cy="315.2" r="3.3"/><circle cx="1495.7" cy="315" r="3.3"/><circle cx="1510.2" cy="324.6" r="3.3"/><circle cx="1512.9" cy="324.5" r="3.3"/><circle cx="1494" cy="329.4" r="3.3"/><circle cx="1493" cy="318" r="3.3"/><circle cx="1498.1" cy="322" r="3.3"/><circle cx="1511.4" cy="317.4" r="3.3"/><circle cx="1504" cy="321.4" r="3.3"/><circle cx="1489.1" cy="314.6" r="3.3"/><circle cx="1497.5" cy="325.1" r="3.3"/><circle cx="1503.6" cy="325.7" r="3.3"/><circle cx="1500.5" cy="317.9" r="3.3"/><circle cx="1504.3" cy="314.1" r="3.3"/><circle cx="1487.4" cy="319.3" r="3.3"/><circle cx="1487.1" cy="318.2" r="3.3"/><circle cx="1492.2" cy="317.3" r="3.3"/><circle cx="1499.5" cy="315.2" r="3.3"/><circle cx="1496.4" cy="310.9" r="3.3"/><circle cx="1501.5" cy="314.7" r="3.3"/><circle cx="1502.4" cy="309.2" r="3.3"/><circle cx="1491.4" cy="323.6" r="3.3"/><circle cx="1483.7" cy="319.9" r="3.3"/><circle cx="1501.1" cy="322.6" r="3.3"/><circle cx="1509.8" cy="332.5" r="3.3"/><circle cx="1492.6" cy="312.1" r="3.3"/></g>
<g fill="#d42424" stroke="#a01818"><circle cx="1453.5" cy="364.6" r="3.3"/><circle cx="1449.5" cy="373.6" r="3.3"/><circle cx="1448.9" cy="382.7" r="3.3"/><circle cx="1457.1" cy="380" r="3.3"/><circle cx="1457.9" cy="381.7" r="3.3"/><circle cx="1455.2" cy="381" r="3.3"/><circle cx="1464" cy="379.6" r="3.3"/><circle cx="1454.8" cy="384" r="3.3"/><circle cx="1459.4" cy="378.5" r="3.3"/><circle cx="1461" cy="384.1" r="3.3"/><circle cx="1450.3" cy="382" r="3.3"/><circle cx="1461" cy="366.7" r="3.3"/><circle cx="1466.9" cy="381.3" r="3.3"/><circle cx="1458.6" cy="366.4" r="3.3"/><circle cx="1454.5" cy="368.6" r="3.3"/><circle cx="1468" cy="368.9" r="3.3"/><circle cx="1461.4" cy="362.8" r="3.3"/><circle cx="1459.3" cy="384.4" r="3.3"/><circle cx="1457.1" cy="363.4" r="3.3"/><circle cx="1454.5" cy="378.1" r="3.3"/><circle cx="1455.3" cy="371.5" r="3.3"/><circle cx="1458" cy="373.5" r="3.3"/><circle cx="1450" cy="377.4" r="3.3"/><circle cx="1464.7" cy="381.1" r="3.3"/><circle cx="1450.6" cy="374.8" r="3.3"/><circle cx="1467.4" cy="367.6" r="3.3"/><circle cx="1463.3" cy="370.5" r="3.3"/><circle cx="1466.1" cy="376.2" r="3.3"/><circle cx="1466.2" cy="381.9" r="3.3"/><circle cx="1458" cy="379.9" r="3.3"/><circle cx="1478.9" cy="384.2" r="3.3"/><circle cx="1466.8" cy="396" r="3.3"/><circle cx="1457.1" cy="362.7" r="3.3"/></g>
<g fill="#0044dd" stroke="#0033aa"><circle cx="1357.2" cy="618.6" r="3.3"/></g>
<g fill="#d42424" stroke="#a01818"><circle cx="1340.8" cy="595.8" r="3.3"/><circle cx="1341.5" cy="580.1" r="3.3"/><circle cx="1339.5" cy="597.8" r="3.3"/><circle cx="1346.3" cy="589.9" r="3.3"/><circle cx="1338.9" cy="578.6" r="3.3"/><circle cx="1344.1" cy="590.2" r="3.3"/><circle cx="1334.2" cy="587.9" r="3.3"/><circle cx="1348.4" cy="589.1" r="3.3"/><circle cx="1341.6" cy="591.8" r="3.3"/><circle cx="1344.5" cy="594" r="3.3"/><circle cx="1338.9" cy="589.1" r="3.3"/><circle cx="1335.5" cy="580.5" r="3.3"/><circle cx="1341.1" cy="585.4" r="3.3"/><circle cx="1337.5" cy="580.6" r="3.3"/><circle cx="1348.1" cy="588.7" r="3.3"/><circle cx="1336.6" cy="578.6" r="3.3"/><circle cx="1348.7" cy="584.4" r="3.3"/><circle cx="1334" cy="582" r="3.3"/><circle cx="1343.8" cy="596.7" r="3.3"/><circle cx="1350" cy="592.3" r="3.3"/><circle cx="1339.5" cy="583.7" r="3.3"/><circle cx="1344.4" cy="596.6" r="3.3"/><circle cx="1342.1" cy="583.8" r="3.3"/><circle cx="1339" cy="596.1" r="3.3"/><circle cx="1341.4" cy="599.7" r="3.3"/><circle cx="1340.6" cy="576.6" r="3.3"/><circle cx="1340.5" cy="592.4" r="3.3"/><circle cx="1345.8" cy="614.2" r="3.3"/><circle cx="1339" cy="607.7" r="3.3"/><circle cx="1360.5" cy="608.6" r="3.3"/><circle cx="1353.7" cy="612" r="3.3"/><circle cx="1357.5" cy="597.9" r="3.3"/><circle cx="1353.2" cy="596.7" r="3.3"/><circle cx="1339.4" cy="604.9" r="3.3"/><circle cx="1344.1" cy="611.7" r="3.3"/><circle cx="1335.6" cy="607.9" r="3.3"/><circle cx="1352.5" cy="601.9" r="3.3"/><circle cx="1342.9" cy="592.5" r="3.3"/><circle cx="1345.6" cy="604.6" r="3.3"/><circle cx="1342.8" cy="609.9" r="3.3"/><circle cx="1340.6" cy="612.2" r="3.3"/><circle cx="1342.8" cy="609.4" r="3.3"/><circle cx="1345.9" cy="618.8" r="3.3"/><circle cx="1337" cy="613" r="3.3"/><circle cx="1354.1" cy="614.3" r="3.3"/><circle cx="1336.6" cy="598.2" r="3.3"/><circle cx="1334.6" cy="601.5" r="3.3"/><circle cx="1345.4" cy="601" r="3.3"/><circle cx="1343.4" cy="591.2" r="3.3"/><circle cx="1348.5" cy="616.8" r="3.3"/><circle cx="1352.1" cy="595.4" r="3.3"/><circle cx="1352.8" cy="609.9" r="3.3"/><circle cx="1339.9" cy="597" r="3.3"/><circle cx="1356.9" cy="607.6" r="3.3"/><circle cx="1337.6" cy="599.2" r="3.3"/><circle cx="1340.3" cy="614.4" r="3.3"/><circle cx="1344.8" cy="595.4" r="3.3"/><circle cx="1340.2" cy="615.8" r="3.3"/><circle cx="1349.9" cy="613.6" r="3.3"/><circle cx="1344.4" cy="614.6" r="3.3"/><circle cx="1349.6" cy="597.3" r="3.3"/><circle cx="1349.5" cy="606.7" r="3.3"/><circle cx="1355.5" cy="611.2" r="3.3"/><circle cx="1334" cy="603.9" r="3.3"/><circle cx="1338" cy="606.3" r="3.3"/><circle cx="1354.9" cy="604.1" r="3.3"/><circle cx="1345.5" cy="610.4" r="3.3"/><circle cx="1350.3" cy="592.6" r="3.3"/><circle cx="1355.1" cy="611.9" r="3.3"/><circle cx="1351.6" cy="608.7" r="3.3"/><circle cx="1344.8" cy="599.8" r="3.3"/><circle cx="1348.5" cy="592" r="3.3"/><circle cx="1359.1" cy="608.1" r="3.3"/><circle cx="1360.3" cy="599.5" r="3.3"/><circle cx="1355.8" cy="589.5" r="3.3"/><circle cx="1346.8" cy="614.1" r="3.3"/><circle cx="1354.5" cy="610.2" r="3.3"/><circle cx="1359.4" cy="613.2" r="3.3"/><circle cx="1357" cy="614.3" r="3.3"/><circle cx="1353.9" cy="614.4" r="3.3"/><circle cx="1349.2" cy="610.2" r="3.3"/><circle cx="1361.4" cy="611.6" r="3.3"/><circle cx="1354.8" cy="616.6" r="3.3"/><circle cx="1361.1" cy="616.6" r="3.3"/></g>
<g fill="#66f000" stroke="#50c000"><circle cx="1358.8" cy="505.9" r="3.3"/><circle cx="1344.5" cy="490.9" r="3.3"/><circle cx="1348.2" cy="504" r="3.3"/><circle cx="1369.5" cy="508.4" r="3.3"/><circle cx="1349.2" cy="495.9" r="3.3"/><circle cx="1363.5" cy="504.1" r="3.3"/><circle cx="1363.9" cy="518.2" r="3.3"/><circle cx="1364.1" cy="508.6" r="3.3"/><circle cx="1359.6" cy="517.4" r="3.3"/><circle cx="1343.5" cy="505.7" r="3.3"/><circle cx="1348.7" cy="500.7" r="3.3"/><circle cx="1369.5" cy="503.5" r="3.3"/><circle cx="1357" cy="517.8" r="3.3"/><circle cx="1351.4" cy="517.9" r="3.3"/><circle cx="1349.7" cy="512.6" r="3.3"/><circle cx="1347.7" cy="505.3" r="3.3"/><circle cx="1369.6" cy="504.4" r="3.3"/><circle cx="1355.3" cy="518.1" r="3.3"/><circle cx="1356.9" cy="511.7" r="3.3"/><circle cx="1341.7" cy="514.6" r="3.3"/><circle cx="1369.3" cy="511.8" r="3.3"/><circle cx="1353.2" cy="512.4" r="3.3"/><circle cx="1336" cy="506.3" r="3.3"/><circle cx="1341.4" cy="511.4" r="3.3"/><circle cx="1366.8" cy="504" r="3.3"/><circle cx="1348.4" cy="511.5" r="3.3"/><circle cx="1338.6" cy="503.2" r="3.3"/><circle cx="1346" cy="500.7" r="3.3"/><circle cx="1371.1" cy="506.3" r="3.3"/><circle cx="1347" cy="490.7" r="3.3"/><circle cx="1360" cy="495.5" r="3.3"/><circle cx="1360.2" cy="520.1" r="3.3"/><circle cx="1357.5" cy="502.1" r="3.3"/><circle cx="1344.2" cy="496.1" r="3.3"/><circle cx="1367.2" cy="507" r="3.3"/><circle cx="1345.9" cy="495.6" r="3.3"/><circle cx="1352.7" cy="520.8" r="3.3"/><circle cx="1348.4" cy="496.8" r="3.3"/><circle cx="1356.3" cy="489.3" r="3.3"/><circle cx="1342.5" cy="513.4" r="3.3"/><circle cx="1359.3" cy="508.8" r="3.3"/><circle cx="1363.8" cy="491.9" r="3.3"/><circle cx="1360.3" cy="502.1" r="3.3"/><circle cx="1349.7" cy="494.6" r="3.3"/><circle cx="1357" cy="520.5" r="3.3"/><circle cx="1358.1" cy="508.1" r="3.3"/><circle cx="1348.8" cy="510.7" r="3.3"/><circle cx="1341.5" cy="513.2" r="3.3"/><circle cx="1335.8" cy="503.5" r="3.3"/><circle cx="1345.7" cy="505.8" r="3.3"/><circle cx="1350.1" cy="504.1" r="3.3"/><circle cx="1349" cy="498.9" r="3.3"/><circle cx="1340.8" cy="506" r="3.3"/><circle cx="1359.8" cy="502.2" r="3.3"/><circle cx="1351" cy="514.9" r="3.3"/><circle cx="1341.5" cy="503.7" r="3.3"/><circle cx="1370.7" cy="503.2" r="3.3"/><circle cx="1367.5" cy="500.2" r="3.3"/><circle cx="1357.2" cy="492.8" r="3.3"/><circle cx="1355.7" cy="512.1" r="3.3"/><circle cx="1359.3" cy="518.8" r="3.3"/><circle cx="1351.3" cy="501.8" r="3.3"/><circle cx="1351.8" cy="510" r="3.3"/><circle cx="1342.2" cy="503.5" r="3.3"/><circle cx="1341.7" cy="506.2" r="3.3"/><circle cx="1342.8" cy="511.7" r="3.3"/><circle cx="1354.5" cy="500.2" r="3.3"/><circle cx="1354" cy="492" r="3.3"/><circle cx="1355.3" cy="498.1" r="3.3"/><circle cx="1349.1" cy="520.5" r="3.3"/><circle cx="1363.1" cy="502.7" r="3.3"/><circle cx="1345.3" cy="512.2" r="3.3"/><circle cx="1344.9" cy="519.4" r="3.3"/><circle cx="1340.9" cy="504.9" r="3.3"/><circle cx="1365.4" cy="497.3" r="3.3"/><circle cx="1367.1" cy="499.8" r="3.3"/><circle cx="1347.9" cy="506.9" r="3.3"/><circle cx="1339.7" cy="505.3" r="3.3"/><circle cx="1340.8" cy="494.6" r="3.3"/><circle cx="1344" cy="514.5" r="3.3"/><circle cx="1361.3" cy="490.5" r="3.3"/><circle cx="1357.7" cy="496.9" r="3.3"/><circle cx="1360.1" cy="492.6" r="3.3"/><circle cx="1347.7" cy="516.7" r="3.3"/><circle cx="1357.7" cy="490.5" r="3.3"/><circle cx="1353.8" cy="517.1" r="3.3"/><circle cx="1349" cy="498.6" r="3.3"/><circle cx="1354.7" cy="490.1" r="3.3"/><circle cx="1337.8" cy="497" r="3.3"/><circle cx="1349.1" cy="513.6" r="3.3"/><circle cx="1367.6" cy="502.7" r="3.3"/><circle cx="1365.7" cy="505.5" r="3.3"/><circle cx="1346.4" cy="519" r="3.3"/><circle cx="1360.6" cy="503.9" r="3.3"/><circle cx="1345.9" cy="491.1" r="3.3"/><circle cx="1337.2" cy="513.2" r="3.3"/><circle cx="1374.5" cy="510.5" r="3.3"/><circle cx="1354.2" cy="522.9" r="3.3"/><circle cx="1345.7" cy="489" r="3.3"/></g>
<g fill="#44ffff" stroke="#30d0d0"><circle cx="1487.4" cy="434.8" r="3.3"/></g>
<g fill="#ffa000" stroke="#d88400"><circle cx="1452.4" cy="466.2" r="3.3"/><circle cx="1453.8" cy="460" r="3.3"/><circle cx="1424.6" cy="448.4" r="3.3"/><circle cx="1439.2" cy="474.9" r="3.3"/><circle cx="1430.5" cy="453.9" r="3.3"/><circle cx="1419" cy="456.9" r="3.3"/><circle cx="1445.3" cy="445.6" r="3.3"/><circle cx="1445.7" cy="445.3" r="3.3"/><circle cx="1433" cy="459.1" r="3.3"/><circle cx="1437.6" cy="457.7" r="3.3"/><circle cx="1449" cy="448.2" r="3.3"/><circle cx="1426" cy="475.8" r="3.3"/><circle cx="1436.5" cy="445.6" r="3.3"/><circle cx="1453.3" cy="445.4" r="3.3"/><circle cx="1448.5" cy="450.5" r="3.3"/><circle cx="1424.5" cy="469.4" r="3.3"/><circle cx="1458.9" cy="455" r="3.3"/><circle cx="1442.3" cy="451.9" r="3.3"/><circle cx="1460" cy="472.3" r="3.3"/><circle cx="1443" cy="450.8" r="3.3"/><circle cx="1443.9" cy="451.3" r="3.3"/><circle cx="1459.6" cy="435.6" r="3.3"/><circle cx="1431.5" cy="455.7" r="3.3"/><circle cx="1443.8" cy="433.8" r="3.3"/><circle cx="1450.1" cy="468.8" r="3.3"/><circle cx="1429.2" cy="441.4" r="3.3"/><circle cx="1465.1" cy="459.6" r="3.3"/><circle cx="1425.1" cy="442" r="3.3"/><circle cx="1451.2" cy="466.6" r="3.3"/><circle cx="1422.8" cy="439.6" r="3.3"/><circle cx="1414.1" cy="452.6" r="3.3"/><circle cx="1447.2" cy="456.9" r="3.3"/><circle cx="1445.1" cy="467.6" r="3.3"/><circle cx="1422.3" cy="453.7" r="3.3"/><circle cx="1432.2" cy="451.6" r="3.3"/><circle cx="1448.1" cy="469" r="3.3"/><circle cx="1450.4" cy="457.3" r="3.3"/><circle cx="1449" cy="471" r="3.3"/><circle cx="1451.9" cy="476.8" r="3.3"/><circle cx="1437" cy="458.3" r="3.3"/><circle cx="1422.5" cy="460.8" r="3.3"/><circle cx="1434.1" cy="453.4" r="3.3"/><circle cx="1447.7" cy="455.5" r="3.3"/><circle cx="1451.5" cy="459.1" r="3.3"/><circle cx="1453.7" cy="447.9" r="3.3"/><circle cx="1435.3" cy="448.1" r="3.3"/><circle cx="1433.4" cy="467.6" r="3.3"/><circle cx="1448.6" cy="472.4" r="3.3"/><circle cx="1443.5" cy="450.1" r="3.3"/><circle cx="1448.1" cy="455.2" r="3.3"/><circle cx="1454.5" cy="451.8" r="3.3"/><circle cx="1449.8" cy="445" r="3.3"/><circle cx="1431.2" cy="462.7" r="3.3"/><circle cx="1427.6" cy="451.9" r="3.3"/><circle cx="1452.6" cy="467.1" r="3.3"/><circle cx="1417.7" cy="460.3" r="3.3"/><circle cx="1446.3" cy="464.4" r="3.3"/><circle cx="1453" cy="463.7" r="3.3"/><circle cx="1431.6" cy="463.2" r="3.3"/><circle cx="1466.9" cy="471.7" r="3.3"/><circle cx="1460.4" cy="463.6" r="3.3"/><circle cx="1444.9" cy="471.1" r="3.3"/><circle cx="1429.8" cy="466.1" r="3.3"/><circle cx="1449.2" cy="462.7" r="3.3"/><circle cx="1458.7" cy="467.9" r="3.3"/><circle cx="1461" cy="460.3" r="3.3"/><circle cx="1441.2" cy="463.3" r="3.3"/><circle cx="1452.9" cy="440.7" r="3.3"/><circle cx="1448.3" cy="464.7" r="3.3"/><circle cx="1442" cy="447.4" r="3.3"/><circle cx="1441.5" cy="442.4" r="3.3"/><circle cx="1431.9" cy="454.5" r="3.3"/><circle cx="1416.3" cy="453.2" r="3.3"/><circle cx="1454.5" cy="465" r="3.3"/><circle cx="1439.9" cy="457.8" r="3.3"/><circle cx="1440.3" cy="465.5" r="3.3"/><circle cx="1432.8" cy="441.8" r="3.3"/><circle cx="1433.1" cy="448.7" r="3.3"/><circle cx="1449.4" cy="436.5" r="3.3"/><circle cx="1440.7" cy="453.9" r="3.3"/><circle cx="1450.9" cy="478.3" r="3.3"/><circle cx="1446.8" cy="473.2" r="3.3"/><circle cx="1451.7" cy="452.7" r="3.3"/><circle cx="1430.4" cy="461.6" r="3.3"/><circle cx="1430.7" cy="454.2" r="3.3"/><circle cx="1435.6" cy="460.5" r="3.3"/><circle cx="1445.4" cy="469.6" r="3.3"/><circle cx="1455.8" cy="456.6" r="3.3"/><circle cx="1451.3" cy="465.1" r="3.3"/><circle cx="1427.7" cy="465.9" r="3.3"/><circle cx="1448.8" cy="465.6" r="3.3"/><circle cx="1450.5" cy="464.8" r="3.3"/><circle cx="1455.8" cy="456.4" r="3.3"/><circle cx="1481.1" cy="460.3" r="3.3"/><circle cx="1484.9" cy="463.9" r="3.3"/><circle cx="1451.2" cy="460.2" r="3.3"/><circle cx="1472.6" cy="465.4" r="3.3"/><circle cx="1478.3" cy="468.5" r="3.3"/><circle cx="1481" cy="475.8" r="3.3"/><circle cx="1480.5" cy="441" r="3.3"/><circle cx="1470.3" cy="449.3" r="3.3"/><circle cx="1469.3" cy="469.4" r="3.3"/><circle cx="1466.1" cy="466.3" r="3.3"/><circle cx="1482.5" cy="469" r="3.3"/><circle cx="1487.5" cy="445" r="3.3"/><circle cx="1474" cy="464.5" r="3.3"/><circle cx="1472.3" cy="464.7" r="3.3"/><circle cx="1479.1" cy="452.4" r="3.3"/><circle cx="1470.4" cy="452.2" r="3.3"/><circle cx="1458.5" cy="452.6" r="3.3"/><circle cx="1469.5" cy="459.2" r="3.3"/><circle cx="1468.1" cy="451.5" r="3.3"/><circle cx="1459" cy="450.2" r="3.3"/><circle cx="1470.2" cy="467.6" r="3.3"/><circle cx="1464.3" cy="450.9" r="3.3"/><circle cx="1474.4" cy="463.2" r="3.3"/><circle cx="1481.2" cy="451.6" r="3.3"/><circle cx="1477" cy="456.6" r="3.3"/><circle cx="1484.9" cy="453.3" r="3.3"/><circle cx="1473.7" cy="447.9" r="3.3"/><circle cx="1466.4" cy="446.6" r="3.3"/><circle cx="1474" cy="466" r="3.3"/><circle cx="1491.5" cy="447.7" r="3.3"/><circle cx="1492" cy="470.8" r="3.3"/><circle cx="1476" cy="456.9" r="3.3"/><circle cx="1454.8" cy="451.8" r="3.3"/><circle cx="1469.1" cy="451.8" r="3.3"/><circle cx="1472.3" cy="454.8" r="3.3"/><circle cx="1480.5" cy="458.3" r="3.3"/><circle cx="1462.5" cy="453.3" r="3.3"/><circle cx="1463.1" cy="464.4" r="3.3"/><circle cx="1482.4" cy="465.7" r="3.3"/><circle cx="1472.9" cy="453.1" r="3.3"/><circle cx="1481.5" cy="456.2" r="3.3"/><circle cx="1476.3" cy="452.8" r="3.3"/><circle cx="1451.6" cy="458.7" r="3.3"/><circle cx="1470.8" cy="451.6" r="3.3"/><circle cx="1483.5" cy="453.6" r="3.3"/><circle cx="1483" cy="467.3" r="3.3"/><circle cx="1469.7" cy="448.7" r="3.3"/><circle cx="1462.5" cy="453.6" r="3.3"/><circle cx="1480.1" cy="466.9" r="3.3"/><circle cx="1481.8" cy="477.9" r="3.3"/><circle cx="1473.1" cy="452.1" r="3.3"/><circle cx="1467.9" cy="459" r="3.3"/><circle cx="1473.6" cy="471.1" r="3.3"/><circle cx="1473.6" cy="466.8" r="3.3"/><circle cx="1463.1" cy="455.5" r="3.3"/><circle cx="1462" cy="454.7" r="3.3"/><circle cx="1455.5" cy="450.4" r="3.3"/><circle cx="1483.5" cy="452.1" r="3.3"/><circle cx="1455.5" cy="453.1" r="3.3"/><circle cx="1487.9" cy="452.5" r="3.3"/><circle cx="1477" cy="472.1" r="3.3"/><circle cx="1483.6" cy="453.7" r="3.3"/><circle cx="1472" cy="471.1" r="3.3"/><circle cx="1483.5" cy="462.2" r="3.3"/><circle cx="1470.5" cy="463.1" r="3.3"/><circle cx="1464" cy="454.5" r="3.3"/><circle cx="1485.4" cy="470.9" r="3.3"/><circle cx="1456.6" cy="455.3" r="3.3"/><circle cx="1500" cy="467.8" r="3.3"/><circle cx="1469.3" cy="441.9" r="3.3"/><circle cx="1476.7" cy="438.7" r="3.3"/><circle cx="1473" cy="439.9" r="3.3"/><circle cx="1474.8" cy="440.8" r="3.3"/><circle cx="1473.8" cy="436.6" r="3.3"/><circle cx="1507.4" cy="447.1" r="3.3"/><circle cx="1505.7" cy="445.3" r="3.3"/><circle cx="1502.9" cy="447" r="3.3"/><circle cx="1504" cy="444.3" r="3.3"/><circle cx="1504.1" cy="445.8" r="3.3"/><circle cx="1503.4" cy="474.6" r="3.3"/><circle cx="1499.2" cy="473.8" r="3.3"/><circle cx="1500.7" cy="472.5" r="3.3"/><circle cx="1503.8" cy="472.6" r="3.3"/><circle cx="1506.2" cy="469" r="3.3"/><circle cx="1504.3" cy="475.1" r="3.3"/><circle cx="1512.2" cy="472.6" r="3.3"/><circle cx="1506.3" cy="469.5" r="3.3"/><circle cx="1502.1" cy="472.9" r="3.3"/><circle cx="1504.6" cy="470.6" r="3.3"/><circle cx="1428.7" cy="482.9" r="3.3"/><circle cx="1437.2" cy="481.2" r="3.3"/><circle cx="1434.2" cy="484.9" r="3.3"/><circle cx="1435.9" cy="479.8" r="3.3"/><circle cx="1446.5" cy="481.4" r="3.3"/><circle cx="1453.8" cy="478.9" r="3.3"/><circle cx="1453.2" cy="480.8" r="3.3"/><circle cx="1446.7" cy="479.2" r="3.3"/><circle cx="1437.7" cy="496.7" r="3.3"/><circle cx="1433.8" cy="494.4" r="3.3"/><circle cx="1467.8" cy="507.5" r="3.3"/><circle cx="1458.2" cy="507.7" r="3.3"/><circle cx="1475.4" cy="503.2" r="3.3"/><circle cx="1458.8" cy="500.8" r="3.3"/><circle cx="1466.2" cy="502.9" r="3.3"/><circle cx="1464.7" cy="509.2" r="3.3"/><circle cx="1474.2" cy="502.1" r="3.3"/><circle cx="1464" cy="506.7" r="3.3"/><circle cx="1469.5" cy="503.7" r="3.3"/><circle cx="1469.9" cy="501.4" r="3.3"/><circle cx="1468.3" cy="493.7" r="3.3"/><circle cx="1469.6" cy="502.7" r="3.3"/><circle cx="1468" cy="503.3" r="3.3"/><circle cx="1472.6" cy="506" r="3.3"/><circle cx="1463.6" cy="504.4" r="3.3"/><circle cx="1473.2" cy="507.5" r="3.3"/><circle cx="1467" cy="499.1" r="3.3"/><circle cx="1467.3" cy="499.2" r="3.3"/><circle cx="1471.3" cy="495.7" r="3.3"/><circle cx="1463.9" cy="504" r="3.3"/><circle cx="1505.5" cy="493.2" r="3.3"/><circle cx="1515.3" cy="491.6" r="3.3"/><circle cx="1506" cy="488.3" r="3.3"/><circle cx="1505.3" cy="494.2" r="3.3"/><circle cx="1515.6" cy="488" r="3.3"/><circle cx="1510.7" cy="493.7" r="3.3"/><circle cx="1512.8" cy="502.1" r="3.3"/><circle cx="1517.5" cy="499" r="3.3"/><circle cx="1521.5" cy="503.4" r="3.3"/><circle cx="1521" cy="502.7" r="3.3"/><circle cx="1522" cy="502.8" r="3.3"/><circle cx="1517.1" cy="503.1" r="3.3"/><circle cx="1484.1" cy="424.9" r="3.3"/><circle cx="1502.1" cy="432.8" r="3.3"/><circle cx="1517.1" cy="439.6" r="3.3"/><circle cx="1484.1" cy="440.2" r="3.3"/><circle cx="1490.9" cy="442" r="3.3"/><circle cx="1523.4" cy="451.9" r="3.3"/><circle cx="1524.1" cy="468.5" r="3.3"/><circle cx="1464.3" cy="482.4" r="3.3"/><circle cx="1463.1" cy="493.7" r="3.3"/><circle cx="1481.1" cy="493.9" r="3.3"/><circle cx="1485.3" cy="502.3" r="3.3"/><circle cx="1495.1" cy="488.9" r="3.3"/><circle cx="1503.3" cy="495.9" r="3.3"/><circle cx="1527.9" cy="509.3" r="3.3"/><circle cx="1448.6" cy="509.5" r="3.3"/><circle cx="1436.9" cy="515.3" r="3.3"/><circle cx="1489.5" cy="519.3" r="3.3"/></g>
<g fill="#44ffff" stroke="#30d0d0"><circle cx="1592.8" cy="422.9" r="3.3"/><circle cx="1592.2" cy="425.8" r="3.3"/><circle cx="1589" cy="422.8" r="3.3"/><circle cx="1584.1" cy="428.9" r="3.3"/><circle cx="1583" cy="422" r="3.3"/><circle cx="1595.3" cy="421.5" r="3.3"/><circle cx="1592.6" cy="428" r="3.3"/><circle cx="1596.3" cy="417.7" r="3.3"/><circle cx="1594.5" cy="428.4" r="3.3"/><circle cx="1599.4" cy="428.3" r="3.3"/><circle cx="1593.6" cy="430.1" r="3.3"/><circle cx="1583" cy="423" r="3.3"/><circle cx="1585.8" cy="423.5" r="3.3"/><circle cx="1591.7" cy="433" r="3.3"/><circle cx="1595.8" cy="427.9" r="3.3"/><circle cx="1599.8" cy="433.3" r="3.3"/><circle cx="1604.9" cy="416.3" r="3.3"/><circle cx="1603.5" cy="421.7" r="3.3"/><circle cx="1596.2" cy="427.4" r="3.3"/><circle cx="1594.7" cy="416.2" r="3.3"/><circle cx="1587.8" cy="423.9" r="3.3"/><circle cx="1597.7" cy="421" r="3.3"/><circle cx="1579.1" cy="420.6" r="3.3"/><circle cx="1584" cy="427.6" r="3.3"/><circle cx="1585.3" cy="431.2" r="3.3"/><circle cx="1594.5" cy="423.7" r="3.3"/><circle cx="1601.7" cy="424.3" r="3.3"/><circle cx="1596.3" cy="426.7" r="3.3"/><circle cx="1602.1" cy="421" r="3.3"/><circle cx="1599" cy="426.5" r="3.3"/><circle cx="1593.2" cy="423.8" r="3.3"/><circle cx="1585.6" cy="422.2" r="3.3"/><circle cx="1592.3" cy="419.1" r="3.3"/><circle cx="1585.6" cy="423.7" r="3.3"/><circle cx="1596" cy="432.7" r="3.3"/><circle cx="1587.1" cy="430.9" r="3.3"/><circle cx="1566.5" cy="430.2" r="3.3"/><circle cx="1573.6" cy="430" r="3.3"/><circle cx="1576.7" cy="427.3" r="3.3"/><circle cx="1570.7" cy="430.6" r="3.3"/><circle cx="1572.2" cy="431.4" r="3.3"/><circle cx="1578.4" cy="430.6" r="3.3"/><circle cx="1573.4" cy="436.2" r="3.3"/><circle cx="1576.3" cy="432.9" r="3.3"/><circle cx="1571.1" cy="437.9" r="3.3"/><circle cx="1570.7" cy="434.3" r="3.3"/><circle cx="1571.6" cy="431.5" r="3.3"/><circle cx="1578.7" cy="433" r="3.3"/><circle cx="1572.9" cy="425.3" r="3.3"/><circle cx="1574.9" cy="433.9" r="3.3"/><circle cx="1566.2" cy="446" r="3.3"/><circle cx="1569" cy="445.5" r="3.3"/><circle cx="1565" cy="449.2" r="3.3"/><circle cx="1569" cy="447.3" r="3.3"/><circle cx="1567.7" cy="444.4" r="3.3"/><circle cx="1569.2" cy="446.7" r="3.3"/><circle cx="1566.9" cy="442" r="3.3"/><circle cx="1565.9" cy="449.5" r="3.3"/><circle cx="1563.8" cy="447" r="3.3"/><circle cx="1562" cy="443.9" r="3.3"/><circle cx="1531.6" cy="458.4" r="3.3"/><circle cx="1541.8" cy="455.7" r="3.3"/><circle cx="1537.3" cy="447.4" r="3.3"/><circle cx="1518.7" cy="456.7" r="3.3"/><circle cx="1561.3" cy="462.1" r="3.3"/><circle cx="1553.5" cy="441.2" r="3.3"/><circle cx="1552.5" cy="445.9" r="3.3"/><circle cx="1534" cy="459" r="3.3"/><circle cx="1546.3" cy="456.5" r="3.3"/><circle cx="1533.4" cy="463.3" r="3.3"/><circle cx="1550" cy="446.1" r="3.3"/><circle cx="1547.3" cy="455.8" r="3.3"/><circle cx="1550.2" cy="458.2" r="3.3"/><circle cx="1559.9" cy="459.6" r="3.3"/><circle cx="1533" cy="450.3" r="3.3"/><circle cx="1559.1" cy="455.4" r="3.3"/><circle cx="1554.9" cy="447.3" r="3.3"/><circle cx="1557" cy="445.1" r="3.3"/><circle cx="1548.2" cy="453.7" r="3.3"/><circle cx="1550.1" cy="446.5" r="3.3"/><circle cx="1554.5" cy="445.2" r="3.3"/><circle cx="1550.7" cy="450.2" r="3.3"/><circle cx="1529.3" cy="453.5" r="3.3"/><circle cx="1562.1" cy="451.6" r="3.3"/><circle cx="1527.7" cy="452.3" r="3.3"/><circle cx="1527" cy="459.5" r="3.3"/><circle cx="1564.1" cy="454.2" r="3.3"/><circle cx="1548" cy="445.2" r="3.3"/><circle cx="1519.3" cy="448.8" r="3.3"/><circle cx="1554" cy="448.4" r="3.3"/><circle cx="1554.5" cy="454" r="3.3"/><circle cx="1543.5" cy="449.9" r="3.3"/><circle cx="1542.9" cy="447.1" r="3.3"/><circle cx="1546.2" cy="461.4" r="3.3"/><circle cx="1563.5" cy="459.8" r="3.3"/><circle cx="1534.8" cy="441.4" r="3.3"/><circle cx="1548.9" cy="445.2" r="3.3"/><circle cx="1555.3" cy="460.7" r="3.3"/><circle cx="1546.3" cy="467.2" r="3.3"/><circle cx="1526.7" cy="452.4" r="3.3"/><circle cx="1534.7" cy="445.2" r="3.3"/><circle cx="1538.3" cy="450.4" r="3.3"/><circle cx="1548.3" cy="459.7" r="3.3"/><circle cx="1534.9" cy="448.4" r="3.3"/><circle cx="1548.4" cy="461" r="3.3"/><circle cx="1541.4" cy="444.2" r="3.3"/><circle cx="1542.1" cy="461.8" r="3.3"/><circle cx="1543.4" cy="446.9" r="3.3"/><circle cx="1530" cy="458.3" r="3.3"/><circle cx="1547.3" cy="455.9" r="3.3"/><circle cx="1556.3" cy="460.5" r="3.3"/><circle cx="1565.5" cy="448.4" r="3.3"/><circle cx="1548.5" cy="448.3" r="3.3"/><circle cx="1547.2" cy="446.9" r="3.3"/><circle cx="1545.2" cy="455.4" r="3.3"/><circle cx="1544.1" cy="448.2" r="3.3"/><circle cx="1532.8" cy="448.5" r="3.3"/><circle cx="1546.4" cy="455.6" r="3.3"/><circle cx="1553.7" cy="460.4" r="3.3"/><circle cx="1543.1" cy="457.2" r="3.3"/><circle cx="1540.4" cy="484.3" r="3.3"/><circle cx="1547.4" cy="468.7" r="3.3"/><circle cx="1526.6" cy="486.2" r="3.3"/><circle cx="1546.8" cy="461.8" r="3.3"/><circle cx="1540.9" cy="481.3" r="3.3"/><circle cx="1543.6" cy="476.1" r="3.3"/><circle cx="1533.7" cy="475.5" r="3.3"/><circle cx="1544.6" cy="472.5" r="3.3"/><circle cx="1552.1" cy="474.6" r="3.3"/><circle cx="1545.1" cy="465.3" r="3.3"/><circle cx="1534.2" cy="459.2" r="3.3"/><circle cx="1536.1" cy="487.2" r="3.3"/><circle cx="1528.6" cy="469.1" r="3.3"/><circle cx="1541.3" cy="489.1" r="3.3"/><circle cx="1534.9" cy="487.3" r="3.3"/><circle cx="1524.5" cy="466" r="3.3"/><circle cx="1542.4" cy="491" r="3.3"/><circle cx="1551.4" cy="470.1" r="3.3"/><circle cx="1540.7" cy="460.1" r="3.3"/><circle cx="1531.8" cy="471.4" r="3.3"/><circle cx="1532.6" cy="468.2" r="3.3"/><circle cx="1540" cy="472" r="3.3"/><circle cx="1530.3" cy="467.5" r="3.3"/><circle cx="1526.4" cy="481.7" r="3.3"/><circle cx="1527.6" cy="476.1" r="3.3"/><circle cx="1528.7" cy="476" r="3.3"/><circle cx="1539.4" cy="462.5" r="3.3"/><circle cx="1540.9" cy="474.4" r="3.3"/><circle cx="1533.6" cy="477.2" r="3.3"/><circle cx="1548" cy="468.6" r="3.3"/><circle cx="1558.4" cy="465" r="3.3"/><circle cx="1543.9" cy="477.2" r="3.3"/><circle cx="1529.2" cy="469.7" r="3.3"/><circle cx="1551" cy="475.2" r="3.3"/><circle cx="1546.8" cy="465.5" r="3.3"/><circle cx="1558.8" cy="478.4" r="3.3"/><circle cx="1548" cy="465.6" r="3.3"/><circle cx="1532.4" cy="483.7" r="3.3"/><circle cx="1521.9" cy="438.2" r="3.3"/><circle cx="1525.5" cy="438.4" r="3.3"/><circle cx="1515.3" cy="459.1" r="3.3"/><circle cx="1518.7" cy="475.4" r="3.3"/><circle cx="1600" cy="443.2" r="3.3"/><circle cx="1601.2" cy="447.1" r="3.3"/><circle cx="1558.6" cy="482.9" r="3.3"/></g>
<g fill="#ffa000" stroke="#d88400"><circle cx="1530.7" cy="456.2" r="3.3"/><circle cx="1559.2" cy="455" r="3.3"/><circle cx="1533.6" cy="479.9" r="3.3"/><circle cx="1548.7" cy="478.3" r="3.3"/><circle cx="1517.5" cy="439.6" r="3.3"/></g>
<g fill="#ffa000" stroke="#d88400"><circle cx="1637" cy="486.6" r="3.3"/></g>
<g fill="#44ffff" stroke="#30d0d0"><circle cx="1662.2" cy="486.4" r="3.3"/><circle cx="1638.7" cy="482.1" r="3.3"/><circle cx="1662.7" cy="485.2" r="3.3"/><circle cx="1656.7" cy="486.8" r="3.3"/><circle cx="1642.8" cy="476.9" r="3.3"/><circle cx="1661.8" cy="485.8" r="3.3"/><circle cx="1649.6" cy="494.2" r="3.3"/><circle cx="1640.1" cy="486.6" r="3.3"/><circle cx="1657.4" cy="487.9" r="3.3"/><circle cx="1643.2" cy="492.5" r="3.3"/><circle cx="1646.5" cy="490" r="3.3"/><circle cx="1645" cy="487.8" r="3.3"/><circle cx="1638.5" cy="486.3" r="3.3"/><circle cx="1653.7" cy="485.2" r="3.3"/><circle cx="1638.7" cy="488.2" r="3.3"/><circle cx="1658.1" cy="490.1" r="3.3"/><circle cx="1652.9" cy="478.1" r="3.3"/><circle cx="1662.6" cy="482.5" r="3.3"/><circle cx="1658.1" cy="487.4" r="3.3"/><circle cx="1638.1" cy="483.6" r="3.3"/><circle cx="1642.1" cy="484.1" r="3.3"/><circle cx="1654.7" cy="492.8" r="3.3"/><circle cx="1639.7" cy="478.1" r="3.3"/><circle cx="1643" cy="475.5" r="3.3"/><circle cx="1650.7" cy="478.5" r="3.3"/><circle cx="1654.8" cy="485.8" r="3.3"/><circle cx="1637.4" cy="484.5" r="3.3"/><circle cx="1652.9" cy="487.3" r="3.3"/><circle cx="1659.1" cy="486.2" r="3.3"/><circle cx="1638.8" cy="480.9" r="3.3"/><circle cx="1646.1" cy="478.5" r="3.3"/><circle cx="1653.4" cy="481.6" r="3.3"/><circle cx="1658.1" cy="477.1" r="3.3"/><circle cx="1657" cy="482.9" r="3.3"/></g>
<g fill="#ffa000" stroke="#d88400"><circle cx="1647" cy="475.4" r="3.3"/></g>
<g fill="#ffff00" stroke="#c8c800"><circle cx="1435.8" cy="613.1" r="3.3"/><circle cx="1496.1" cy="614.9" r="3.3"/><circle cx="1492.5" cy="616.1" r="3.3"/></g>
<g fill="#0044dd" stroke="#0033aa"><circle cx="1457.9" cy="581.7" r="3.3"/><circle cx="1449" cy="585.3" r="3.3"/><circle cx="1451.4" cy="568.4" r="3.3"/><circle cx="1448.1" cy="567.6" r="3.3"/><circle cx="1453.4" cy="543.6" r="3.3"/><circle cx="1464" cy="560.9" r="3.3"/><circle cx="1465.8" cy="569.7" r="3.3"/><circle cx="1458.9" cy="589" r="3.3"/><circle cx="1431.2" cy="579.5" r="3.3"/><circle cx="1415.9" cy="567.6" r="3.3"/><circle cx="1461" cy="597.1" r="3.3"/><circle cx="1433.6" cy="554.9" r="3.3"/><circle cx="1481.8" cy="598.9" r="3.3"/><circle cx="1447.3" cy="574" r="3.3"/><circle cx="1480.3" cy="562.9" r="3.3"/><circle cx="1484.2" cy="575.1" r="3.3"/><circle cx="1467.8" cy="593" r="3.3"/><circle cx="1470.8" cy="590.9" r="3.3"/><circle cx="1432.2" cy="574.7" r="3.3"/><circle cx="1456.9" cy="583.7" r="3.3"/><circle cx="1457.7" cy="583.1" r="3.3"/><circle cx="1460.2" cy="579.5" r="3.3"/><circle cx="1488.2" cy="594" r="3.3"/><circle cx="1476.5" cy="567.1" r="3.3"/><circle cx="1479.5" cy="563.4" r="3.3"/><circle cx="1465.5" cy="573.1" r="3.3"/><circle cx="1473.8" cy="597.1" r="3.3"/><circle cx="1442.9" cy="563.5" r="3.3"/><circle cx="1476.2" cy="568.3" r="3.3"/><circle cx="1456.9" cy="596.5" r="3.3"/><circle cx="1456.5" cy="583.1" r="3.3"/><circle cx="1455.3" cy="584.9" r="3.3"/><circle cx="1469.6" cy="585" r="3.3"/><circle cx="1439.5" cy="570.6" r="3.3"/><circle cx="1432" cy="567.9" r="3.3"/><circle cx="1464.5" cy="576.1" r="3.3"/><circle cx="1473.8" cy="570.5" r="3.3"/><circle cx="1432.1" cy="566.7" r="3.3"/><circle cx="1460.9" cy="569" r="3.3"/><circle cx="1446.8" cy="560.1" r="3.3"/><circle cx="1451.9" cy="571.6" r="3.3"/><circle cx="1459.5" cy="592.2" r="3.3"/><circle cx="1429.3" cy="557.3" r="3.3"/><circle cx="1460.6" cy="569.2" r="3.3"/><circle cx="1443.1" cy="557.6" r="3.3"/><circle cx="1447.7" cy="574.1" r="3.3"/><circle cx="1420.8" cy="594" r="3.3"/><circle cx="1420.9" cy="591.7" r="3.3"/><circle cx="1458.9" cy="584.8" r="3.3"/><circle cx="1463.3" cy="555.5" r="3.3"/><circle cx="1461.5" cy="586.3" r="3.3"/><circle cx="1462.4" cy="568.9" r="3.3"/><circle cx="1456.3" cy="538.2" r="3.3"/><circle cx="1448.4" cy="569.9" r="3.3"/><circle cx="1496" cy="576.1" r="3.3"/><circle cx="1437.1" cy="575.7" r="3.3"/><circle cx="1467.5" cy="583.2" r="3.3"/><circle cx="1465.7" cy="560.7" r="3.3"/><circle cx="1461.6" cy="576.2" r="3.3"/><circle cx="1421.4" cy="566.8" r="3.3"/><circle cx="1450.3" cy="609" r="3.3"/><circle cx="1492.9" cy="575.2" r="3.3"/><circle cx="1458.3" cy="554.7" r="3.3"/><circle cx="1451.9" cy="569.6" r="3.3"/><circle cx="1451.9" cy="555.9" r="3.3"/><circle cx="1467.7" cy="599.2" r="3.3"/><circle cx="1471.4" cy="567.5" r="3.3"/><circle cx="1483.3" cy="594.6" r="3.3"/><circle cx="1457.3" cy="585.5" r="3.3"/><circle cx="1457.1" cy="562.9" r="3.3"/><circle cx="1471.6" cy="597.4" r="3.3"/><circle cx="1471.7" cy="571.8" r="3.3"/><circle cx="1491" cy="561.5" r="3.3"/><circle cx="1448.5" cy="593.7" r="3.3"/><circle cx="1430.7" cy="581" r="3.3"/><circle cx="1422.3" cy="594.6" r="3.3"/><circle cx="1428.2" cy="565.8" r="3.3"/><circle cx="1442.2" cy="572.3" r="3.3"/><circle cx="1453.6" cy="598.2" r="3.3"/><circle cx="1439.5" cy="560.6" r="3.3"/><circle cx="1446.1" cy="600.6" r="3.3"/><circle cx="1430" cy="566.9" r="3.3"/><circle cx="1441.8" cy="577.9" r="3.3"/><circle cx="1409.9" cy="575.6" r="3.3"/><circle cx="1435" cy="564.4" r="3.3"/><circle cx="1471.2" cy="563.9" r="3.3"/><circle cx="1454.2" cy="567.3" r="3.3"/><circle cx="1443.1" cy="580.6" r="3.3"/><circle cx="1433.9" cy="567.4" r="3.3"/><circle cx="1461.8" cy="568.1" r="3.3"/><circle cx="1428.1" cy="560.4" r="3.3"/><circle cx="1477.7" cy="604.8" r="3.3"/><circle cx="1469.2" cy="590.5" r="3.3"/><circle cx="1453" cy="568.1" r="3.3"/><circle cx="1492.7" cy="562.3" r="3.3"/><circle cx="1462.1" cy="564" r="3.3"/><circle cx="1483.8" cy="571.5" r="3.3"/><circle cx="1441.9" cy="586.2" r="3.3"/><circle cx="1462.4" cy="586.4" r="3.3"/><circle cx="1485.2" cy="581.7" r="3.3"/><circle cx="1440.2" cy="562.2" r="3.3"/><circle cx="1437.9" cy="583.2" r="3.3"/><circle cx="1432.4" cy="601.2" r="3.3"/><circle cx="1462.2" cy="548.9" r="3.3"/><circle cx="1456.3" cy="588.4" r="3.3"/><circle cx="1427.6" cy="576.8" r="3.3"/><circle cx="1444.7" cy="593.7" r="3.3"/><circle cx="1450" cy="613.3" r="3.3"/><circle cx="1454.2" cy="579.2" r="3.3"/><circle cx="1474.7" cy="562.3" r="3.3"/><circle cx="1458.6" cy="557.6" r="3.3"/><circle cx="1466.7" cy="596.7" r="3.3"/><circle cx="1469.4" cy="587.5" r="3.3"/><circle cx="1456.3" cy="571.8" r="3.3"/><circle cx="1474.3" cy="576.7" r="3.3"/><circle cx="1466.4" cy="554.9" r="3.3"/><circle cx="1481.2" cy="587" r="3.3"/><circle cx="1460" cy="583.8" r="3.3"/><circle cx="1415.6" cy="591.6" r="3.3"/><circle cx="1430.5" cy="565.9" r="3.3"/><circle cx="1476.8" cy="569.9" r="3.3"/><circle cx="1421" cy="595.6" r="3.3"/><circle cx="1437.3" cy="597.5" r="3.3"/><circle cx="1448.3" cy="585.3" r="3.3"/><circle cx="1420.2" cy="592.8" r="3.3"/><circle cx="1465.3" cy="608.7" r="3.3"/><circle cx="1452.1" cy="585.9" r="3.3"/><circle cx="1448.1" cy="590.4" r="3.3"/><circle cx="1459.3" cy="586.4" r="3.3"/><circle cx="1428.5" cy="574.6" r="3.3"/><circle cx="1478.6" cy="568.8" r="3.3"/><circle cx="1457.6" cy="585.4" r="3.3"/><circle cx="1447.4" cy="568" r="3.3"/><circle cx="1461.7" cy="579.5" r="3.3"/><circle cx="1439.7" cy="577.6" r="3.3"/><circle cx="1448.2" cy="580.4" r="3.3"/><circle cx="1445.8" cy="574.9" r="3.3"/><circle cx="1463.1" cy="584.8" r="3.3"/><circle cx="1426.3" cy="554.1" r="3.3"/><circle cx="1460" cy="588" r="3.3"/><circle cx="1450.5" cy="604.6" r="3.3"/><circle cx="1452.7" cy="600.5" r="3.3"/><circle cx="1445.7" cy="567.6" r="3.3"/><circle cx="1445.4" cy="583" r="3.3"/><circle cx="1473.6" cy="579.2" r="3.3"/><circle cx="1418.4" cy="575" r="3.3"/><circle cx="1456.4" cy="589.2" r="3.3"/><circle cx="1452.5" cy="574.4" r="3.3"/><circle cx="1471.8" cy="562.9" r="3.3"/><circle cx="1471" cy="573.7" r="3.3"/><circle cx="1438.8" cy="589" r="3.3"/><circle cx="1486.1" cy="572.5" r="3.3"/><circle cx="1460" cy="582.9" r="3.3"/><circle cx="1447.2" cy="583.8" r="3.3"/><circle cx="1446.8" cy="584.7" r="3.3"/><circle cx="1422.8" cy="562.6" r="3.3"/><circle cx="1435.3" cy="576.5" r="3.3"/><circle cx="1463.7" cy="573.2" r="3.3"/><circle cx="1431.1" cy="584.4" r="3.3"/><circle cx="1450" cy="604.5" r="3.3"/><circle cx="1436.5" cy="586.3" r="3.3"/><circle cx="1459.6" cy="562" r="3.3"/><circle cx="1459.5" cy="558.7" r="3.3"/><circle cx="1477" cy="602.6" r="3.3"/><circle cx="1441.8" cy="581.3" r="3.3"/><circle cx="1437.3" cy="567" r="3.3"/><circle cx="1439.7" cy="579" r="3.3"/><circle cx="1488.5" cy="580.6" r="3.3"/><circle cx="1431.5" cy="569.2" r="3.3"/><circle cx="1480.2" cy="571.1" r="3.3"/><circle cx="1430.8" cy="564.8" r="3.3"/><circle cx="1458.8" cy="560" r="3.3"/><circle cx="1468.8" cy="574.4" r="3.3"/><circle cx="1468.2" cy="548.9" r="3.3"/><circle cx="1431.3" cy="591.4" r="3.3"/><circle cx="1441.4" cy="570.7" r="3.3"/><circle cx="1442.4" cy="593" r="3.3"/><circle cx="1493.7" cy="566.6" r="3.3"/><circle cx="1453.6" cy="599.5" r="3.3"/><circle cx="1444.3" cy="593.1" r="3.3"/><circle cx="1474.6" cy="603.8" r="3.3"/><circle cx="1418.9" cy="602.2" r="3.3"/><circle cx="1447.3" cy="598.7" r="3.3"/><circle cx="1472.9" cy="587.5" r="3.3"/><circle cx="1440.1" cy="552.5" r="3.3"/><circle cx="1444.8" cy="566.9" r="3.3"/><circle cx="1446.3" cy="598.2" r="3.3"/><circle cx="1466.7" cy="583" r="3.3"/><circle cx="1470.7" cy="597.6" r="3.3"/><circle cx="1443" cy="582.8" r="3.3"/><circle cx="1453.1" cy="568.6" r="3.3"/><circle cx="1465.6" cy="562.3" r="3.3"/><circle cx="1488" cy="601.3" r="3.3"/><circle cx="1462.8" cy="554.1" r="3.3"/><circle cx="1465.2" cy="571.6" r="3.3"/><circle cx="1431.5" cy="575" r="3.3"/><circle cx="1467.3" cy="565" r="3.3"/><circle cx="1446.8" cy="601.2" r="3.3"/><circle cx="1456.7" cy="597.2" r="3.3"/><circle cx="1448.4" cy="595.4" r="3.3"/><circle cx="1448" cy="573.7" r="3.3"/><circle cx="1450.1" cy="575.3" r="3.3"/><circle cx="1448.9" cy="559" r="3.3"/><circle cx="1477.6" cy="560.9" r="3.3"/><circle cx="1441.1" cy="569.6" r="3.3"/><circle cx="1467.8" cy="590.8" r="3.3"/><circle cx="1449.8" cy="573.3" r="3.3"/><circle cx="1456.6" cy="565.3" r="3.3"/><circle cx="1499.2" cy="576.8" r="3.3"/><circle cx="1471.1" cy="578.5" r="3.3"/><circle cx="1474.9" cy="554.5" r="3.3"/><circle cx="1443.4" cy="573.2" r="3.3"/><circle cx="1459.7" cy="572.3" r="3.3"/><circle cx="1423.9" cy="583.5" r="3.3"/><circle cx="1493.7" cy="563.7" r="3.3"/><circle cx="1462.1" cy="586.2" r="3.3"/><circle cx="1446" cy="571.5" r="3.3"/><circle cx="1431.8" cy="585.6" r="3.3"/><circle cx="1431.4" cy="572.4" r="3.3"/><circle cx="1463.5" cy="593.2" r="3.3"/><circle cx="1453.5" cy="572.3" r="3.3"/><circle cx="1451.3" cy="586.3" r="3.3"/><circle cx="1484.1" cy="555.7" r="3.3"/><circle cx="1422.6" cy="582.1" r="3.3"/><circle cx="1477.5" cy="570.6" r="3.3"/><circle cx="1425.8" cy="568.8" r="3.3"/><circle cx="1452.2" cy="542.7" r="3.3"/><circle cx="1469.8" cy="569.3" r="3.3"/><circle cx="1491" cy="598" r="3.3"/><circle cx="1448.5" cy="583.5" r="3.3"/><circle cx="1420.8" cy="588.4" r="3.3"/><circle cx="1474.2" cy="583.8" r="3.3"/><circle cx="1442.2" cy="577.7" r="3.3"/><circle cx="1432" cy="586.5" r="3.3"/><circle cx="1443.7" cy="541.6" r="3.3"/><circle cx="1444.9" cy="567.8" r="3.3"/><circle cx="1473.3" cy="596.9" r="3.3"/><circle cx="1471.7" cy="577.8" r="3.3"/><circle cx="1439" cy="582.9" r="3.3"/><circle cx="1452.6" cy="569" r="3.3"/><circle cx="1441.1" cy="557.7" r="3.3"/><circle cx="1442.6" cy="594.1" r="3.3"/><circle cx="1454.4" cy="550" r="3.3"/><circle cx="1439.1" cy="581.3" r="3.3"/><circle cx="1460.4" cy="586" r="3.3"/><circle cx="1473.1" cy="556.5" r="3.3"/><circle cx="1480.8" cy="574.5" r="3.3"/><circle cx="1444.8" cy="561.8" r="3.3"/><circle cx="1467" cy="566" r="3.3"/><circle cx="1434.2" cy="570.4" r="3.3"/><circle cx="1464.8" cy="566.3" r="3.3"/><circle cx="1485.1" cy="551.4" r="3.3"/><circle cx="1473.8" cy="593.1" r="3.3"/><circle cx="1457.9" cy="589.8" r="3.3"/><circle cx="1439.1" cy="577.2" r="3.3"/><circle cx="1449.2" cy="567.1" r="3.3"/><circle cx="1472.7" cy="582.3" r="3.3"/><circle cx="1420.2" cy="573.5" r="3.3"/><circle cx="1433.2" cy="572.3" r="3.3"/><circle cx="1408.8" cy="568.8" r="3.3"/><circle cx="1425.4" cy="607" r="3.3"/><circle cx="1446.1" cy="569.4" r="3.3"/><circle cx="1484.6" cy="551.5" r="3.3"/><circle cx="1456.7" cy="580.8" r="3.3"/><circle cx="1452.8" cy="557.2" r="3.3"/><circle cx="1432.5" cy="589.6" r="3.3"/><circle cx="1441.1" cy="588" r="3.3"/><circle cx="1476.4" cy="577.5" r="3.3"/><circle cx="1467.1" cy="587.2" r="3.3"/><circle cx="1433.3" cy="558.9" r="3.3"/><circle cx="1466.9" cy="573.5" r="3.3"/><circle cx="1459.4" cy="578" r="3.3"/><circle cx="1467.8" cy="594.5" r="3.3"/><circle cx="1424.8" cy="593" r="3.3"/><circle cx="1459.4" cy="575.5" r="3.3"/><circle cx="1443" cy="551.8" r="3.3"/><circle cx="1436.7" cy="550.5" r="3.3"/><circle cx="1437.8" cy="590.2" r="3.3"/><circle cx="1458.9" cy="596.7" r="3.3"/><circle cx="1477.6" cy="548.4" r="3.3"/><circle cx="1455.3" cy="567.4" r="3.3"/><circle cx="1447" cy="567.1" r="3.3"/><circle cx="1467.7" cy="585.3" r="3.3"/><circle cx="1431.9" cy="605" r="3.3"/><circle cx="1440.9" cy="559.5" r="3.3"/><circle cx="1440.7" cy="579.7" r="3.3"/><circle cx="1465" cy="593.6" r="3.3"/><circle cx="1434" cy="607.1" r="3.3"/><circle cx="1444.9" cy="547.2" r="3.3"/><circle cx="1438.9" cy="582.5" r="3.3"/><circle cx="1461.5" cy="555.7" r="3.3"/><circle cx="1468.9" cy="549.3" r="3.3"/><circle cx="1463.8" cy="549.8" r="3.3"/><circle cx="1441.6" cy="543.6" r="3.3"/><circle cx="1456.7" cy="548.2" r="3.3"/><circle cx="1470" cy="539" r="3.3"/><circle cx="1468" cy="543.7" r="3.3"/><circle cx="1487.1" cy="538.1" r="3.3"/><circle cx="1460.7" cy="550.5" r="3.3"/><circle cx="1471.7" cy="543.9" r="3.3"/><circle cx="1437" cy="555.1" r="3.3"/><circle cx="1464.5" cy="554.1" r="3.3"/><circle cx="1454.3" cy="542.9" r="3.3"/><circle cx="1451.8" cy="543.1" r="3.3"/><circle cx="1449.9" cy="548.3" r="3.3"/><circle cx="1462.3" cy="552.6" r="3.3"/><circle cx="1457.2" cy="537.1" r="3.3"/><circle cx="1450.6" cy="540.8" r="3.3"/><circle cx="1434.3" cy="548.3" r="3.3"/><circle cx="1453.7" cy="546.7" r="3.3"/><circle cx="1432.9" cy="545.5" r="3.3"/><circle cx="1465.7" cy="544.3" r="3.3"/><circle cx="1450" cy="543.3" r="3.3"/><circle cx="1450.8" cy="544.1" r="3.3"/><circle cx="1429.3" cy="538.9" r="3.3"/><circle cx="1459.9" cy="547.5" r="3.3"/><circle cx="1459.3" cy="554.1" r="3.3"/><circle cx="1462.6" cy="538.3" r="3.3"/><circle cx="1466.5" cy="521" r="3.3"/><circle cx="1468.3" cy="523.4" r="3.3"/><circle cx="1467.2" cy="528" r="3.3"/><circle cx="1467.2" cy="527.2" r="3.3"/><circle cx="1468.8" cy="521.9" r="3.3"/><circle cx="1467.1" cy="516.7" r="3.3"/><circle cx="1470.6" cy="529.9" r="3.3"/><circle cx="1473.5" cy="527.2" r="3.3"/><circle cx="1470.2" cy="512.2" r="3.3"/><circle cx="1471.2" cy="512.8" r="3.3"/><circle cx="1472.9" cy="511.1" r="3.3"/><circle cx="1470.4" cy="505.7" r="3.3"/><circle cx="1471" cy="513.9" r="3.3"/><circle cx="1483.2" cy="556.7" r="3.3"/><circle cx="1487.3" cy="548.2" r="3.3"/><circle cx="1487.2" cy="550.8" r="3.3"/><circle cx="1487.4" cy="547.9" r="3.3"/><circle cx="1491.6" cy="554.6" r="3.3"/><circle cx="1496.1" cy="558.3" r="3.3"/><circle cx="1483.9" cy="552.2" r="3.3"/><circle cx="1475.5" cy="550.4" r="3.3"/><circle cx="1491.7" cy="553" r="3.3"/><circle cx="1486.3" cy="552.8" r="3.3"/><circle cx="1481.1" cy="545.2" r="3.3"/><circle cx="1490.5" cy="555.1" r="3.3"/><circle cx="1490.3" cy="557.6" r="3.3"/><circle cx="1479.5" cy="548.1" r="3.3"/><circle cx="1497.9" cy="583.6" r="3.3"/><circle cx="1498.9" cy="590.2" r="3.3"/><circle cx="1489.2" cy="593.2" r="3.3"/><circle cx="1498.1" cy="587.2" r="3.3"/><circle cx="1498.2" cy="587.1" r="3.3"/><circle cx="1490.3" cy="590.5" r="3.3"/><circle cx="1497.9" cy="588.9" r="3.3"/><circle cx="1493.9" cy="593.9" r="3.3"/><circle cx="1506" cy="602.9" r="3.3"/><circle cx="1506.5" cy="598.2" r="3.3"/><circle cx="1506.1" cy="600.7" r="3.3"/><circle cx="1507.9" cy="598.8" r="3.3"/><circle cx="1505.4" cy="595" r="3.3"/><circle cx="1439" cy="621.5" r="3.3"/><circle cx="1441.5" cy="615.4" r="3.3"/><circle cx="1443.6" cy="609.9" r="3.3"/><circle cx="1438.3" cy="617.5" r="3.3"/><circle cx="1447.4" cy="606.9" r="3.3"/><circle cx="1440" cy="616.4" r="3.3"/><circle cx="1448.7" cy="615.1" r="3.3"/><circle cx="1446.7" cy="616.6" r="3.3"/><circle cx="1451.4" cy="617.8" r="3.3"/><circle cx="1444.7" cy="617" r="3.3"/><circle cx="1442.9" cy="619.4" r="3.3"/><circle cx="1445.3" cy="618.8" r="3.3"/><circle cx="1461.1" cy="621.2" r="3.3"/><circle cx="1461.1" cy="623.9" r="3.3"/><circle cx="1456.8" cy="626.1" r="3.3"/><circle cx="1459.7" cy="618.9" r="3.3"/><circle cx="1460.4" cy="621.7" r="3.3"/><circle cx="1464.4" cy="622.7" r="3.3"/><circle cx="1457.4" cy="620.3" r="3.3"/><circle cx="1473.5" cy="610.9" r="3.3"/><circle cx="1469" cy="615.9" r="3.3"/><circle cx="1475.7" cy="614.8" r="3.3"/><circle cx="1478.8" cy="614.6" r="3.3"/><circle cx="1472.7" cy="618.7" r="3.3"/><circle cx="1477.8" cy="616.3" r="3.3"/><circle cx="1468.3" cy="613.4" r="3.3"/><circle cx="1473.2" cy="621.1" r="3.3"/><circle cx="1473.6" cy="616.2" r="3.3"/><circle cx="1473.8" cy="619.9" r="3.3"/><circle cx="1484" cy="626" r="3.3"/><circle cx="1486.7" cy="600.9" r="3.3"/><circle cx="1486.8" cy="614.3" r="3.3"/><circle cx="1483.4" cy="617" r="3.3"/><circle cx="1485.1" cy="611.4" r="3.3"/><circle cx="1484.7" cy="607.6" r="3.3"/><circle cx="1487.6" cy="613.8" r="3.3"/><circle cx="1487.3" cy="613.7" r="3.3"/><circle cx="1485.5" cy="614.9" r="3.3"/><circle cx="1486.8" cy="610" r="3.3"/><circle cx="1484.2" cy="611" r="3.3"/><circle cx="1487.7" cy="619.7" r="3.3"/><circle cx="1485.8" cy="612.5" r="3.3"/><circle cx="1492.2" cy="615.7" r="3.3"/><circle cx="1490.1" cy="616.8" r="3.3"/><circle cx="1425.5" cy="612.2" r="3.3"/><circle cx="1425.4" cy="608.8" r="3.3"/><circle cx="1422.1" cy="606.4" r="3.3"/><circle cx="1430.8" cy="610.9" r="3.3"/><circle cx="1428.5" cy="603.1" r="3.3"/><circle cx="1424.7" cy="614" r="3.3"/><circle cx="1428" cy="604.7" r="3.3"/><circle cx="1428.2" cy="608.6" r="3.3"/><circle cx="1441.4" cy="531.1" r="3.3"/><circle cx="1449.8" cy="535.4" r="3.3"/><circle cx="1422.2" cy="541" r="3.3"/><circle cx="1427.6" cy="538" r="3.3"/><circle cx="1475.1" cy="542.6" r="3.3"/><circle cx="1505.7" cy="556" r="3.3"/><circle cx="1497.9" cy="568.3" r="3.3"/><circle cx="1508.1" cy="534.2" r="3.3"/><circle cx="1498.5" cy="548.8" r="3.3"/><circle cx="1536.9" cy="539.8" r="3.3"/><circle cx="1518.9" cy="544.6" r="3.3"/><circle cx="1541.7" cy="603.5" r="3.3"/></g>
<g fill="#d42424" stroke="#a01818"><circle cx="1512" cy="543.7" r="3.3"/></g>
<g fill="#ffff00" stroke="#c8c800"><circle cx="1559.8" cy="583.9" r="3.3"/><circle cx="1546.3" cy="600.4" r="3.3"/><circle cx="1546.4" cy="584.4" r="3.3"/><circle cx="1549.2" cy="545.2" r="3.3"/><circle cx="1565.2" cy="557.1" r="3.3"/><circle cx="1580.2" cy="569.9" r="3.3"/><circle cx="1574.4" cy="526.4" r="3.3"/><circle cx="1575.4" cy="538.8" r="3.3"/><circle cx="1565.5" cy="575.5" r="3.3"/><circle cx="1518.2" cy="554.3" r="3.3"/><circle cx="1564.4" cy="596" r="3.3"/><circle cx="1534.8" cy="552.4" r="3.3"/><circle cx="1522.1" cy="563.4" r="3.3"/><circle cx="1563.9" cy="599.7" r="3.3"/><circle cx="1523.9" cy="589.4" r="3.3"/><circle cx="1571.5" cy="571.5" r="3.3"/><circle cx="1544.1" cy="570" r="3.3"/><circle cx="1558.4" cy="553.2" r="3.3"/><circle cx="1530.8" cy="585.1" r="3.3"/><circle cx="1558.5" cy="595.2" r="3.3"/><circle cx="1561.3" cy="525.3" r="3.3"/><circle cx="1543" cy="559.9" r="3.3"/><circle cx="1569.9" cy="579.6" r="3.3"/><circle cx="1559.6" cy="582" r="3.3"/><circle cx="1587.2" cy="552.5" r="3.3"/><circle cx="1589.5" cy="543.6" r="3.3"/><circle cx="1552.7" cy="558.7" r="3.3"/><circle cx="1582.1" cy="565.3" r="3.3"/><circle cx="1585.6" cy="556.2" r="3.3"/><circle cx="1543.5" cy="567.5" r="3.3"/><circle cx="1551" cy="540.9" r="3.3"/><circle cx="1550.4" cy="551.5" r="3.3"/><circle cx="1526" cy="550.2" r="3.3"/><circle cx="1545.9" cy="585.9" r="3.3"/><circle cx="1563" cy="603" r="3.3"/><circle cx="1548.9" cy="542.9" r="3.3"/><circle cx="1559.3" cy="552" r="3.3"/><circle cx="1540.5" cy="562.2" r="3.3"/><circle cx="1592.5" cy="574.1" r="3.3"/><circle cx="1574.7" cy="558" r="3.3"/><circle cx="1571.6" cy="563.2" r="3.3"/><circle cx="1596.6" cy="567.2" r="3.3"/><circle cx="1576.2" cy="591.7" r="3.3"/><circle cx="1567.1" cy="568.8" r="3.3"/><circle cx="1579" cy="556.2" r="3.3"/><circle cx="1532.2" cy="580.1" r="3.3"/><circle cx="1523.1" cy="580.2" r="3.3"/><circle cx="1586.6" cy="582.2" r="3.3"/><circle cx="1549.9" cy="562.6" r="3.3"/><circle cx="1554.2" cy="588" r="3.3"/><circle cx="1552.9" cy="557.1" r="3.3"/><circle cx="1562.2" cy="573.2" r="3.3"/><circle cx="1569.6" cy="564.6" r="3.3"/><circle cx="1556.8" cy="549.7" r="3.3"/><circle cx="1557.9" cy="528.4" r="3.3"/><circle cx="1551.8" cy="540.8" r="3.3"/><circle cx="1547.7" cy="548.1" r="3.3"/><circle cx="1540" cy="583.5" r="3.3"/><circle cx="1558.7" cy="562.2" r="3.3"/><circle cx="1563.2" cy="556" r="3.3"/><circle cx="1523" cy="542.4" r="3.3"/><circle cx="1576.8" cy="544" r="3.3"/><circle cx="1554.5" cy="598.4" r="3.3"/><circle cx="1541.2" cy="568.6" r="3.3"/><circle cx="1552.3" cy="553" r="3.3"/><circle cx="1580.2" cy="572.7" r="3.3"/><circle cx="1538.1" cy="590.2" r="3.3"/><circle cx="1542.6" cy="547.6" r="3.3"/><circle cx="1544.2" cy="585.8" r="3.3"/><circle cx="1579.1" cy="540.8" r="3.3"/><circle cx="1553.1" cy="546.2" r="3.3"/><circle cx="1526.9" cy="577.5" r="3.3"/><circle cx="1531.1" cy="599.1" r="3.3"/><circle cx="1555.9" cy="592.8" r="3.3"/><circle cx="1554.5" cy="563.5" r="3.3"/><circle cx="1542.2" cy="559.5" r="3.3"/><circle cx="1591.5" cy="542.1" r="3.3"/><circle cx="1551.7" cy="562.9" r="3.3"/><circle cx="1558.7" cy="549.2" r="3.3"/><circle cx="1536.8" cy="551.4" r="3.3"/><circle cx="1556.7" cy="526.5" r="3.3"/><circle cx="1537.5" cy="567.8" r="3.3"/><circle cx="1551.5" cy="543.2" r="3.3"/><circle cx="1578.3" cy="558.2" r="3.3"/><circle cx="1562.9" cy="547.7" r="3.3"/><circle cx="1539.8" cy="547.9" r="3.3"/><circle cx="1535.4" cy="579.5" r="3.3"/><circle cx="1560.3" cy="562" r="3.3"/><circle cx="1560.9" cy="578.2" r="3.3"/><circle cx="1577.5" cy="569.3" r="3.3"/><circle cx="1543.7" cy="542.2" r="3.3"/><circle cx="1565.5" cy="568.9" r="3.3"/><circle cx="1572.9" cy="606.8" r="3.3"/><circle cx="1569.8" cy="566.3" r="3.3"/><circle cx="1550.5" cy="570.6" r="3.3"/><circle cx="1580.8" cy="573.7" r="3.3"/><circle cx="1550.5" cy="582.8" r="3.3"/><circle cx="1573.4" cy="560.9" r="3.3"/><circle cx="1536.9" cy="557.2" r="3.3"/><circle cx="1555.8" cy="549.5" r="3.3"/><circle cx="1566.9" cy="587.5" r="3.3"/><circle cx="1553.4" cy="561.2" r="3.3"/><circle cx="1548.5" cy="603" r="3.3"/><circle cx="1569" cy="538.6" r="3.3"/><circle cx="1571.8" cy="544.5" r="3.3"/><circle cx="1553.8" cy="594.5" r="3.3"/><circle cx="1530.8" cy="553" r="3.3"/><circle cx="1592.2" cy="577.2" r="3.3"/><circle cx="1540.7" cy="555.6" r="3.3"/><circle cx="1549.2" cy="572.6" r="3.3"/><circle cx="1533.9" cy="557.3" r="3.3"/><circle cx="1569.7" cy="590.8" r="3.3"/><circle cx="1573.6" cy="538.1" r="3.3"/><circle cx="1533.1" cy="578.6" r="3.3"/><circle cx="1563.6" cy="543.8" r="3.3"/><circle cx="1569.9" cy="593.9" r="3.3"/><circle cx="1536.8" cy="560.5" r="3.3"/><circle cx="1563.7" cy="577.5" r="3.3"/><circle cx="1547.1" cy="547.1" r="3.3"/><circle cx="1603.1" cy="570.6" r="3.3"/><circle cx="1563.3" cy="598.1" r="3.3"/><circle cx="1553.3" cy="575.3" r="3.3"/><circle cx="1557.2" cy="529.3" r="3.3"/><circle cx="1549.3" cy="571.2" r="3.3"/><circle cx="1566.1" cy="547.3" r="3.3"/><circle cx="1562" cy="546.2" r="3.3"/><circle cx="1558.4" cy="554.1" r="3.3"/><circle cx="1523.4" cy="584.4" r="3.3"/><circle cx="1572.7" cy="560.1" r="3.3"/><circle cx="1604.2" cy="571.2" r="3.3"/><circle cx="1526.6" cy="561.2" r="3.3"/><circle cx="1545.1" cy="558.7" r="3.3"/><circle cx="1598.1" cy="578.4" r="3.3"/><circle cx="1575" cy="579.7" r="3.3"/><circle cx="1590.3" cy="593.8" r="3.3"/><circle cx="1543.6" cy="557.8" r="3.3"/><circle cx="1557.4" cy="598.6" r="3.3"/><circle cx="1557.1" cy="583.4" r="3.3"/><circle cx="1570.8" cy="579.5" r="3.3"/><circle cx="1588.4" cy="545.6" r="3.3"/><circle cx="1535.5" cy="571.6" r="3.3"/><circle cx="1570.9" cy="552.6" r="3.3"/><circle cx="1533.3" cy="570.5" r="3.3"/><circle cx="1551.8" cy="563.4" r="3.3"/><circle cx="1558.4" cy="563" r="3.3"/><circle cx="1582.9" cy="586.5" r="3.3"/><circle cx="1537.8" cy="599.8" r="3.3"/><circle cx="1549.7" cy="544.7" r="3.3"/><circle cx="1569.8" cy="574.4" r="3.3"/><circle cx="1560.6" cy="558.5" r="3.3"/><circle cx="1588.1" cy="589.4" r="3.3"/><circle cx="1533.8" cy="550.1" r="3.3"/><circle cx="1544.5" cy="530.6" r="3.3"/><circle cx="1575.7" cy="586" r="3.3"/><circle cx="1542.2" cy="576.5" r="3.3"/><circle cx="1532.2" cy="591.4" r="3.3"/><circle cx="1584.3" cy="582.3" r="3.3"/><circle cx="1561.7" cy="566.6" r="3.3"/><circle cx="1556.1" cy="577.6" r="3.3"/><circle cx="1563.4" cy="588.6" r="3.3"/><circle cx="1560.8" cy="561.6" r="3.3"/><circle cx="1566.8" cy="548.3" r="3.3"/><circle cx="1543.8" cy="545.6" r="3.3"/><circle cx="1552.9" cy="561.9" r="3.3"/><circle cx="1543.1" cy="566.3" r="3.3"/><circle cx="1575.6" cy="538.3" r="3.3"/><circle cx="1591.3" cy="593.7" r="3.3"/><circle cx="1560.8" cy="573.9" r="3.3"/><circle cx="1588" cy="580.1" r="3.3"/><circle cx="1557.3" cy="600.7" r="3.3"/><circle cx="1576.7" cy="525.7" r="3.3"/><circle cx="1571.5" cy="578" r="3.3"/><circle cx="1561.4" cy="592.8" r="3.3"/><circle cx="1578.1" cy="559.2" r="3.3"/><circle cx="1564.8" cy="575" r="3.3"/><circle cx="1569.3" cy="606.1" r="3.3"/><circle cx="1541.3" cy="577.4" r="3.3"/><circle cx="1541.7" cy="582.9" r="3.3"/><circle cx="1560.9" cy="578.3" r="3.3"/><circle cx="1564" cy="554.1" r="3.3"/><circle cx="1567.4" cy="540.1" r="3.3"/><circle cx="1575.5" cy="576.7" r="3.3"/><circle cx="1584.6" cy="566.3" r="3.3"/><circle cx="1577.7" cy="577.2" r="3.3"/><circle cx="1560" cy="547.8" r="3.3"/><circle cx="1557.3" cy="557.7" r="3.3"/><circle cx="1557.1" cy="558.2" r="3.3"/><circle cx="1561.9" cy="566.5" r="3.3"/><circle cx="1525.3" cy="565.3" r="3.3"/><circle cx="1597.2" cy="553.4" r="3.3"/><circle cx="1598.2" cy="560.4" r="3.3"/><circle cx="1563.9" cy="565.3" r="3.3"/><circle cx="1554.5" cy="571.2" r="3.3"/><circle cx="1576.8" cy="576.8" r="3.3"/><circle cx="1558.6" cy="548.6" r="3.3"/><circle cx="1603.9" cy="528.3" r="3.3"/><circle cx="1610.6" cy="534" r="3.3"/><circle cx="1612.9" cy="533.3" r="3.3"/><circle cx="1605.1" cy="520.2" r="3.3"/><circle cx="1616.7" cy="526.6" r="3.3"/><circle cx="1596.1" cy="534.9" r="3.3"/><circle cx="1606.1" cy="535.7" r="3.3"/><circle cx="1594.6" cy="526.5" r="3.3"/><circle cx="1617" cy="535.9" r="3.3"/><circle cx="1605.7" cy="537.2" r="3.3"/><circle cx="1611.5" cy="531.3" r="3.3"/><circle cx="1609.6" cy="521.1" r="3.3"/><circle cx="1612.3" cy="534.2" r="3.3"/><circle cx="1606.7" cy="533.3" r="3.3"/><circle cx="1610.2" cy="525.2" r="3.3"/><circle cx="1605.3" cy="538.7" r="3.3"/><circle cx="1596.5" cy="524" r="3.3"/><circle cx="1622" cy="530.8" r="3.3"/><circle cx="1607.6" cy="536.7" r="3.3"/><circle cx="1599.1" cy="532.7" r="3.3"/><circle cx="1609.9" cy="520.4" r="3.3"/><circle cx="1611" cy="526.6" r="3.3"/><circle cx="1614.7" cy="530" r="3.3"/><circle cx="1604.2" cy="533.4" r="3.3"/><circle cx="1604" cy="518.6" r="3.3"/><circle cx="1610.8" cy="540.6" r="3.3"/><circle cx="1608.3" cy="523.5" r="3.3"/><circle cx="1618.6" cy="540.6" r="3.3"/><circle cx="1613.2" cy="546.2" r="3.3"/><circle cx="1611.2" cy="531.7" r="3.3"/><circle cx="1598.3" cy="544.1" r="3.3"/><circle cx="1610.9" cy="536.6" r="3.3"/><circle cx="1607.8" cy="521.7" r="3.3"/><circle cx="1610.7" cy="533.7" r="3.3"/><circle cx="1583.8" cy="522.8" r="3.3"/><circle cx="1588.8" cy="531.5" r="3.3"/><circle cx="1584.9" cy="525.5" r="3.3"/><circle cx="1586.3" cy="532.7" r="3.3"/><circle cx="1583.2" cy="528.2" r="3.3"/><circle cx="1580.2" cy="525.6" r="3.3"/><circle cx="1587" cy="526.6" r="3.3"/><circle cx="1583.3" cy="530.9" r="3.3"/><circle cx="1588.5" cy="524.2" r="3.3"/><circle cx="1582.3" cy="531.8" r="3.3"/><circle cx="1595.6" cy="597.2" r="3.3"/><circle cx="1608.1" cy="588.1" r="3.3"/><circle cx="1605.5" cy="599" r="3.3"/><circle cx="1606.9" cy="585.3" r="3.3"/><circle cx="1608.9" cy="590.2" r="3.3"/><circle cx="1612.2" cy="590.3" r="3.3"/><circle cx="1605.3" cy="590.3" r="3.3"/><circle cx="1596.4" cy="588.7" r="3.3"/><circle cx="1609.4" cy="575.7" r="3.3"/><circle cx="1607" cy="585.1" r="3.3"/><circle cx="1602.5" cy="587.4" r="3.3"/><circle cx="1597.1" cy="596.7" r="3.3"/><circle cx="1609.3" cy="585.6" r="3.3"/><circle cx="1595.7" cy="592" r="3.3"/><circle cx="1595.2" cy="588.7" r="3.3"/><circle cx="1605.6" cy="593.5" r="3.3"/><circle cx="1614.4" cy="596.7" r="3.3"/><circle cx="1609.4" cy="586.9" r="3.3"/><circle cx="1529.5" cy="603.1" r="3.3"/><circle cx="1528.3" cy="591.1" r="3.3"/><circle cx="1516.2" cy="605" r="3.3"/><circle cx="1530" cy="605.8" r="3.3"/><circle cx="1518.3" cy="607" r="3.3"/><circle cx="1526.7" cy="601.2" r="3.3"/><circle cx="1527.1" cy="590.2" r="3.3"/><circle cx="1538.6" cy="593.5" r="3.3"/><circle cx="1529.9" cy="599.7" r="3.3"/><circle cx="1537.6" cy="601.5" r="3.3"/><circle cx="1530.1" cy="602.3" r="3.3"/><circle cx="1535.6" cy="596.4" r="3.3"/><circle cx="1523.7" cy="592.2" r="3.3"/><circle cx="1520.6" cy="599.8" r="3.3"/><circle cx="1529.3" cy="597.5" r="3.3"/><circle cx="1535.1" cy="588.1" r="3.3"/><circle cx="1529.8" cy="593" r="3.3"/><circle cx="1526.1" cy="594.8" r="3.3"/><circle cx="1523.2" cy="599.1" r="3.3"/><circle cx="1525.7" cy="602.1" r="3.3"/><circle cx="1525.5" cy="603.8" r="3.3"/><circle cx="1519.8" cy="595.7" r="3.3"/><circle cx="1536.7" cy="592.7" r="3.3"/><circle cx="1519.5" cy="599.2" r="3.3"/><circle cx="1524.9" cy="597.6" r="3.3"/><circle cx="1518.8" cy="597.6" r="3.3"/><circle cx="1532.6" cy="603.4" r="3.3"/><circle cx="1534.2" cy="598.6" r="3.3"/><circle cx="1525.3" cy="590" r="3.3"/><circle cx="1525.5" cy="595.9" r="3.3"/><circle cx="1505.4" cy="576.8" r="3.3"/><circle cx="1501.7" cy="579.8" r="3.3"/><circle cx="1499.9" cy="577.5" r="3.3"/><circle cx="1499.6" cy="583.8" r="3.3"/><circle cx="1501.2" cy="583.1" r="3.3"/><circle cx="1503.7" cy="575.9" r="3.3"/><circle cx="1604.1" cy="617" r="3.3"/><circle cx="1598.9" cy="622.4" r="3.3"/><circle cx="1607.1" cy="621.9" r="3.3"/><circle cx="1599.3" cy="613.6" r="3.3"/><circle cx="1602.9" cy="611.4" r="3.3"/><circle cx="1595.5" cy="616.8" r="3.3"/><circle cx="1607.7" cy="621.4" r="3.3"/><circle cx="1601.8" cy="615.3" r="3.3"/><circle cx="1599.9" cy="626.6" r="3.3"/><circle cx="1596.7" cy="621.6" r="3.3"/><circle cx="1588.9" cy="629.3" r="3.3"/><circle cx="1591.9" cy="627.3" r="3.3"/><circle cx="1594.1" cy="626.3" r="3.3"/><circle cx="1598" cy="626.5" r="3.3"/><circle cx="1491.3" cy="523.6" r="3.3"/><circle cx="1503.3" cy="535.6" r="3.3"/><circle cx="1493.7" cy="548.8" r="3.3"/><circle cx="1517.1" cy="543.1" r="3.3"/><circle cx="1490.7" cy="584.6" r="3.3"/><circle cx="1517.7" cy="586.1" r="3.3"/><circle cx="1561.6" cy="523" r="3.3"/><circle cx="1571.4" cy="524.8" r="3.3"/><circle cx="1622.2" cy="596.3" r="3.3"/><circle cx="1611.7" cy="602.6" r="3.3"/><circle cx="1548.3" cy="605.3" r="3.3"/><circle cx="1534.5" cy="607.7" r="3.3"/><circle cx="1538.7" cy="538" r="3.3"/><circle cx="1478.1" cy="517.6" r="3.3"/><circle cx="1485.9" cy="515.8" r="3.3"/></g>
<g fill="#0044dd" stroke="#0033aa"><circle cx="1516.3" cy="574.3" r="3.3"/><circle cx="1597" cy="628.7" r="3.3"/><circle cx="1542.3" cy="604.1" r="3.3"/></g>
<g fill="#ffff00" stroke="#c8c800"><circle cx="1517.7" cy="512.9" r="3.3"/></g>
<g fill="#0044dd" stroke="#0033aa"><circle cx="1482.9" cy="670.1" r="3.3"/></g>
<g fill="#ffff00" stroke="#c8c800"><circle cx="1485.6" cy="685.2" r="3.3"/></g>
<g fill="#a4a4a8" stroke="#858588"><circle cx="1487.4" cy="661.9" r="3.3"/><circle cx="1485.6" cy="673.1" r="3.3"/><circle cx="1489.5" cy="677.6" r="3.3"/><circle cx="1492.6" cy="683.7" r="3.3"/><circle cx="1494.1" cy="688.2" r="3.3"/><circle cx="1498.6" cy="690" r="3.3"/><circle cx="1501.6" cy="685.2" r="3.3"/><circle cx="1502.6" cy="679.1" r="3.3"/><circle cx="1504.7" cy="673.1" r="3.3"/><circle cx="1503.2" cy="667.6" r="3.3"/><circle cx="1510.7" cy="671.6" r="3.3"/><circle cx="1512.2" cy="680.7" r="3.3"/><circle cx="1506.2" cy="683.7" r="3.3"/><circle cx="1496.5" cy="680.7" r="3.3"/><circle cx="1500.1" cy="673.1" r="3.3"/><circle cx="1490.4" cy="681.6" r="3.3"/><circle cx="1495.6" cy="685.2" r="3.3"/><circle cx="1506.8" cy="667.6" r="3.3"/><circle cx="1488.6" cy="671.6" r="3.3"/><circle cx="1497.7" cy="687.6" r="3.3"/><circle cx="1503.2" cy="676.1" r="3.3"/><circle cx="1509.2" cy="676.1" r="3.3"/><circle cx="1492.6" cy="679.1" r="3.3"/><circle cx="1500.1" cy="682.2" r="3.3"/></g>
<g fill="#66f000" stroke="#50c000"><circle cx="1488" cy="667" r="3.3"/></g>
</g>
<g stroke="#bdbdbd" stroke-width="1.4" fill="none">
<path d="M1328.6 0V337.8H1665.6M1328.3 357.3V693.7H1665.8"/>
</g>
<rect x="1279.9" y="48.4" width="41.2" height="143.2" fill="#00f"/>
<rect x="1279" y="502.9" width="41.8" height="142.8" fill="#f00"/>
<text class="dv" transform="translate(1315.6 179.1) rotate(-90)" x="-3.83" font-size="39.2" textLength="122.44" lengthAdjust="spacingAndGlyphs" fill="#fff">NL-PM</text>
<text class="dv" transform="translate(1315.1 618) rotate(-90)" x="-3.87" font-size="39" textLength="93.89" lengthAdjust="spacingAndGlyphs" fill="#fff">L-PM</text>
<text class="ls" transform="translate(1313.8 408.6) rotate(-90)" x="-1.39" font-size="27" textLength="138.91" lengthAdjust="spacingAndGlyphs">2D tSNE_2</text>
<text class="ls" x="1421.84" y="724.5" font-size="27" textLength="135.75" lengthAdjust="spacingAndGlyphs">2D tSNE_1</text>
<text class="ls" x="1482.54" y="23.3" font-size="26.3" textLength="136.42" lengthAdjust="spacingAndGlyphs" fill="#e00000">Neutrophils</text>
<text class="ls" x="1366.56" y="46.5" font-size="26.3" textLength="74.46" lengthAdjust="spacingAndGlyphs" fill="#e06010">Mono/</text>
<text class="ls" x="1366.53" y="74.8" font-size="26.3" textLength="75.38" lengthAdjust="spacingAndGlyphs" fill="#e06010">Macro</text>
<text class="ls" x="1333.62" y="120.6" font-size="26.3" textLength="53.7" lengthAdjust="spacingAndGlyphs" fill="#00dd00">pDC</text>
<text class="ls" x="1569.82" y="116.4" font-size="26.3" textLength="39.28" lengthAdjust="spacingAndGlyphs" fill="#00ccff">DC</text>
<text class="ls" x="1409.64" y="289.2" font-size="26.3" textLength="99.11" lengthAdjust="spacingAndGlyphs" fill="#0000cc">NK cells</text>
<text class="ls" x="1535.77" y="284.6" font-size="26.3" textLength="76.4" lengthAdjust="spacingAndGlyphs" fill="#e0a800">T cells</text>
<text class="ls" x="1522.74" y="331.6" font-size="26.3" textLength="79.62" lengthAdjust="spacingAndGlyphs" fill="#666">B cells</text>
<path d="M1843.5 180.1L1955.8 180.1A112.3 112.3 0 0 0 1813.1 72z" fill="#ffff00" stroke="#ffff00" stroke-width=".5"/>
<path d="M1843.5 180.1L1813.1 72A112.3 112.3 0 0 0 1791.3 80.7z" fill="#66ff00" stroke="#66ff00" stroke-width=".5"/>
<path d="M1843.5 180.1L1791.3 80.7A112.3 112.3 0 0 0 1733.7 156.8z" fill="#0044dd" stroke="#0044dd" stroke-width=".5"/>
<path d="M1843.5 180.1L1733.7 156.8A112.3 112.3 0 0 0 1742.6 229.4z" fill="#d42424" stroke="#d42424" stroke-width=".5"/>
<path d="M1843.5 180.1L1742.6 229.4A112.3 112.3 0 0 0 1898.8 277.9z" fill="#ffa500" stroke="#ffa500" stroke-width=".5"/>
<path d="M1843.5 180.1L1898.8 277.9A112.3 112.3 0 0 0 1948 221.2z" fill="#44ffff" stroke="#44ffff" stroke-width=".5"/>
<path d="M1843.5 180.1L1948 221.2A112.3 112.3 0 0 0 1955.8 180.1z" fill="#a0a0a4" stroke="#a0a0a4" stroke-width=".5"/>
<path d="M1843.3 525.2L1955.6 525.2A112.3 112.3 0 0 0 1851.1 413.2z" fill="#ffff00" stroke="#ffff00" stroke-width=".5"/>
<path d="M1843.3 525.2L1851.1 413.2A112.3 112.3 0 0 0 1799.7 421.7z" fill="#66ff00" stroke="#66ff00" stroke-width=".5"/>
<path d="M1843.3 525.2L1799.7 421.7A112.3 112.3 0 0 0 1760.7 601.3z" fill="#0044dd" stroke="#0044dd" stroke-width=".5"/>
<path d="M1843.3 525.2L1760.7 601.3A112.3 112.3 0 0 0 1808.1 631.8z" fill="#d42424" stroke="#d42424" stroke-width=".5"/>
<path d="M1843.3 525.2L1808.1 631.8A112.3 112.3 0 0 0 1907.1 617.6z" fill="#ffa500" stroke="#ffa500" stroke-width=".5"/>
<path d="M1843.3 525.2L1907.1 617.6A112.3 112.3 0 0 0 1955 537.2z" fill="#44ffff" stroke="#44ffff" stroke-width=".5"/>
<path d="M1843.3 525.2L1955 537.2A112.3 112.3 0 0 0 1955.6 525.2z" fill="#a0a0a4" stroke="#a0a0a4" stroke-width=".5"/>
<text class="dv" x="1902.44" y="82.7" font-size="25.5" textLength="52.05" lengthAdjust="spacingAndGlyphs" stroke="#000" stroke-width=".25">414</text>
<text class="dv" x="1780.61" y="68.6" font-size="25.5" textLength="36.68" lengthAdjust="spacingAndGlyphs" stroke="#000" stroke-width=".25">47</text>
<text class="dv" x="1705.85" y="110.4" font-size="25.5" textLength="53.01" lengthAdjust="spacingAndGlyphs" stroke="#000" stroke-width=".25">197</text>
<text class="dv" x="1675.18" y="201" font-size="25.5" textLength="53.05" lengthAdjust="spacingAndGlyphs" stroke="#000" stroke-width=".25">149</text>
<text class="dv" x="1955.68" y="211" font-size="25.5" textLength="35.61" lengthAdjust="spacingAndGlyphs" stroke="#000" stroke-width=".25">84</text>
<text class="dv" x="1927.36" y="278.7" font-size="25.5" textLength="52.36" lengthAdjust="spacingAndGlyphs" stroke="#000" stroke-width=".25">153</text>
<text class="dv" x="1757.22" y="311.7" font-size="25.5" textLength="52.1" lengthAdjust="spacingAndGlyphs" stroke="#000" stroke-width=".25">366</text>
<text class="dv" x="1793.12" y="405.7" font-size="25.5" textLength="53.55" lengthAdjust="spacingAndGlyphs" stroke="#000" stroke-width=".25">105</text>
<text class="dv" x="1916.83" y="435.7" font-size="25.5" textLength="52.48" lengthAdjust="spacingAndGlyphs" stroke="#000" stroke-width=".25">337</text>
<text class="dv" x="1688.5" y="473.3" font-size="25.5" textLength="52.66" lengthAdjust="spacingAndGlyphs" stroke="#000" stroke-width=".25">430</text>
<text class="dv" x="1959.14" y="542" font-size="25.5" textLength="35.14" lengthAdjust="spacingAndGlyphs" stroke="#000" stroke-width=".25">24</text>
<text class="dv" x="1940.61" y="604" font-size="25.5" textLength="52.02" lengthAdjust="spacingAndGlyphs" stroke="#000" stroke-width=".25">193</text>
<text class="dv" x="1734.57" y="642.3" font-size="25.5" textLength="51.28" lengthAdjust="spacingAndGlyphs" stroke="#000" stroke-width=".25">114</text>
<text class="dv" x="1828.18" y="665" font-size="25.5" textLength="52.41" lengthAdjust="spacingAndGlyphs" stroke="#000" stroke-width=".25">207</text>
</g>
<g id="panel-b">
<text class="dv b" x="0.96" y="807.2" font-size="47" textLength="54.5" lengthAdjust="spacingAndGlyphs">B)</text>
<text class="ls" x="171.68" y="785" font-size="38.3" textLength="205.55" lengthAdjust="spacingAndGlyphs">Monocytes/</text>
<text class="ls" x="152.77" y="831.8" font-size="38.3" textLength="244.41" lengthAdjust="spacingAndGlyphs">Macrophages</text>
<text class="ls" x="551.78" y="833" font-size="39.5" textLength="203.76" lengthAdjust="spacingAndGlyphs">Neutrophils</text>
<path d="M191.9 896.7H355.3M191.9 889.2v15M355.3 889.2v15" fill="none" stroke="#000" stroke-width="2"/>
<text class="ls ast" x="279.8" y="913.8" text-anchor="middle">*</text>
<path d="M574.7 896.6H738.6M574.7 889.1v15M738.6 889.1v15" fill="none" stroke="#000" stroke-width="2"/>
<text class="ls ast" x="659.9" y="911.5" text-anchor="middle">***</text>
<text class="dv b" transform="translate(28.6 1188.3) rotate(-90)" x="-0.28" font-size="37" textLength="175.23" lengthAdjust="spacingAndGlyphs">AUC anti-</text>
<text class="dv b" transform="translate(62.6 1274.6) rotate(-90)" x="-3.24" font-size="37" textLength="352.11" lengthAdjust="spacingAndGlyphs">inflammatory genes</text>
<g fill="none" stroke="#e9e9e9" stroke-width="1">
<path d="M109.6 986H438.2M109.6 1095H438.2M109.6 1205H438.2" stroke="#f3f3f3"/>
<path d="M273.5 931.3V1259.5M109.6 931.3H438.2M109.6 1040.5H438.2M109.6 1150.2H438.2M109.6 1259.5H438.2" stroke="#e0e0e0"/>
<rect x="109.6" y="931.3" width="328.6" height="328.2" stroke="#e2e2e2"/>
</g>
<path d="M104.2 931.3V1260.5M109.6 1265.9H438.2M109.6 1265.9v5M273.5 1265.9v5M438.2 1265.9v5" fill="none" stroke="#c4c4c4" stroke-width="1.3"/>
<path d="M104.2 931.3h-4M104.2 1040.5h-4M104.2 1150.2h-4M104.2 1259.5h-4" fill="none" stroke="#c4c4c4" stroke-width="1"/>
<text class="ls" x="71.33" y="939" font-size="20" textLength="28.64" lengthAdjust="spacingAndGlyphs">0.4</text>
<text class="ls" x="71.64" y="1048.2" font-size="20" textLength="28.64" lengthAdjust="spacingAndGlyphs">0.3</text>
<text class="ls" x="71.74" y="1157.9" font-size="20" textLength="28.64" lengthAdjust="spacingAndGlyphs">0.1</text>
<text class="ls" x="88.74" y="1267.2" font-size="20" textLength="11.46" lengthAdjust="spacingAndGlyphs">0</text>
<rect x="126.5" y="1147.6" width="131" height="111.9" fill="#f7f7f7"/>
<rect x="290.3" y="1177.3" width="131.3" height="82.2" fill="#f7f7f7"/>
<path d="M126.5 1099.2H257.5M290.3 1118.3H421.6" fill="none" stroke="#b2b2b2" stroke-width="1.4"/>
<g stroke="#666" stroke-opacity=".5" stroke-width=".8"><circle cx="175.4" cy="1260" r="4.5" fill="#fff" fill-opacity=".6"/><circle cx="180.6" cy="1260" r="4.5" fill="#fff" fill-opacity=".6"/><circle cx="185.6" cy="1260" r="4.5" fill="#fff" fill-opacity=".6"/><circle cx="191" cy="1260" r="4.5" fill="#fff" fill-opacity=".6"/><circle cx="198.2" cy="1260" r="4.5" fill="#fff" fill-opacity=".6"/><circle cx="202.9" cy="1260" r="4.5" fill="#fff" fill-opacity=".6"/><circle cx="209.3" cy="1260" r="4.5" fill="#fff" fill-opacity=".6"/></g>
<g stroke="#500" stroke-opacity=".25" stroke-width=".7"><circle cx="193.7" cy="1250.3" r="4.5" fill="#ffecec"/><circle cx="190.8" cy="1249.2" r="4.5" fill="#ffebeb"/><circle cx="198.4" cy="1249" r="4.5" fill="#ffebeb"/><circle cx="186.9" cy="1249" r="4.5" fill="#ffebeb"/><circle cx="174.1" cy="1248.6" r="4.5" fill="#ffeaea"/><circle cx="175.2" cy="1244.9" r="4.5" fill="#ffe6e6"/><circle cx="184" cy="1242.3" r="4.5" fill="#ffe2e2"/><circle cx="199" cy="1242.2" r="4.5" fill="#ffe2e2"/><circle cx="177.4" cy="1242.1" r="4.5" fill="#ffe2e2"/><circle cx="181.8" cy="1237.4" r="4.5" fill="#ffdcdc"/><circle cx="197.4" cy="1236" r="4.5" fill="#ffdbdb"/><circle cx="186.7" cy="1233" r="4.5" fill="#ffd7d7"/><circle cx="190.7" cy="1232.3" r="4.5" fill="#ffd6d6"/><circle cx="179.1" cy="1231.2" r="4.5" fill="#ffd5d5"/><circle cx="200.6" cy="1229.2" r="4.5" fill="#ffd3d3"/><circle cx="188.5" cy="1226.2" r="4.5" fill="#ffcfcf"/><circle cx="180.5" cy="1225.7" r="4.5" fill="#ffcece"/><circle cx="210" cy="1225.2" r="4.5" fill="#ffcece"/><circle cx="190.7" cy="1222.6" r="4.5" fill="#ffcbcb"/><circle cx="184.8" cy="1220.5" r="4.5" fill="#ffc8c8"/><circle cx="173.1" cy="1218.9" r="4.5" fill="#ffc6c6"/><circle cx="209.9" cy="1218" r="4.5" fill="#ffc5c5"/><circle cx="175.4" cy="1217.7" r="4.5" fill="#ffc5c5"/><circle cx="200.4" cy="1217.4" r="4.5" fill="#ffc4c4"/><circle cx="205.1" cy="1217.2" r="4.5" fill="#ffc4c4"/><circle cx="195.6" cy="1215.5" r="4.5" fill="#ffc2c2"/><circle cx="206.9" cy="1213.5" r="4.5" fill="#ffbfbf"/><circle cx="204" cy="1212.4" r="4.5" fill="#ffbebe"/><circle cx="201.5" cy="1211.6" r="4.5" fill="#ffbdbd"/><circle cx="186.9" cy="1211.4" r="4.5" fill="#ffbdbd"/><circle cx="181.3" cy="1211" r="4.5" fill="#ffbdbd"/><circle cx="196.9" cy="1210.7" r="4.5" fill="#ffbcbc"/><circle cx="178.4" cy="1209.2" r="4.5" fill="#ffbaba"/><circle cx="195.6" cy="1208.1" r="4.5" fill="#ffb9b9"/><circle cx="201.3" cy="1206.8" r="4.5" fill="#ffb7b7"/><circle cx="178.1" cy="1206.3" r="4.5" fill="#ffb7b7"/><circle cx="207.1" cy="1206.2" r="4.5" fill="#ffb7b7"/><circle cx="204.7" cy="1205.9" r="4.5" fill="#ffb6b6"/><circle cx="187.3" cy="1205.8" r="4.5" fill="#ffb6b6"/><circle cx="175.6" cy="1205.5" r="4.5" fill="#ffb6b6"/><circle cx="180.9" cy="1205.3" r="4.5" fill="#ffb6b6"/><circle cx="190.5" cy="1205" r="4.5" fill="#ffb5b5"/><circle cx="202.3" cy="1202.8" r="4.5" fill="#ffb2b2"/><circle cx="211" cy="1202.7" r="4.5" fill="#ffb2b2"/><circle cx="197.7" cy="1201.4" r="4.5" fill="#ffb1b1"/><circle cx="182.9" cy="1200.9" r="4.5" fill="#ffb0b0"/><circle cx="190.1" cy="1200.4" r="4.5" fill="#ffb0b0"/><circle cx="210.3" cy="1200.3" r="4.5" fill="#ffafaf"/><circle cx="174.6" cy="1198.1" r="4.5" fill="#ffadad"/><circle cx="183.8" cy="1197.9" r="4.5" fill="#ffadad"/><circle cx="203.1" cy="1197.8" r="4.5" fill="#ffacac"/><circle cx="181.1" cy="1197.6" r="4.5" fill="#ffacac"/><circle cx="172.5" cy="1196.4" r="4.5" fill="#ffabab"/><circle cx="194.9" cy="1195.4" r="4.5" fill="#ffa9a9"/><circle cx="174.2" cy="1194.1" r="4.5" fill="#ffa8a8"/><circle cx="203.5" cy="1193.1" r="4.5" fill="#ffa7a7"/><circle cx="176.8" cy="1191.9" r="4.5" fill="#ffa5a5"/><circle cx="194.1" cy="1191.9" r="4.5" fill="#ffa5a5"/><circle cx="197.7" cy="1191.4" r="4.5" fill="#ffa5a5"/><circle cx="201.7" cy="1191" r="4.5" fill="#ffa4a4"/><circle cx="189" cy="1190.6" r="4.5" fill="#ffa4a4"/><circle cx="207.4" cy="1189.7" r="4.5" fill="#ffa3a3"/><circle cx="172.5" cy="1189.4" r="4.5" fill="#ffa2a2"/><circle cx="211.1" cy="1188.3" r="4.5" fill="#ffa1a1"/><circle cx="183.4" cy="1187.8" r="4.5" fill="#ffa0a0"/><circle cx="196.2" cy="1187.7" r="4.5" fill="#ffa0a0"/><circle cx="199.7" cy="1186.5" r="4.5" fill="#ff9f9f"/><circle cx="187.3" cy="1185.3" r="4.5" fill="#ff9d9d"/><circle cx="210.8" cy="1185" r="4.5" fill="#ff9d9d"/><circle cx="176.3" cy="1185" r="4.5" fill="#ff9d9d"/><circle cx="193.2" cy="1183.7" r="4.5" fill="#ff9b9b"/><circle cx="188.5" cy="1183.2" r="4.5" fill="#ff9b9b"/><circle cx="211.4" cy="1182.5" r="4.5" fill="#ff9a9a"/><circle cx="195.7" cy="1181.5" r="4.5" fill="#ff9999"/><circle cx="173.4" cy="1181.3" r="4.5" fill="#ff9898"/><circle cx="203.1" cy="1181.1" r="4.5" fill="#ff9898"/><circle cx="205.9" cy="1179.7" r="4.5" fill="#ff9696"/><circle cx="188.5" cy="1178.7" r="4.5" fill="#ff9595"/><circle cx="182.6" cy="1178.5" r="4.5" fill="#ff9595"/><circle cx="208.3" cy="1178.2" r="4.5" fill="#ff9595"/><circle cx="192.6" cy="1177.9" r="4.5" fill="#ff9494"/><circle cx="201.6" cy="1177.5" r="4.5" fill="#ff9494"/><circle cx="204.3" cy="1176" r="4.5" fill="#ff9292"/><circle cx="174.8" cy="1175.7" r="4.5" fill="#ff9292"/><circle cx="199.9" cy="1175.5" r="4.5" fill="#ff9191"/><circle cx="196.8" cy="1175.3" r="4.5" fill="#ff9191"/><circle cx="209.3" cy="1173.3" r="4.5" fill="#ff8f8f"/><circle cx="195" cy="1173" r="4.5" fill="#ff8e8e"/><circle cx="196.8" cy="1171.3" r="4.5" fill="#ff8c8c"/><circle cx="177.3" cy="1169.8" r="4.5" fill="#ff8a8a"/><circle cx="203.8" cy="1165" r="4.5" fill="#ff8585"/><circle cx="177" cy="1163" r="4.5" fill="#ff8282"/><circle cx="195.5" cy="1163" r="4.5" fill="#ff8282"/><circle cx="187.2" cy="1159.6" r="4.5" fill="#ff7e7e"/><circle cx="204" cy="1159.3" r="4.5" fill="#ff7e7e"/><circle cx="183.5" cy="1159" r="4.5" fill="#ff7d7d"/><circle cx="172.9" cy="1158.9" r="4.5" fill="#ff7d7d"/><circle cx="196" cy="1157.5" r="4.5" fill="#ff7c7c"/><circle cx="193.6" cy="1157.2" r="4.5" fill="#ff7b7b"/><circle cx="181.5" cy="1156" r="4.5" fill="#ff7a7a"/><circle cx="186.9" cy="1152.2" r="4.5" fill="#ff7575"/><circle cx="196.2" cy="1151" r="4.5" fill="#ff7474"/><circle cx="187.1" cy="1149.5" r="4.5" fill="#ff7272"/><circle cx="206.9" cy="1148.6" r="4.5" fill="#ff7171"/><circle cx="199.1" cy="1148.4" r="4.5" fill="#ff7070"/><circle cx="187.2" cy="1147.9" r="4.5" fill="#ff7070"/><circle cx="179.8" cy="1146" r="4.5" fill="#ff6e6e"/><circle cx="200.7" cy="1145.7" r="4.5" fill="#ff6d6d"/><circle cx="174.3" cy="1145.5" r="4.5" fill="#ff6d6d"/><circle cx="208.2" cy="1145.3" r="4.5" fill="#ff6d6d"/><circle cx="185.8" cy="1144.2" r="4.5" fill="#ff6b6b"/><circle cx="196.1" cy="1143.9" r="4.5" fill="#ff6b6b"/><circle cx="181.9" cy="1143" r="4.5" fill="#ff6a6a"/><circle cx="203.2" cy="1140.5" r="4.5" fill="#ff6767"/><circle cx="210.9" cy="1140.1" r="4.5" fill="#ff6666"/><circle cx="178.6" cy="1139.7" r="4.5" fill="#ff6666"/><circle cx="186.2" cy="1139.6" r="4.5" fill="#ff6666"/><circle cx="200.9" cy="1138.7" r="4.5" fill="#ff6565"/><circle cx="195.5" cy="1138.6" r="4.5" fill="#ff6565"/><circle cx="190.5" cy="1138.1" r="4.5" fill="#ff6464"/><circle cx="196.9" cy="1136.4" r="4.5" fill="#ff6262"/><circle cx="173.6" cy="1136.4" r="4.5" fill="#ff6262"/><circle cx="186.6" cy="1136.3" r="4.5" fill="#ff6262"/><circle cx="192.8" cy="1135.7" r="4.5" fill="#ff6161"/><circle cx="180.4" cy="1134.6" r="4.5" fill="#ff6060"/><circle cx="177" cy="1134.1" r="4.5" fill="#ff5f5f"/><circle cx="191.5" cy="1133.1" r="4.5" fill="#ff5e5e"/><circle cx="199.2" cy="1132.5" r="4.5" fill="#ff5d5d"/><circle cx="186.7" cy="1131.6" r="4.5" fill="#ff5c5c"/><circle cx="202.3" cy="1131.1" r="4.5" fill="#ff5b5b"/><circle cx="206" cy="1130.7" r="4.5" fill="#ff5b5b"/><circle cx="182.4" cy="1129.7" r="4.5" fill="#ff5a5a"/><circle cx="189.7" cy="1128.5" r="4.5" fill="#ff5858"/><circle cx="186.1" cy="1128.2" r="4.5" fill="#ff5858"/><circle cx="209.4" cy="1127.2" r="4.5" fill="#ff5757"/><circle cx="202.6" cy="1124.5" r="4.5" fill="#ff5353"/><circle cx="197.6" cy="1124.5" r="4.5" fill="#ff5353"/><circle cx="186.8" cy="1124.4" r="4.5" fill="#ff5353"/><circle cx="173.3" cy="1122.6" r="4.5" fill="#ff5151"/><circle cx="210.4" cy="1121.8" r="4.5" fill="#ff5050"/><circle cx="192.6" cy="1121.6" r="4.5" fill="#ff5050"/><circle cx="174.1" cy="1119.5" r="4.5" fill="#ff4d4d"/><circle cx="210" cy="1117.2" r="4.5" fill="#ff4b4b"/><circle cx="184.1" cy="1117.2" r="4.5" fill="#ff4b4b"/><circle cx="177" cy="1116.1" r="4.5" fill="#ff4949"/><circle cx="190.2" cy="1115.4" r="4.5" fill="#ff4848"/><circle cx="198.2" cy="1115.4" r="4.5" fill="#ff4848"/><circle cx="190.6" cy="1113" r="4.5" fill="#ff4545"/><circle cx="186" cy="1111.6" r="4.5" fill="#ff4444"/><circle cx="176.4" cy="1110.8" r="4.5" fill="#ff4343"/><circle cx="193.6" cy="1109.1" r="4.5" fill="#ff4141"/><circle cx="191.1" cy="1107.9" r="4.5" fill="#ff3f3f"/><circle cx="176.3" cy="1106.8" r="4.5" fill="#ff3e3e"/><circle cx="188.3" cy="1104.8" r="4.5" fill="#ff3c3c"/><circle cx="190.8" cy="1104.2" r="4.5" fill="#ff3b3b"/><circle cx="184.9" cy="1101.4" r="4.5" fill="#ff3737"/><circle cx="200.7" cy="1101.1" r="4.5" fill="#ff3737"/><circle cx="175.9" cy="1099.8" r="4.5" fill="#ff3535"/><circle cx="188.2" cy="1099.6" r="4.5" fill="#ff3535"/><circle cx="204.8" cy="1098.7" r="4.5" fill="#ff3434"/><circle cx="179" cy="1094" r="4.5" fill="#ff2e2e"/><circle cx="173.2" cy="1093.9" r="4.5" fill="#ff2e2e"/><circle cx="196.9" cy="1093.6" r="4.5" fill="#ff2e2e"/><circle cx="197.6" cy="1084.2" r="4.5" fill="#ff2222"/><circle cx="187.7" cy="1079" r="4.5" fill="#ff1c1c"/><circle cx="199.2" cy="1079" r="4.5" fill="#ff1c1c"/><circle cx="188.2" cy="1076.5" r="4.5" fill="#ff1919"/><circle cx="196.6" cy="1072.9" r="4.5" fill="#ff1515"/><circle cx="202.7" cy="1072.4" r="4.5" fill="#ff1414"/><circle cx="198.4" cy="1064.8" r="4.5" fill="#ff0b0b"/><circle cx="184.7" cy="1064.6" r="4.5" fill="#ff0b0b"/><circle cx="181.8" cy="1064" r="4.5" fill="#ff0a0a"/><circle cx="208.4" cy="1062.1" r="4.5" fill="#ff0808"/><circle cx="174.9" cy="1056.5" r="4.5" fill="#ff0101"/><circle cx="193.2" cy="1056.5" r="4.5" fill="#ff0101"/><circle cx="185.1" cy="1054.3" r="4.5" fill="#ff0000"/><circle cx="205.4" cy="1045.6" r="4.5" fill="#ff0000"/><circle cx="187.2" cy="1041.8" r="4.5" fill="#ff0000"/><circle cx="179.8" cy="1038.9" r="4.5" fill="#ff0000"/><circle cx="185.6" cy="1032.3" r="4.5" fill="#ff0000"/><circle cx="177.7" cy="1031.4" r="4.5" fill="#ff0000"/><circle cx="193.1" cy="1025.7" r="4.5" fill="#ff0000"/><circle cx="191" cy="1019.4" r="4.5" fill="#ff0000"/><circle cx="178" cy="1018.9" r="4.5" fill="#ff0000"/><circle cx="183.6" cy="1018.9" r="4.5" fill="#ff0000"/><circle cx="199.5" cy="1017.8" r="4.5" fill="#ff0000"/><circle cx="195.2" cy="1017.2" r="4.5" fill="#ff0000"/><circle cx="200.9" cy="994.6" r="4.5" fill="#ff0000"/><circle cx="195.6" cy="991.1" r="4.5" fill="#ff0000"/><circle cx="205.4" cy="989.5" r="4.5" fill="#ff0000"/><circle cx="177.6" cy="986.2" r="4.5" fill="#ff0000"/><circle cx="204.1" cy="980.1" r="4.5" fill="#ff0000"/><circle cx="172.1" cy="931.2" r="4.5" fill="#ff0000"/></g>
<g stroke="#666" stroke-opacity=".5" stroke-width=".8"><circle cx="339.7" cy="1260" r="4.5" fill="#fff" fill-opacity=".6"/><circle cx="344.7" cy="1260" r="4.5" fill="#fff" fill-opacity=".6"/><circle cx="350.9" cy="1260" r="4.5" fill="#fff" fill-opacity=".6"/><circle cx="356" cy="1260" r="4.5" fill="#fff" fill-opacity=".6"/><circle cx="362.4" cy="1260" r="4.5" fill="#fff" fill-opacity=".6"/><circle cx="367.9" cy="1260" r="4.5" fill="#fff" fill-opacity=".6"/><circle cx="371.6" cy="1260" r="4.5" fill="#fff" fill-opacity=".6"/></g>
<g stroke="#500" stroke-opacity=".25" stroke-width=".7"><circle cx="360.2" cy="1249.1" r="4.5" fill="#ffebeb"/><circle cx="364.5" cy="1247.2" r="4.5" fill="#ffe8e8"/><circle cx="357.1" cy="1246.3" r="4.5" fill="#ffe7e7"/><circle cx="363.9" cy="1243.5" r="4.5" fill="#ffe4e4"/><circle cx="355.4" cy="1243.2" r="4.5" fill="#ffe4e4"/><circle cx="358.6" cy="1243" r="4.5" fill="#ffe3e3"/><circle cx="368.6" cy="1241.8" r="4.5" fill="#ffe2e2"/><circle cx="366.3" cy="1238.8" r="4.5" fill="#ffdede"/><circle cx="371.1" cy="1238.4" r="4.5" fill="#ffdede"/><circle cx="361.8" cy="1236.7" r="4.5" fill="#ffdcdc"/><circle cx="354.4" cy="1236.3" r="4.5" fill="#ffdbdb"/><circle cx="370" cy="1234.7" r="4.5" fill="#ffd9d9"/><circle cx="374.2" cy="1233.8" r="4.5" fill="#ffd8d8"/><circle cx="343.6" cy="1232.5" r="4.5" fill="#ffd7d7"/><circle cx="340.7" cy="1231" r="4.5" fill="#ffd5d5"/><circle cx="352.1" cy="1230.2" r="4.5" fill="#ffd4d4"/><circle cx="352.7" cy="1224.9" r="4.5" fill="#ffcdcd"/><circle cx="344.3" cy="1222.7" r="4.5" fill="#ffcbcb"/><circle cx="374.2" cy="1220.2" r="4.5" fill="#ffc8c8"/><circle cx="348.1" cy="1218.5" r="4.5" fill="#ffc6c6"/><circle cx="373" cy="1216.2" r="4.5" fill="#ffc3c3"/><circle cx="360.1" cy="1214.2" r="4.5" fill="#ffc0c0"/><circle cx="343.8" cy="1212.9" r="4.5" fill="#ffbfbf"/><circle cx="339.8" cy="1212.7" r="4.5" fill="#ffbfbf"/><circle cx="351" cy="1211.2" r="4.5" fill="#ffbdbd"/><circle cx="360.6" cy="1210.6" r="4.5" fill="#ffbcbc"/><circle cx="374.6" cy="1210.6" r="4.5" fill="#ffbcbc"/><circle cx="355.1" cy="1210.4" r="4.5" fill="#ffbcbc"/><circle cx="340.2" cy="1208.8" r="4.5" fill="#ffbaba"/><circle cx="365.1" cy="1208.7" r="4.5" fill="#ffbaba"/><circle cx="343.5" cy="1207.3" r="4.5" fill="#ffb8b8"/><circle cx="346" cy="1205.4" r="4.5" fill="#ffb6b6"/><circle cx="362.8" cy="1204.6" r="4.5" fill="#ffb5b5"/><circle cx="348.3" cy="1203.7" r="4.5" fill="#ffb4b4"/><circle cx="371.9" cy="1203.1" r="4.5" fill="#ffb3b3"/><circle cx="364.7" cy="1202.8" r="4.5" fill="#ffb2b2"/><circle cx="356.7" cy="1202.6" r="4.5" fill="#ffb2b2"/><circle cx="351" cy="1202.3" r="4.5" fill="#ffb2b2"/><circle cx="369.6" cy="1201.2" r="4.5" fill="#ffb1b1"/><circle cx="341.8" cy="1200.6" r="4.5" fill="#ffb0b0"/><circle cx="375.2" cy="1200.1" r="4.5" fill="#ffafaf"/><circle cx="344" cy="1199.5" r="4.5" fill="#ffaeae"/><circle cx="361.3" cy="1198.5" r="4.5" fill="#ffadad"/><circle cx="338.9" cy="1198.1" r="4.5" fill="#ffadad"/><circle cx="350.3" cy="1198" r="4.5" fill="#ffadad"/><circle cx="369.5" cy="1197.6" r="4.5" fill="#ffacac"/><circle cx="366.4" cy="1196.8" r="4.5" fill="#ffabab"/><circle cx="372.9" cy="1196.2" r="4.5" fill="#ffaaaa"/><circle cx="340.4" cy="1196" r="4.5" fill="#ffaaaa"/><circle cx="349" cy="1195.8" r="4.5" fill="#ffaaaa"/><circle cx="359.7" cy="1195.7" r="4.5" fill="#ffaaaa"/><circle cx="343.2" cy="1194.9" r="4.5" fill="#ffa9a9"/><circle cx="370.5" cy="1193.9" r="4.5" fill="#ffa8a8"/><circle cx="346.7" cy="1193.9" r="4.5" fill="#ffa8a8"/><circle cx="350.2" cy="1192.6" r="4.5" fill="#ffa6a6"/><circle cx="344.1" cy="1192" r="4.5" fill="#ffa5a5"/><circle cx="362.8" cy="1191.2" r="4.5" fill="#ffa4a4"/><circle cx="336.5" cy="1190.4" r="4.5" fill="#ffa3a3"/><circle cx="351.3" cy="1189.3" r="4.5" fill="#ffa2a2"/><circle cx="360.7" cy="1186.9" r="4.5" fill="#ff9f9f"/><circle cx="364.1" cy="1186.8" r="4.5" fill="#ff9f9f"/><circle cx="357.8" cy="1186.6" r="4.5" fill="#ff9f9f"/><circle cx="336.2" cy="1186.5" r="4.5" fill="#ff9f9f"/><circle cx="368" cy="1186.1" r="4.5" fill="#ff9e9e"/><circle cx="345.7" cy="1185.3" r="4.5" fill="#ff9d9d"/><circle cx="351.6" cy="1184.2" r="4.5" fill="#ff9c9c"/><circle cx="337.1" cy="1184" r="4.5" fill="#ff9c9c"/><circle cx="356.9" cy="1183.1" r="4.5" fill="#ff9b9b"/><circle cx="359.5" cy="1180" r="4.5" fill="#ff9797"/><circle cx="371.9" cy="1179.4" r="4.5" fill="#ff9696"/><circle cx="342.8" cy="1177.2" r="4.5" fill="#ff9393"/><circle cx="339.2" cy="1176.9" r="4.5" fill="#ff9393"/><circle cx="345" cy="1176.1" r="4.5" fill="#ff9292"/><circle cx="355.6" cy="1175.3" r="4.5" fill="#ff9191"/><circle cx="353.9" cy="1172.1" r="4.5" fill="#ff8d8d"/><circle cx="348.7" cy="1171.4" r="4.5" fill="#ff8c8c"/><circle cx="340.2" cy="1168.2" r="4.5" fill="#ff8888"/><circle cx="353.7" cy="1166.7" r="4.5" fill="#ff8787"/><circle cx="369" cy="1165.4" r="4.5" fill="#ff8585"/><circle cx="342.9" cy="1164.8" r="4.5" fill="#ff8484"/><circle cx="374.7" cy="1161.2" r="4.5" fill="#ff8080"/><circle cx="373.4" cy="1159.2" r="4.5" fill="#ff7e7e"/><circle cx="339.9" cy="1159.1" r="4.5" fill="#ff7d7d"/><circle cx="359.1" cy="1157.6" r="4.5" fill="#ff7c7c"/><circle cx="354.4" cy="1156" r="4.5" fill="#ff7a7a"/><circle cx="371.2" cy="1154.7" r="4.5" fill="#ff7878"/><circle cx="344.7" cy="1151" r="4.5" fill="#ff7474"/><circle cx="367.8" cy="1146" r="4.5" fill="#ff6d6d"/><circle cx="352.8" cy="1143.9" r="4.5" fill="#ff6b6b"/><circle cx="375.1" cy="1143.3" r="4.5" fill="#ff6a6a"/><circle cx="350.3" cy="1136.4" r="4.5" fill="#ff6262"/><circle cx="359.9" cy="1136.3" r="4.5" fill="#ff6262"/><circle cx="354" cy="1135" r="4.5" fill="#ff6060"/><circle cx="366.9" cy="1134.7" r="4.5" fill="#ff6060"/><circle cx="338.6" cy="1132.4" r="4.5" fill="#ff5d5d"/><circle cx="348.6" cy="1131.9" r="4.5" fill="#ff5c5c"/><circle cx="374.1" cy="1130.9" r="4.5" fill="#ff5b5b"/><circle cx="361" cy="1130.8" r="4.5" fill="#ff5b5b"/><circle cx="338.5" cy="1129.8" r="4.5" fill="#ff5a5a"/><circle cx="368.6" cy="1127.9" r="4.5" fill="#ff5858"/><circle cx="373.9" cy="1126.1" r="4.5" fill="#ff5555"/><circle cx="336.5" cy="1125" r="4.5" fill="#ff5454"/><circle cx="357.6" cy="1120.9" r="4.5" fill="#ff4f4f"/><circle cx="345.3" cy="1118.5" r="4.5" fill="#ff4c4c"/><circle cx="339.4" cy="1118.5" r="4.5" fill="#ff4c4c"/><circle cx="368.5" cy="1116.6" r="4.5" fill="#ff4a4a"/><circle cx="358.8" cy="1116.4" r="4.5" fill="#ff4a4a"/><circle cx="347.5" cy="1116.3" r="4.5" fill="#ff4949"/><circle cx="350.5" cy="1114.5" r="4.5" fill="#ff4747"/><circle cx="372.5" cy="1113.5" r="4.5" fill="#ff4646"/><circle cx="364" cy="1111.9" r="4.5" fill="#ff4444"/><circle cx="342.8" cy="1111.7" r="4.5" fill="#ff4444"/><circle cx="359.1" cy="1110.9" r="4.5" fill="#ff4343"/><circle cx="339.3" cy="1110.9" r="4.5" fill="#ff4343"/><circle cx="338.1" cy="1106.2" r="4.5" fill="#ff3d3d"/><circle cx="345" cy="1105.6" r="4.5" fill="#ff3c3c"/><circle cx="348.5" cy="1104.4" r="4.5" fill="#ff3b3b"/><circle cx="341.2" cy="1103.5" r="4.5" fill="#ff3a3a"/><circle cx="358.3" cy="1101.9" r="4.5" fill="#ff3838"/><circle cx="344.6" cy="1101.5" r="4.5" fill="#ff3737"/><circle cx="356.5" cy="1094.7" r="4.5" fill="#ff2f2f"/><circle cx="353.9" cy="1091.1" r="4.5" fill="#ff2b2b"/><circle cx="356.4" cy="1091" r="4.5" fill="#ff2b2b"/><circle cx="356.2" cy="1067.4" r="4.5" fill="#ff0e0e"/><circle cx="344" cy="1067.3" r="4.5" fill="#ff0e0e"/><circle cx="353.5" cy="1065.1" r="4.5" fill="#ff0b0b"/><circle cx="344.1" cy="1063.6" r="4.5" fill="#ff0909"/><circle cx="368.5" cy="1062" r="4.5" fill="#ff0808"/><circle cx="344.1" cy="1058.7" r="4.5" fill="#ff0303"/><circle cx="370" cy="1034.5" r="4.5" fill="#ff0000"/></g>
<path d="M126.5 1147.6H257.5V1259.5H126.5zM126.5 1197.7H257.5M191.9 1099.2V1147.6M290.3 1177.3H421.6V1259.5H290.3zM290.3 1213.3H421.6M356 1118.3V1177.3" fill="none" stroke="#222" stroke-opacity=".5" stroke-width=".9"/>
<rect x="118.9" y="1279" width="143.3" height="42" fill="#00f"/>
<text class="dv" x="127.15" y="1314.9" font-size="39.5" textLength="122.87" lengthAdjust="spacingAndGlyphs" fill="#fff">NL-PM</text>
<rect x="284.1" y="1279" width="143.5" height="42" fill="#f00"/>
<text class="dv" x="308.24" y="1314.9" font-size="39.5" textLength="93.78" lengthAdjust="spacingAndGlyphs" fill="#fff">L-PM</text>
<g fill="none" stroke="#e9e9e9" stroke-width="1">
<path d="M486.3 986H816.2M486.3 1095.8H816.2M486.3 1205.4H816.2" stroke="#f3f3f3"/>
<path d="M651.5 931V1260.1M486.3 931H816.2M486.3 1041H816.2M486.3 1150.5H816.2M486.3 1260.1H816.2" stroke="#e0e0e0"/>
<rect x="486.3" y="931" width="329.9" height="329.1" stroke="#e2e2e2"/>
</g>
<path d="M480.9 931V1261.1M486.3 1266.8H816.2M486.3 1266.8v5M651.5 1266.8v5M816.2 1266.8v5" fill="none" stroke="#c4c4c4" stroke-width="1.3"/>
<path d="M480.9 931h-4M480.9 1041h-4M480.9 1150.5h-4M480.9 1260.1h-4" fill="none" stroke="#c4c4c4" stroke-width="1"/>
<text class="ls" x="447.54" y="938.7" font-size="20" textLength="28.64" lengthAdjust="spacingAndGlyphs">0.3</text>
<text class="ls" x="447.64" y="1048.7" font-size="20" textLength="28.64" lengthAdjust="spacingAndGlyphs">0.2</text>
<text class="ls" x="447.64" y="1158.2" font-size="20" textLength="28.64" lengthAdjust="spacingAndGlyphs">0.1</text>
<text class="ls" x="464.64" y="1267.8" font-size="20" textLength="11.46" lengthAdjust="spacingAndGlyphs">0</text>
<rect x="503.4" y="1045.7" width="131.4" height="108.9" fill="#f7f7f7"/>
<rect x="667.7" y="1088.2" width="131.8" height="171.9" fill="#f7f7f7"/>
<path d="M503.4 975.2H634.8M503.4 1199.2H634.8M667.7 1049.5H799.5" fill="none" stroke="#b2b2b2" stroke-width="1.4"/>
<g stroke="#666" stroke-opacity=".5" stroke-width=".8"><circle cx="553.5" cy="1260.6" r="4.1" fill="#fff" fill-opacity=".6"/><circle cx="557.7" cy="1260.6" r="4.1" fill="#fff" fill-opacity=".6"/><circle cx="563.8" cy="1260.6" r="4.1" fill="#fff" fill-opacity=".6"/><circle cx="569.6" cy="1260.6" r="4.1" fill="#fff" fill-opacity=".6"/><circle cx="573.6" cy="1260.6" r="4.1" fill="#fff" fill-opacity=".6"/><circle cx="580.5" cy="1260.6" r="4.1" fill="#fff" fill-opacity=".6"/></g>
<g stroke="#500" stroke-opacity=".25" stroke-width=".7"><circle cx="556.6" cy="1204.1" r="4.1" fill="#ffbcbc"/><circle cx="585.9" cy="1202.7" r="4.1" fill="#ffbaba"/><circle cx="582.7" cy="1199.5" r="4.1" fill="#ffb7b7"/><circle cx="570.1" cy="1196" r="4.1" fill="#ffb3b3"/><circle cx="563.9" cy="1181.5" r="4.1" fill="#ffa4a4"/><circle cx="579.2" cy="1176.7" r="4.1" fill="#ff9f9f"/><circle cx="588.6" cy="1172.4" r="4.1" fill="#ff9a9a"/><circle cx="561.2" cy="1169.9" r="4.1" fill="#ff9898"/><circle cx="556.6" cy="1169.4" r="4.1" fill="#ff9797"/><circle cx="570.6" cy="1166.7" r="4.1" fill="#ff9494"/><circle cx="559.9" cy="1165.1" r="4.1" fill="#ff9292"/><circle cx="576" cy="1162.4" r="4.1" fill="#ff9090"/><circle cx="585.4" cy="1161.9" r="4.1" fill="#ff8f8f"/><circle cx="552.3" cy="1157.8" r="4.1" fill="#ff8b8b"/><circle cx="584.1" cy="1157.8" r="4.1" fill="#ff8b8b"/><circle cx="548.3" cy="1152.5" r="4.1" fill="#ff8585"/><circle cx="558.5" cy="1152.4" r="4.1" fill="#ff8585"/><circle cx="589.6" cy="1152.4" r="4.1" fill="#ff8585"/><circle cx="552.5" cy="1152.3" r="4.1" fill="#ff8585"/><circle cx="583" cy="1152.3" r="4.1" fill="#ff8585"/><circle cx="554.6" cy="1152.1" r="4.1" fill="#ff8585"/><circle cx="574.8" cy="1151.6" r="4.1" fill="#ff8484"/><circle cx="578" cy="1151.5" r="4.1" fill="#ff8484"/><circle cx="568.7" cy="1151.3" r="4.1" fill="#ff8484"/><circle cx="565.2" cy="1151.3" r="4.1" fill="#ff8484"/><circle cx="563" cy="1151.2" r="4.1" fill="#ff8484"/><circle cx="572.4" cy="1151.1" r="4.1" fill="#ff8383"/><circle cx="584.9" cy="1150.9" r="4.1" fill="#ff8383"/><circle cx="578.7" cy="1119.7" r="4.1" fill="#ff6262"/><circle cx="564.4" cy="1107" r="4.1" fill="#ff5555"/><circle cx="574.1" cy="1104.1" r="4.1" fill="#ff5252"/><circle cx="562" cy="1097.9" r="4.1" fill="#ff4b4b"/><circle cx="572.8" cy="1089.3" r="4.1" fill="#ff4242"/><circle cx="568.7" cy="1088.2" r="4.1" fill="#ff4141"/><circle cx="549.7" cy="1087.7" r="4.1" fill="#ff4040"/><circle cx="560.7" cy="1080.4" r="4.1" fill="#ff3838"/><circle cx="587.3" cy="1080.4" r="4.1" fill="#ff3838"/><circle cx="556.6" cy="1073.7" r="4.1" fill="#ff3131"/><circle cx="574.7" cy="1073.7" r="4.1" fill="#ff3131"/><circle cx="585.4" cy="1073.2" r="4.1" fill="#ff3131"/><circle cx="551.3" cy="1071.3" r="4.1" fill="#ff2f2f"/><circle cx="588.9" cy="1066.9" r="4.1" fill="#ff2a2a"/><circle cx="578.7" cy="1066.7" r="4.1" fill="#ff2a2a"/><circle cx="568.6" cy="1066.3" r="4.1" fill="#ff2929"/><circle cx="556.5" cy="1065.7" r="4.1" fill="#ff2929"/><circle cx="563.4" cy="1063.1" r="4.1" fill="#ff2626"/><circle cx="554.3" cy="1060.4" r="4.1" fill="#ff2323"/><circle cx="582.9" cy="1059.6" r="4.1" fill="#ff2222"/><circle cx="573.6" cy="1059.2" r="4.1" fill="#ff2222"/><circle cx="588.7" cy="1058.8" r="4.1" fill="#ff2121"/><circle cx="560.7" cy="1058.3" r="4.1" fill="#ff2121"/><circle cx="565.1" cy="1057.5" r="4.1" fill="#ff2020"/><circle cx="549.7" cy="1056.5" r="4.1" fill="#ff1f1f"/><circle cx="577.7" cy="1056.5" r="4.1" fill="#ff1f1f"/><circle cx="560.9" cy="1052.5" r="4.1" fill="#ff1b1b"/><circle cx="557.4" cy="1051.3" r="4.1" fill="#ff1919"/><circle cx="549.2" cy="1051.1" r="4.1" fill="#ff1919"/><circle cx="588" cy="1050.8" r="4.1" fill="#ff1919"/><circle cx="578.2" cy="1050.7" r="4.1" fill="#ff1919"/><circle cx="565.3" cy="1050.7" r="4.1" fill="#ff1919"/><circle cx="581.2" cy="1050.3" r="4.1" fill="#ff1818"/><circle cx="573" cy="1049.6" r="4.1" fill="#ff1818"/><circle cx="560.9" cy="1045.1" r="4.1" fill="#ff1313"/><circle cx="550.2" cy="1044.6" r="4.1" fill="#ff1212"/><circle cx="567.5" cy="1044.6" r="4.1" fill="#ff1212"/><circle cx="584.8" cy="1044.5" r="4.1" fill="#ff1212"/><circle cx="571.7" cy="1044.3" r="4.1" fill="#ff1212"/><circle cx="578.9" cy="1044.2" r="4.1" fill="#ff1212"/><circle cx="580.8" cy="1044" r="4.1" fill="#ff1212"/><circle cx="556.8" cy="1043.8" r="4.1" fill="#ff1212"/><circle cx="574.2" cy="1043.8" r="4.1" fill="#ff1212"/><circle cx="563.7" cy="1043.7" r="4.1" fill="#ff1111"/><circle cx="588" cy="1043.7" r="4.1" fill="#ff1111"/><circle cx="552.8" cy="1043.3" r="4.1" fill="#ff1111"/><circle cx="562" cy="1037.4" r="4.1" fill="#ff0b0b"/><circle cx="580" cy="1031.5" r="4.1" fill="#ff0404"/><circle cx="578.7" cy="1007.3" r="4.1" fill="#ff0000"/><circle cx="576.8" cy="1002" r="4.1" fill="#ff0000"/><circle cx="582.2" cy="996.6" r="4.1" fill="#ff0000"/><circle cx="584.6" cy="992" r="4.1" fill="#ff0000"/><circle cx="562.6" cy="991.2" r="4.1" fill="#ff0000"/><circle cx="578.7" cy="981.3" r="4.1" fill="#ff0000"/><circle cx="586.2" cy="978.3" r="4.1" fill="#ff0000"/><circle cx="566.1" cy="975.1" r="4.1" fill="#ff0000"/><circle cx="579.5" cy="972.9" r="4.1" fill="#ff0000"/><circle cx="571.4" cy="969.7" r="4.1" fill="#ff0000"/><circle cx="560.7" cy="963" r="4.1" fill="#ff0000"/><circle cx="584.1" cy="963" r="4.1" fill="#ff0000"/><circle cx="569.8" cy="962.2" r="4.1" fill="#ff0000"/><circle cx="577.9" cy="959.8" r="4.1" fill="#ff0000"/><circle cx="580.6" cy="957.6" r="4.1" fill="#ff0000"/><circle cx="574.1" cy="951.7" r="4.1" fill="#ff0000"/><circle cx="564.7" cy="946.9" r="4.1" fill="#ff0000"/><circle cx="576.5" cy="942.8" r="4.1" fill="#ff0000"/><circle cx="567.4" cy="942" r="4.1" fill="#ff0000"/><circle cx="561.8" cy="939.3" r="4.1" fill="#ff0000"/><circle cx="575.5" cy="932.1" r="4.1" fill="#ff0000"/><circle cx="570.1" cy="930.7" r="4.1" fill="#ff0000"/></g>
<g stroke="#666" stroke-opacity=".5" stroke-width=".8"><circle cx="713.8" cy="1260.6" r="4.1" fill="#fff" fill-opacity=".6"/><circle cx="719" cy="1260.6" r="4.1" fill="#fff" fill-opacity=".6"/><circle cx="724.2" cy="1260.6" r="4.1" fill="#fff" fill-opacity=".6"/><circle cx="729.6" cy="1260.6" r="4.1" fill="#fff" fill-opacity=".6"/><circle cx="733.1" cy="1260.6" r="4.1" fill="#fff" fill-opacity=".6"/><circle cx="739" cy="1260.6" r="4.1" fill="#fff" fill-opacity=".6"/><circle cx="743.1" cy="1260.6" r="4.1" fill="#fff" fill-opacity=".6"/><circle cx="748.8" cy="1260.6" r="4.1" fill="#fff" fill-opacity=".6"/><circle cx="753.7" cy="1260.6" r="4.1" fill="#fff" fill-opacity=".6"/></g>
<g stroke="#500" stroke-opacity=".25" stroke-width=".7"><circle cx="715.2" cy="1219.1" r="4.1" fill="#ffcccc"/><circle cx="743.2" cy="1205.4" r="4.1" fill="#ffbdbd"/><circle cx="739.4" cy="1199" r="4.1" fill="#ffb6b6"/><circle cx="752" cy="1190.1" r="4.1" fill="#ffadad"/><circle cx="729.2" cy="1188.7" r="4.1" fill="#ffacac"/><circle cx="723.8" cy="1188.2" r="4.1" fill="#ffabab"/><circle cx="746.7" cy="1188.2" r="4.1" fill="#ffabab"/><circle cx="752.8" cy="1187.4" r="4.1" fill="#ffaaaa"/><circle cx="744" cy="1184.7" r="4.1" fill="#ffa7a7"/><circle cx="738.6" cy="1182" r="4.1" fill="#ffa4a4"/><circle cx="751.5" cy="1178.5" r="4.1" fill="#ffa1a1"/><circle cx="719.8" cy="1174.5" r="4.1" fill="#ff9c9c"/><circle cx="752" cy="1174" r="4.1" fill="#ff9c9c"/><circle cx="714.4" cy="1172.6" r="4.1" fill="#ff9a9a"/><circle cx="730" cy="1171.3" r="4.1" fill="#ff9999"/><circle cx="749.3" cy="1169.4" r="4.1" fill="#ff9797"/><circle cx="737.2" cy="1167.2" r="4.1" fill="#ff9595"/><circle cx="730" cy="1164.6" r="4.1" fill="#ff9292"/><circle cx="741.3" cy="1164" r="4.1" fill="#ff9191"/><circle cx="722.5" cy="1161.9" r="4.1" fill="#ff8f8f"/><circle cx="751.2" cy="1158.1" r="4.1" fill="#ff8b8b"/><circle cx="713.6" cy="1157" r="4.1" fill="#ff8a8a"/><circle cx="747.9" cy="1152.4" r="4.1" fill="#ff8585"/><circle cx="716.2" cy="1152.3" r="4.1" fill="#ff8585"/><circle cx="728.9" cy="1152.1" r="4.1" fill="#ff8585"/><circle cx="725.6" cy="1152.1" r="4.1" fill="#ff8585"/><circle cx="736.2" cy="1152" r="4.1" fill="#ff8484"/><circle cx="750.3" cy="1151.8" r="4.1" fill="#ff8484"/><circle cx="753.5" cy="1151.7" r="4.1" fill="#ff8484"/><circle cx="731.6" cy="1151.7" r="4.1" fill="#ff8484"/><circle cx="744.4" cy="1151.6" r="4.1" fill="#ff8484"/><circle cx="722.3" cy="1151.5" r="4.1" fill="#ff8484"/><circle cx="741.8" cy="1151.5" r="4.1" fill="#ff8484"/><circle cx="713.8" cy="1151.1" r="4.1" fill="#ff8484"/><circle cx="737.6" cy="1151" r="4.1" fill="#ff8383"/><circle cx="720.6" cy="1150.9" r="4.1" fill="#ff8383"/><circle cx="749.1" cy="1125.9" r="4.1" fill="#ff6969"/><circle cx="723" cy="1115.9" r="4.1" fill="#ff5e5e"/><circle cx="721.9" cy="1107.3" r="4.1" fill="#ff5555"/><circle cx="733.2" cy="1103.8" r="4.1" fill="#ff5151"/><circle cx="753.4" cy="1102.2" r="4.1" fill="#ff5050"/><circle cx="722.7" cy="1098.2" r="4.1" fill="#ff4b4b"/><circle cx="725.7" cy="1096.6" r="4.1" fill="#ff4a4a"/><circle cx="718.4" cy="1088.5" r="4.1" fill="#ff4141"/><circle cx="737.5" cy="1087.4" r="4.1" fill="#ff4040"/><circle cx="745.3" cy="1082.6" r="4.1" fill="#ff3b3b"/><circle cx="751.2" cy="1075.9" r="4.1" fill="#ff3434"/><circle cx="730.5" cy="1071.8" r="4.1" fill="#ff2f2f"/><circle cx="752" cy="1070" r="4.1" fill="#ff2d2d"/><circle cx="747.2" cy="1067.3" r="4.1" fill="#ff2a2a"/><circle cx="741.3" cy="1066.5" r="4.1" fill="#ff2a2a"/><circle cx="725.7" cy="1065.7" r="4.1" fill="#ff2929"/><circle cx="720.6" cy="1065.1" r="4.1" fill="#ff2828"/><circle cx="742.6" cy="1055.7" r="4.1" fill="#ff1e1e"/><circle cx="731.9" cy="1053.6" r="4.1" fill="#ff1c1c"/><circle cx="745.3" cy="1052.5" r="4.1" fill="#ff1b1b"/><circle cx="750.1" cy="1051.7" r="4.1" fill="#ff1a1a"/><circle cx="728.4" cy="1049" r="4.1" fill="#ff1717"/><circle cx="726.8" cy="1042.8" r="4.1" fill="#ff1010"/><circle cx="727.6" cy="1033.4" r="4.1" fill="#ff0606"/><circle cx="727.3" cy="1015.4" r="4.1" fill="#ff0000"/><circle cx="724.6" cy="1014.9" r="4.1" fill="#ff0000"/><circle cx="751.8" cy="1013" r="4.1" fill="#ff0000"/><circle cx="737.8" cy="1003.8" r="4.1" fill="#ff0000"/><circle cx="749.6" cy="996.3" r="4.1" fill="#ff0000"/><circle cx="717.1" cy="986.1" r="4.1" fill="#ff0000"/><circle cx="739.1" cy="959.8" r="4.1" fill="#ff0000"/><circle cx="736.7" cy="954.4" r="4.1" fill="#ff0000"/></g>
<path d="M503.4 1045.7H634.8V1154.6H503.4zM503.4 1087.8H634.8M569.3 975.2V1045.7M569.3 1154.6V1199.2M667.7 1088.2H799.5V1260.1H667.7zM667.7 1157.9H799.5M733.6 1049.5V1088.2" fill="none" stroke="#222" stroke-opacity=".5" stroke-width=".9"/>
<rect x="494.2" y="1279" width="143.5" height="42" fill="#00f"/>
<text class="dv" x="502.45" y="1314.9" font-size="39.5" textLength="123.08" lengthAdjust="spacingAndGlyphs" fill="#fff">NL-PM</text>
<rect x="659.8" y="1279" width="143.1" height="42" fill="#f00"/>
<text class="dv" x="683.95" y="1314.9" font-size="39.5" textLength="93.34" lengthAdjust="spacingAndGlyphs" fill="#fff">L-PM</text>
</g>
<g id="panel-c">
<text class="dv b" x="798.54" y="807.4" font-size="47.5" textLength="54.56" lengthAdjust="spacingAndGlyphs">C)</text>
<text class="ls" x="907.61" y="769" font-size="20.3" textLength="66.56" lengthAdjust="spacingAndGlyphs">Z-score</text>
<rect x="884.5" y="781" width="116.7" height="22.6" fill="url(#zg)"/>
<text class="ls" x="862.36" y="825.5" font-size="20" textLength="44.91" lengthAdjust="spacingAndGlyphs">-0.76</text>
<text class="ls" x="979.8" y="825.5" font-size="20" textLength="38.77" lengthAdjust="spacingAndGlyphs">2.23</text>
<text class="ls" x="862.36" y="898.9" font-size="20" textLength="44.91" lengthAdjust="spacingAndGlyphs">-0.76</text>
<text class="ls" x="979.8" y="898.9" font-size="20" textLength="38.77" lengthAdjust="spacingAndGlyphs">2.23</text>
<path d="M888 853.2L990 848.7V874.6L888 869.4z" fill="#bcbcbc"/>
<ellipse cx="887.1" cy="861.2" rx="8" ry="8.9"/><ellipse cx="993.3" cy="861.4" rx="15.6" ry="17.5"/>
<text class="ls" x="1213.2" y="839.8" font-size="39.6" textLength="115.46" lengthAdjust="spacingAndGlyphs">T cells</text>
<g fill="none"><path d="M893.4 1086.7v13.8M896.6 1086.7v13.8M899.8 1086.7v13.8M903 1086.7v13.8M906.2 1086.7v13.8M925.5 1086.7v13.8M1041.3 1086.7v13.8M1044.5 1086.7v13.8M1047.7 1086.7v13.8M1060.6 1086.7v13.8M1070.2 1086.7v13.8M1073.4 1086.7v13.8M1079.8 1086.7v13.8M1150.6 1086.7v13.8M1163.4 1086.7v13.8M1176.3 1086.7v13.8M1179.5 1086.7v13.8M1198.8 1086.7v13.8M1211.7 1086.7v13.8M1221.3 1086.7v13.8M1224.5 1086.7v13.8M1240.6 1086.7v13.8M1253.5 1086.7v13.8M1304.9 1086.7v13.8M1317.8 1086.7v13.8M1330.6 1086.7v13.8M1343.5 1086.7v13.8M1382.1 1086.7v13.8M1385.3 1086.7v13.8M1388.5 1086.7v13.8M1401.3 1086.7v13.8M1404.6 1086.7v13.8M1430.3 1086.7v13.8M1436.7 1086.7v13.8M1449.6 1086.7v13.8M915.9 1155.7v13.8M941.6 1155.7v13.8M977 1155.7v13.8M1073.4 1155.7v13.8M1115.2 1155.7v13.8M1150.6 1155.7v13.8M1160.2 1155.7v13.8M1179.5 1155.7v13.8M1182.7 1155.7v13.8M1185.9 1155.7v13.8M1227.7 1155.7v13.8M1237.4 1155.7v13.8M1250.2 1155.7v13.8M1253.5 1155.7v13.8M1256.7 1155.7v13.8M1285.6 1155.7v13.8M1301.7 1155.7v13.8M1343.5 1155.7v13.8M1362.8 1155.7v13.8M1404.6 1155.7v13.8M1433.5 1155.7v13.8M893.4 1224.4v13.8M896.6 1224.4v13.8M899.8 1224.4v13.8M909.5 1224.4v13.8M938.4 1224.4v13.8M1002.7 1224.4v13.8M1028.4 1224.4v13.8M1041.3 1224.4v13.8M1047.7 1224.4v13.8M1060.6 1224.4v13.8M1070.2 1224.4v13.8M1073.4 1224.4v13.8M1076.6 1224.4v13.8M1079.8 1224.4v13.8M1092.7 1224.4v13.8M1095.9 1224.4v13.8M1108.8 1224.4v13.8M1121.6 1224.4v13.8M1124.9 1224.4v13.8M1131.3 1224.4v13.8M1134.5 1224.4v13.8M1147.4 1224.4v13.8M1150.6 1224.4v13.8M1160.2 1224.4v13.8M1163.4 1224.4v13.8M1179.5 1224.4v13.8M1182.7 1224.4v13.8M1208.4 1224.4v13.8M1221.3 1224.4v13.8M1224.5 1224.4v13.8M1237.4 1224.4v13.8M1240.6 1224.4v13.8M1250.2 1224.4v13.8M1253.5 1224.4v13.8M1256.7 1224.4v13.8M1301.7 1224.4v13.8M1343.5 1224.4v13.8M1372.4 1224.4v13.8M1375.6 1224.4v13.8M1385.3 1224.4v13.8M1388.5 1224.4v13.8M1401.3 1224.4v13.8M1404.6 1224.4v13.8M1420.6 1224.4v13.8M1433.5 1224.4v13.8M1449.6 1224.4v13.8" stroke="#5c5cff" stroke-width="1.3"/>
<path d="M870.9 949.1v13.8M880.5 949.1v13.8M890.2 949.1v13.8M893.4 949.1v13.8M896.6 949.1v13.8M906.2 949.1v13.8M909.5 949.1v13.8M915.9 949.1v13.8M919.1 949.1v13.8M922.3 949.1v13.8M925.5 949.1v13.8M928.7 949.1v13.8M932 949.1v13.8M935.2 949.1v13.8M938.4 949.1v13.8M941.6 949.1v13.8M977 949.1v13.8M1015.5 949.1v13.8M1041.3 949.1v13.8M1044.5 949.1v13.8M1050.9 949.1v13.8M1054.1 949.1v13.8M1057.3 949.1v13.8M1060.6 949.1v13.8M1067 949.1v13.8M1070.2 949.1v13.8M1073.4 949.1v13.8M1079.8 949.1v13.8M1086.3 949.1v13.8M1095.9 949.1v13.8M1099.1 949.1v13.8M1102.4 949.1v13.8M1108.8 949.1v13.8M1115.2 949.1v13.8M1118.4 949.1v13.8M1121.6 949.1v13.8M1124.9 949.1v13.8M1128.1 949.1v13.8M1131.3 949.1v13.8M1134.5 949.1v13.8M1137.7 949.1v13.8M1144.1 949.1v13.8M1147.4 949.1v13.8M1150.6 949.1v13.8M1153.8 949.1v13.8M1163.4 949.1v13.8M1166.7 949.1v13.8M1169.9 949.1v13.8M1176.3 949.1v13.8M1179.5 949.1v13.8M1182.7 949.1v13.8M1185.9 949.1v13.8M1195.6 949.1v13.8M1198.8 949.1v13.8M1202 949.1v13.8M1208.4 949.1v13.8M1211.7 949.1v13.8M1218.1 949.1v13.8M1221.3 949.1v13.8M1224.5 949.1v13.8M1227.7 949.1v13.8M1234.2 949.1v13.8M1237.4 949.1v13.8M1240.6 949.1v13.8M1243.8 949.1v13.8M1247 949.1v13.8M1250.2 949.1v13.8M1259.9 949.1v13.8M1263.1 949.1v13.8M1276 949.1v13.8M1279.2 949.1v13.8M1285.6 949.1v13.8M1292 949.1v13.8M1295.3 949.1v13.8M1301.7 949.1v13.8M1304.9 949.1v13.8M1308.1 949.1v13.8M1311.3 949.1v13.8M1314.5 949.1v13.8M1321 949.1v13.8M1330.6 949.1v13.8M1333.8 949.1v13.8M1337 949.1v13.8M1340.3 949.1v13.8M1343.5 949.1v13.8M1346.7 949.1v13.8M1349.9 949.1v13.8M1353.1 949.1v13.8M1356.3 949.1v13.8M1375.6 949.1v13.8M1382.1 949.1v13.8M1385.3 949.1v13.8M1394.9 949.1v13.8M1398.1 949.1v13.8M1401.3 949.1v13.8M1404.6 949.1v13.8M1407.8 949.1v13.8M1411 949.1v13.8M1414.2 949.1v13.8M1417.4 949.1v13.8M1420.6 949.1v13.8M1427.1 949.1v13.8M1430.3 949.1v13.8M1433.5 949.1v13.8M1436.7 949.1v13.8M1443.1 949.1v13.8M1446.4 949.1v13.8M1449.6 949.1v13.8M1456 949.1v13.8M973.8 1018.1v13.8M1002.7 1018.1v13.8M1015.5 1018.1v13.8M919.1 1086.7v13.8M935.2 1086.7v13.8M938.4 1086.7v13.8M999.5 1086.7v13.8M1015.5 1086.7v13.8M1022 1086.7v13.8M1050.9 1086.7v13.8M1067 1086.7v13.8M1095.9 1086.7v13.8M1124.9 1086.7v13.8M1131.3 1086.7v13.8M1140.9 1086.7v13.8M1144.1 1086.7v13.8M1153.8 1086.7v13.8M1202 1086.7v13.8M1218.1 1086.7v13.8M1231 1086.7v13.8M1243.8 1086.7v13.8M1247 1086.7v13.8M1259.9 1086.7v13.8M1263.1 1086.7v13.8M1292 1086.7v13.8M1308.1 1086.7v13.8M1333.8 1086.7v13.8M1349.9 1086.7v13.8M1366 1086.7v13.8M1378.8 1086.7v13.8M1394.9 1086.7v13.8M1414.2 1086.7v13.8M1427.1 1086.7v13.8M1443.1 1086.7v13.8M1456 1086.7v13.8M893.4 1155.7v13.8M1022 1155.7v13.8M1041.3 1155.7v13.8M1050.9 1155.7v13.8M1054.1 1155.7v13.8M1086.3 1155.7v13.8M1131.3 1155.7v13.8M1157 1155.7v13.8M1166.7 1155.7v13.8M1169.9 1155.7v13.8M1243.8 1155.7v13.8M1247 1155.7v13.8M1259.9 1155.7v13.8M1308.1 1155.7v13.8M1311.3 1155.7v13.8M1321 1155.7v13.8M1333.8 1155.7v13.8M1337 1155.7v13.8M1391.7 1155.7v13.8M1394.9 1155.7v13.8M1411 1155.7v13.8M1414.2 1155.7v13.8M1427.1 1155.7v13.8M1449.6 1155.7v13.8M1456 1155.7v13.8M903 1224.4v13.8M915.9 1224.4v13.8M944.8 1224.4v13.8M993 1224.4v13.8M1022 1224.4v13.8M1038.1 1224.4v13.8M1050.9 1224.4v13.8M1099.1 1224.4v13.8M1115.2 1224.4v13.8M1140.9 1224.4v13.8M1153.8 1224.4v13.8M1169.9 1224.4v13.8M1173.1 1224.4v13.8M1185.9 1224.4v13.8M1218.1 1224.4v13.8M1234.2 1224.4v13.8M1243.8 1224.4v13.8M1259.9 1224.4v13.8M1263.1 1224.4v13.8M1308.1 1224.4v13.8M1321 1224.4v13.8M1337 1224.4v13.8M1349.9 1224.4v13.8M1353.1 1224.4v13.8M1382.1 1224.4v13.8M1394.9 1224.4v13.8M1427.1 1224.4v13.8M1430.3 1224.4v13.8M1446.4 1224.4v13.8M1452.8 1224.4v13.8M1456 1224.4v13.8" stroke="#8e8eff" stroke-width="1.3"/>
<path d="M1022 949.1v13.8M877.3 1018.1v13.8M880.5 1018.1v13.8M890.2 1018.1v13.8M893.4 1018.1v13.8M896.6 1018.1v13.8M899.8 1018.1v13.8M903 1018.1v13.8M906.2 1018.1v13.8M909.5 1018.1v13.8M919.1 1018.1v13.8M922.3 1018.1v13.8M925.5 1018.1v13.8M928.7 1018.1v13.8M932 1018.1v13.8M935.2 1018.1v13.8M938.4 1018.1v13.8M941.6 1018.1v13.8M944.8 1018.1v13.8M1022 1018.1v13.8M1025.2 1018.1v13.8M1034.8 1018.1v13.8M1038.1 1018.1v13.8M1041.3 1018.1v13.8M1044.5 1018.1v13.8M1047.7 1018.1v13.8M1050.9 1018.1v13.8M1054.1 1018.1v13.8M1057.3 1018.1v13.8M1060.6 1018.1v13.8M1063.8 1018.1v13.8M1067 1018.1v13.8M1070.2 1018.1v13.8M1073.4 1018.1v13.8M1076.6 1018.1v13.8M1079.8 1018.1v13.8M1083.1 1018.1v13.8M1086.3 1018.1v13.8M1089.5 1018.1v13.8M1095.9 1018.1v13.8M1099.1 1018.1v13.8M1102.4 1018.1v13.8M1105.6 1018.1v13.8M1112 1018.1v13.8M1115.2 1018.1v13.8M1121.6 1018.1v13.8M1124.9 1018.1v13.8M1128.1 1018.1v13.8M1131.3 1018.1v13.8M1140.9 1018.1v13.8M1147.4 1018.1v13.8M1150.6 1018.1v13.8M1153.8 1018.1v13.8M1157 1018.1v13.8M1160.2 1018.1v13.8M1163.4 1018.1v13.8M1166.7 1018.1v13.8M1169.9 1018.1v13.8M1173.1 1018.1v13.8M1176.3 1018.1v13.8M1179.5 1018.1v13.8M1182.7 1018.1v13.8M1185.9 1018.1v13.8M1195.6 1018.1v13.8M1198.8 1018.1v13.8M1202 1018.1v13.8M1205.2 1018.1v13.8M1208.4 1018.1v13.8M1211.7 1018.1v13.8M1214.9 1018.1v13.8M1218.1 1018.1v13.8M1221.3 1018.1v13.8M1224.5 1018.1v13.8M1227.7 1018.1v13.8M1231 1018.1v13.8M1234.2 1018.1v13.8M1237.4 1018.1v13.8M1240.6 1018.1v13.8M1243.8 1018.1v13.8M1247 1018.1v13.8M1250.2 1018.1v13.8M1253.5 1018.1v13.8M1256.7 1018.1v13.8M1259.9 1018.1v13.8M1263.1 1018.1v13.8M1276 1018.1v13.8M1279.2 1018.1v13.8M1282.4 1018.1v13.8M1285.6 1018.1v13.8M1292 1018.1v13.8M1295.3 1018.1v13.8M1298.5 1018.1v13.8M1301.7 1018.1v13.8M1304.9 1018.1v13.8M1308.1 1018.1v13.8M1311.3 1018.1v13.8M1314.5 1018.1v13.8M1317.8 1018.1v13.8M1321 1018.1v13.8M1324.2 1018.1v13.8M1327.4 1018.1v13.8M1330.6 1018.1v13.8M1333.8 1018.1v13.8M1337 1018.1v13.8M1340.3 1018.1v13.8M1343.5 1018.1v13.8M1346.7 1018.1v13.8M1349.9 1018.1v13.8M1353.1 1018.1v13.8M1356.3 1018.1v13.8M1359.6 1018.1v13.8M1362.8 1018.1v13.8M1366 1018.1v13.8M1378.8 1018.1v13.8M1382.1 1018.1v13.8M1385.3 1018.1v13.8M1388.5 1018.1v13.8M1391.7 1018.1v13.8M1394.9 1018.1v13.8M1401.3 1018.1v13.8M1404.6 1018.1v13.8M1407.8 1018.1v13.8M1411 1018.1v13.8M1414.2 1018.1v13.8M1420.6 1018.1v13.8M1423.9 1018.1v13.8M1427.1 1018.1v13.8M1430.3 1018.1v13.8M1433.5 1018.1v13.8M1436.7 1018.1v13.8M1443.1 1018.1v13.8M1446.4 1018.1v13.8M1449.6 1018.1v13.8M1452.8 1018.1v13.8M1456 1018.1v13.8M874.1 1086.7v13.8M880.5 1086.7v13.8M890.2 1086.7v13.8M922.3 1086.7v13.8M928.7 1086.7v13.8M932 1086.7v13.8M944.8 1086.7v13.8M983.4 1086.7v13.8M1009.1 1086.7v13.8M1018.8 1086.7v13.8M1025.2 1086.7v13.8M1038.1 1086.7v13.8M1054.1 1086.7v13.8M1063.8 1086.7v13.8M1086.3 1086.7v13.8M1089.5 1086.7v13.8M1105.6 1086.7v13.8M1115.2 1086.7v13.8M1118.4 1086.7v13.8M1128.1 1086.7v13.8M1137.7 1086.7v13.8M1169.9 1086.7v13.8M1173.1 1086.7v13.8M1182.7 1086.7v13.8M1189.2 1086.7v13.8M1192.4 1086.7v13.8M1195.6 1086.7v13.8M1208.4 1086.7v13.8M1227.7 1086.7v13.8M1234.2 1086.7v13.8M1250.2 1086.7v13.8M1285.6 1086.7v13.8M1288.8 1086.7v13.8M1295.3 1086.7v13.8M1301.7 1086.7v13.8M1314.5 1086.7v13.8M1327.4 1086.7v13.8M1337 1086.7v13.8M1346.7 1086.7v13.8M1353.1 1086.7v13.8M1362.8 1086.7v13.8M1407.8 1086.7v13.8M1411 1086.7v13.8M1417.4 1086.7v13.8M1423.9 1086.7v13.8M1433.5 1086.7v13.8M1439.9 1086.7v13.8M1446.4 1086.7v13.8M899.8 1155.7v13.8M903 1155.7v13.8M906.2 1155.7v13.8M909.5 1155.7v13.8M922.3 1155.7v13.8M928.7 1155.7v13.8M932 1155.7v13.8M944.8 1155.7v13.8M1002.7 1155.7v13.8M1009.1 1155.7v13.8M1031.6 1155.7v13.8M1038.1 1155.7v13.8M1044.5 1155.7v13.8M1047.7 1155.7v13.8M1070.2 1155.7v13.8M1076.6 1155.7v13.8M1079.8 1155.7v13.8M1083.1 1155.7v13.8M1092.7 1155.7v13.8M1118.4 1155.7v13.8M1124.9 1155.7v13.8M1128.1 1155.7v13.8M1134.5 1155.7v13.8M1137.7 1155.7v13.8M1147.4 1155.7v13.8M1153.8 1155.7v13.8M1163.4 1155.7v13.8M1173.1 1155.7v13.8M1176.3 1155.7v13.8M1198.8 1155.7v13.8M1202 1155.7v13.8M1205.2 1155.7v13.8M1211.7 1155.7v13.8M1218.1 1155.7v13.8M1221.3 1155.7v13.8M1224.5 1155.7v13.8M1234.2 1155.7v13.8M1240.6 1155.7v13.8M1263.1 1155.7v13.8M1279.2 1155.7v13.8M1288.8 1155.7v13.8M1292 1155.7v13.8M1298.5 1155.7v13.8M1317.8 1155.7v13.8M1327.4 1155.7v13.8M1340.3 1155.7v13.8M1346.7 1155.7v13.8M1372.4 1155.7v13.8M1375.6 1155.7v13.8M1385.3 1155.7v13.8M1407.8 1155.7v13.8M1420.6 1155.7v13.8M1423.9 1155.7v13.8M1430.3 1155.7v13.8M1436.7 1155.7v13.8M1439.9 1155.7v13.8M1446.4 1155.7v13.8M973.8 1224.4v13.8M1015.5 1224.4v13.8M1044.5 1224.4v13.8M1102.4 1224.4v13.8M1128.1 1224.4v13.8M1144.1 1224.4v13.8M1195.6 1224.4v13.8M1198.8 1224.4v13.8M1202 1224.4v13.8M1211.7 1224.4v13.8M1276 1224.4v13.8M1285.6 1224.4v13.8M1298.5 1224.4v13.8M1311.3 1224.4v13.8M1324.2 1224.4v13.8M1362.8 1224.4v13.8M1411 1224.4v13.8M1414.2 1224.4v13.8" stroke="#c2c2ff" stroke-width="1.3"/>
<path d="M874.1 944v24M899.8 944v24M903 944v24M970.5 944v24M983.4 944v24M989.8 944v24M993 944v24M1002.7 944v24M1005.9 944v24M1038.1 944v24M1083.1 944v24M1112 944v24M1140.9 944v24M1157 944v24M1160.2 944v24M1192.4 944v24M1231 944v24M1253.5 944v24M1256.7 944v24M1266.3 944v24M1288.8 944v24M1298.5 944v24M1324.2 944v24M1327.4 944v24M1362.8 944v24M1369.2 944v24M1372.4 944v24M1388.5 944v24M957.7 1013v24M960.9 1013v24M983.4 1013v24M1005.9 1081.6v24M1205.2 1081.6v24M1279.2 1081.6v24M883.7 1150.6v24M890.2 1150.6v24M925.5 1150.6v24M935.2 1150.6v24M970.5 1150.6v24M973.8 1150.6v24M989.8 1150.6v24M999.5 1150.6v24M1015.5 1150.6v24M1018.8 1150.6v24M1099.1 1150.6v24M1108.8 1150.6v24M1195.6 1150.6v24M1214.9 1150.6v24M1282.4 1150.6v24M1369.2 1150.6v24M1401.3 1150.6v24M1417.4 1150.6v24M1443.1 1150.6v24M1452.8 1150.6v24M1359.6 1219.3v24M1366 1219.3v24" stroke="#ffe4e4" stroke-width="1.3"/>
<path d="M912.7 942.5v27M944.8 942.5v27M999.5 942.5v27M1009.1 942.5v27M1018.8 942.5v27M1047.7 942.5v27M1063.8 942.5v27M1076.6 942.5v27M1089.5 942.5v27M1205.2 942.5v27M1317.8 942.5v27M1423.9 942.5v27M1452.8 942.5v27M886.9 1011.5v27M915.9 1011.5v27M967.3 1011.5v27M989.8 1011.5v27M993 1011.5v27M999.5 1011.5v27M1108.8 1011.5v27M1118.4 1011.5v27M1137.7 1011.5v27M1144.1 1011.5v27M1189.2 1011.5v27M1269.5 1011.5v27M1272.8 1011.5v27M1369.2 1011.5v27M1372.4 1011.5v27M1375.6 1011.5v27M1398.1 1011.5v27M867.7 1080.1v27M870.9 1080.1v27M886.9 1080.1v27M915.9 1080.1v27M957.7 1080.1v27M973.8 1080.1v27M993 1080.1v27M1028.4 1080.1v27M1034.8 1080.1v27M1057.3 1080.1v27M1108.8 1080.1v27M1134.5 1080.1v27M1237.4 1080.1v27M1266.3 1080.1v27M1340.3 1080.1v27M1359.6 1080.1v27M1369.2 1080.1v27M1375.6 1080.1v27M1391.7 1080.1v27M1452.8 1080.1v27M880.5 1149.1v27M886.9 1149.1v27M951.2 1149.1v27M993 1149.1v27M1005.9 1149.1v27M1025.2 1149.1v27M1060.6 1149.1v27M1063.8 1149.1v27M1089.5 1149.1v27M1105.6 1149.1v27M1140.9 1149.1v27M1144.1 1149.1v27M1189.2 1149.1v27M1295.3 1149.1v27M1304.9 1149.1v27M1330.6 1149.1v27M1353.1 1149.1v27M1356.3 1149.1v27M1359.6 1149.1v27M1388.5 1149.1v27M1398.1 1149.1v27M867.7 1217.8v27M870.9 1217.8v27M880.5 1217.8v27M957.7 1217.8v27M970.5 1217.8v27M983.4 1217.8v27M1189.2 1217.8v27M1192.4 1217.8v27M1214.9 1217.8v27M1279.2 1217.8v27M1369.2 1217.8v27" stroke="#ffcaca" stroke-width="1.5"/>
<path d="M861.2 940.7v30.6M967.3 940.7v30.6M1025.2 940.7v30.6M1439.9 940.7v30.6M912.7 1009.7v30.6M1009.1 1009.7v30.6M1028.4 1009.7v30.6M1092.7 1009.7v30.6M1134.5 1009.7v30.6M1266.3 1009.7v30.6M1288.8 1009.7v30.6M1417.4 1009.7v30.6M909.5 1078.3v30.6M1002.7 1078.3v30.6M1012.3 1078.3v30.6M1147.4 1078.3v30.6M1160.2 1078.3v30.6M1282.4 1078.3v30.6M1372.4 1078.3v30.6M912.7 1147.3v30.6M919.1 1147.3v30.6M967.3 1147.3v30.6M983.4 1147.3v30.6M1028.4 1147.3v30.6M1095.9 1147.3v30.6M1276 1147.3v30.6M1314.5 1147.3v30.6M890.2 1216v30.6M935.2 1216v30.6M941.6 1216v30.6M967.3 1216v30.6M977 1216v30.6M980.2 1216v30.6M986.6 1216v30.6M996.3 1216v30.6M999.5 1216v30.6M1005.9 1216v30.6M1009.1 1216v30.6M1018.8 1216v30.6M1031.6 1216v30.6M1057.3 1216v30.6M1063.8 1216v30.6M1118.4 1216v30.6M1157 1216v30.6M1227.7 1216v30.6M1231 1216v30.6M1288.8 1216v30.6M1292 1216v30.6M1314.5 1216v30.6M1378.8 1216v30.6M1398.1 1216v30.6M1407.8 1216v30.6" stroke="#ffa8a8" stroke-width="1.8"/>
<path d="M858 938.4v35.2M877.3 938.4v35.2M948 938.4v35.2M954.5 938.4v35.2M973.8 938.4v35.2M1028.4 938.4v35.2M1366 938.4v35.2M1391.7 938.4v35.2M1018.8 1007.4v35.2M1439.9 1007.4v35.2M854.8 1076v35.2M954.5 1076v35.2M967.3 1076v35.2M977 1076v35.2M938.4 1145v35.2M960.9 1145v35.2M1012.3 1145v35.2M1112 1145v35.2M1208.4 1145v35.2M1272.8 1145v35.2M1378.8 1145v35.2M858 1213.7v35.2M954.5 1213.7v35.2M1083.1 1213.7v35.2M1176.3 1213.7v35.2" stroke="#ff7c7c" stroke-width="1.9"/>
<path d="M864.4 936.2v39.6M867.7 936.2v39.6M883.7 936.2v39.6M951.2 936.2v39.6M957.7 936.2v39.6M986.6 936.2v39.6M996.3 936.2v39.6M1031.6 936.2v39.6M1034.8 936.2v39.6M1105.6 936.2v39.6M1214.9 936.2v39.6M1269.5 936.2v39.6M1378.8 936.2v39.6M858 1005.2v39.6M867.7 1005.2v39.6M870.9 1005.2v39.6M964.1 1005.2v39.6M861.2 1073.8v39.6M877.3 1073.8v39.6M912.7 1073.8v39.6M941.6 1073.8v39.6M948 1073.8v39.6M951.2 1073.8v39.6M960.9 1073.8v39.6M980.2 1073.8v39.6M989.8 1073.8v39.6M1102.4 1073.8v39.6M1272.8 1073.8v39.6M1311.3 1073.8v39.6M957.7 1142.8v39.6M980.2 1142.8v39.6M986.6 1142.8v39.6M996.3 1142.8v39.6M1067 1142.8v39.6M1121.6 1142.8v39.6M1192.4 1142.8v39.6M1231 1142.8v39.6M1269.5 1142.8v39.6M1324.2 1142.8v39.6M1349.9 1142.8v39.6M861.2 1211.5v39.6M883.7 1211.5v39.6M951.2 1211.5v39.6M960.9 1211.5v39.6M1269.5 1211.5v39.6" stroke="#ff5555" stroke-width="2"/>
<path d="M886.9 934.6v42.8M1282.4 934.6v42.8M948 1003.6v42.8M951.2 1003.6v42.8M1005.9 1003.6v42.8M996.3 1072.2v42.8M1031.6 1072.2v42.8M1076.6 1072.2v42.8M1112 1072.2v42.8M1121.6 1072.2v42.8M1214.9 1072.2v42.8M854.8 1141.2v42.8M867.7 1141.2v42.8M870.9 1141.2v42.8M948 1141.2v42.8M1034.8 1141.2v42.8M886.9 1209.9v42.8M989.8 1209.9v42.8M1025.2 1209.9v42.8M1205.2 1209.9v42.8" stroke="#ff3434" stroke-width="2.1"/>
<path d="M854.8 932v48M1012.3 932v48M1092.7 932v48M1173.1 932v48M854.8 1001v48M883.7 1001v48M977 1001v48M980.2 1001v48M996.3 1001v48M1012.3 1001v48M1031.6 1001v48M1192.4 1001v48M858 1069.6v48M864.4 1069.6v48M964.1 1069.6v48M970.5 1069.6v48M1276 1069.6v48M861.2 1138.6v48M864.4 1138.6v48M874.1 1138.6v48M877.3 1138.6v48M954.5 1138.6v48M964.1 1138.6v48M1382.1 1138.6v48M854.8 1207.3v47.7M874.1 1207.3v47.7M877.3 1207.3v47.7M948 1207.3v47.7M1012.3 1207.3v47.7M1034.8 1207.3v47.7M1067 1207.3v47.7M1266.3 1207.3v47.7M1272.8 1207.3v47.7" stroke="#ff0e0e" stroke-width="2.3"/>
<path d="M964.1 927.2v57.5M980.2 927.2v57.5M1189.2 927.2v57.5M1272.8 927.2v57.5M861.2 996.2v57.5M864.4 996.2v57.5M874.1 996.2v57.5M954.5 996.2v57.5M970.5 996.2v57.5M986.6 996.2v57.5M883.7 1064.8v57.5M986.6 1064.8v57.5M1099.1 1064.8v57.5M1269.5 1064.8v57.5M1398.1 1064.8v57.5M858 1133.8v57.5M896.6 1133.8v57.5M864.4 1202.5v52.5M964.1 1202.5v52.5" stroke="#ff0000" stroke-width="3"/></g>
<path d="M1458.5 952v7.6M1458.5 1021v7.6M1458.5 1089.6v7.6M1458.5 1158.6v7.6M1458.5 1227.3v7.6" stroke="#333" stroke-width="1" fill="none"/>
<text class="ls" x="1464.25" y="963.8" font-size="29.2" textLength="68.22" lengthAdjust="spacingAndGlyphs">Lag3</text>
<text class="ls" x="1464.26" y="1035.1" font-size="29.2" textLength="96.59" lengthAdjust="spacingAndGlyphs">Havcr2</text>
<text class="ls" x="1464.32" y="1102.2" font-size="29.2" textLength="84.41" lengthAdjust="spacingAndGlyphs">Pdcd1</text>
<text class="ls" x="1465.2" y="1171" font-size="29.2" textLength="70.09" lengthAdjust="spacingAndGlyphs">Ctla4</text>
<text class="ls" x="1466.91" y="1237.9" font-size="29.2" textLength="54.83" lengthAdjust="spacingAndGlyphs">Tigit</text>
<rect x="850.9" y="1279.2" width="333.4" height="42" fill="#00f"/>
<rect x="1184.2" y="1279.2" width="276" height="42" fill="#f00"/>
<text class="dv" x="959.93" y="1314.8" font-size="39.5" textLength="123.61" lengthAdjust="spacingAndGlyphs" fill="#fff">NL-PM</text>
<text class="dv" x="1259.43" y="1314.8" font-size="39.5" textLength="94" lengthAdjust="spacingAndGlyphs" fill="#fff">L-PM</text>
<text class="ls" x="1778.1" y="839.6" font-size="39.5" textLength="115.46" lengthAdjust="spacingAndGlyphs">T cells</text>
<path d="M1751.4 896.7H1914.9M1751.4 889.2v15M1914.9 889.2v15" fill="none" stroke="#000" stroke-width="2"/>
<text class="ls ast" x="1831" y="913.3" text-anchor="middle">***</text>
<text class="dv b" transform="translate(1615.6 1261.3) rotate(-90)" x="-0.27" font-size="36.8" textLength="306.95" lengthAdjust="spacingAndGlyphs">AUC checkpoints</text>
<g fill="none" stroke="#e9e9e9" stroke-width="1">
<path d="M1669.9 987.7H1998.5M1669.9 1096.6H1998.5M1669.9 1206H1998.5" stroke="#f3f3f3"/>
<path d="M1833.4 932.8V1260M1669.9 932.8H1998.5M1669.9 1042.1H1998.5M1669.9 1151.1H1998.5M1669.9 1260H1998.5" stroke="#e0e0e0"/>
<rect x="1669.9" y="932.8" width="328.6" height="327.2" stroke="#e2e2e2"/>
</g>
<path d="M1665 932.8V1261M1669.9 1267.4H1998.5M1669.9 1267.4v5M1833.4 1267.4v5M1998.5 1267.4v5" fill="none" stroke="#c4c4c4" stroke-width="1.3"/>
<path d="M1665 932.8h-4M1665 1042.1h-4M1665 1151.1h-4M1665 1260h-4" fill="none" stroke="#c4c4c4" stroke-width="1"/>
<text class="ls" x="1627.94" y="940.5" font-size="20" textLength="28.64" lengthAdjust="spacingAndGlyphs">0.7</text>
<text class="ls" x="1627.79" y="1049.8" font-size="20" textLength="28.64" lengthAdjust="spacingAndGlyphs">0.5</text>
<text class="ls" x="1627.94" y="1158.8" font-size="20" textLength="28.64" lengthAdjust="spacingAndGlyphs">0.2</text>
<text class="ls" x="1644.94" y="1267.7" font-size="20" textLength="11.46" lengthAdjust="spacingAndGlyphs">0</text>
<rect x="1686.3" y="1150.3" width="131.1" height="109.7" fill="#f7f7f7"/>
<rect x="1850.1" y="1206" width="130.7" height="54" fill="#f7f7f7"/>
<path d="M1686.3 1080.2H1817.4M1850.1 1143.7H1980.8" fill="none" stroke="#b2b2b2" stroke-width="1.4"/>
<g stroke="#666" stroke-opacity=".5" stroke-width=".8"><circle cx="1732.6" cy="1260.5" r="4.5" fill="#fff" fill-opacity=".6"/><circle cx="1738.5" cy="1260.5" r="4.5" fill="#fff" fill-opacity=".6"/><circle cx="1742.1" cy="1260.5" r="4.5" fill="#fff" fill-opacity=".6"/><circle cx="1745.5" cy="1260.5" r="4.5" fill="#fff" fill-opacity=".6"/><circle cx="1750.1" cy="1260.5" r="4.5" fill="#fff" fill-opacity=".6"/><circle cx="1755.1" cy="1260.5" r="4.5" fill="#fff" fill-opacity=".6"/><circle cx="1758.2" cy="1260.5" r="4.5" fill="#fff" fill-opacity=".6"/><circle cx="1763.1" cy="1260.5" r="4.5" fill="#fff" fill-opacity=".6"/><circle cx="1767.7" cy="1260.5" r="4.5" fill="#fff" fill-opacity=".6"/><circle cx="1772" cy="1260.5" r="4.5" fill="#fff" fill-opacity=".6"/></g>
<g stroke="#500" stroke-opacity=".25" stroke-width=".7"><circle cx="1732.5" cy="1255.3" r="4.5" fill="#ffecec"/><circle cx="1747.1" cy="1253.9" r="4.5" fill="#ffeaea"/><circle cx="1752.9" cy="1253.8" r="4.5" fill="#ffeaea"/><circle cx="1770.8" cy="1252.8" r="4.5" fill="#ffe9e9"/><circle cx="1752.6" cy="1249.1" r="4.5" fill="#ffe4e4"/><circle cx="1732.7" cy="1246.9" r="4.5" fill="#ffe2e2"/><circle cx="1762.8" cy="1245.2" r="4.5" fill="#ffdfdf"/><circle cx="1760.3" cy="1244" r="4.5" fill="#ffdede"/><circle cx="1743.6" cy="1241.9" r="4.5" fill="#ffdbdb"/><circle cx="1770.2" cy="1241.6" r="4.5" fill="#ffdbdb"/><circle cx="1748" cy="1241.2" r="4.5" fill="#ffdada"/><circle cx="1740.3" cy="1239.4" r="4.5" fill="#ffd8d8"/><circle cx="1757.8" cy="1237" r="4.5" fill="#ffd5d5"/><circle cx="1751.2" cy="1235.7" r="4.5" fill="#ffd3d3"/><circle cx="1738.7" cy="1235.5" r="4.5" fill="#ffd3d3"/><circle cx="1762.8" cy="1234.9" r="4.5" fill="#ffd2d2"/><circle cx="1753.2" cy="1233.1" r="4.5" fill="#ffd0d0"/><circle cx="1738.9" cy="1232.7" r="4.5" fill="#ffcfcf"/><circle cx="1750.8" cy="1231.1" r="4.5" fill="#ffcdcd"/><circle cx="1768.9" cy="1230.7" r="4.5" fill="#ffcdcd"/><circle cx="1759.7" cy="1229.5" r="4.5" fill="#ffcbcb"/><circle cx="1755.5" cy="1229.4" r="4.5" fill="#ffcbcb"/><circle cx="1733.9" cy="1226.6" r="4.5" fill="#ffc8c8"/><circle cx="1757.7" cy="1226.3" r="4.5" fill="#ffc7c7"/><circle cx="1769.4" cy="1225.8" r="4.5" fill="#ffc7c7"/><circle cx="1736.6" cy="1225.8" r="4.5" fill="#ffc7c7"/><circle cx="1757.7" cy="1223.1" r="4.5" fill="#ffc3c3"/><circle cx="1734.3" cy="1222.5" r="4.5" fill="#ffc2c2"/><circle cx="1755.1" cy="1219.9" r="4.5" fill="#ffbfbf"/><circle cx="1767" cy="1219.8" r="4.5" fill="#ffbfbf"/><circle cx="1769.4" cy="1219.4" r="4.5" fill="#ffbebe"/><circle cx="1733.5" cy="1217.5" r="4.5" fill="#ffbcbc"/><circle cx="1750.4" cy="1216" r="4.5" fill="#ffbaba"/><circle cx="1765.1" cy="1213.8" r="4.5" fill="#ffb7b7"/><circle cx="1733.6" cy="1212.4" r="4.5" fill="#ffb6b6"/><circle cx="1768.9" cy="1211.8" r="4.5" fill="#ffb5b5"/><circle cx="1760.5" cy="1210.4" r="4.5" fill="#ffb3b3"/><circle cx="1763.8" cy="1209.1" r="4.5" fill="#ffb1b1"/><circle cx="1732.7" cy="1209" r="4.5" fill="#ffb1b1"/><circle cx="1753.9" cy="1207.7" r="4.5" fill="#ffb0b0"/><circle cx="1762.6" cy="1206.5" r="4.5" fill="#ffaeae"/><circle cx="1736.4" cy="1206.3" r="4.5" fill="#ffaeae"/><circle cx="1751" cy="1205.4" r="4.5" fill="#ffadad"/><circle cx="1734.5" cy="1204.6" r="4.5" fill="#ffacac"/><circle cx="1739.5" cy="1204.2" r="4.5" fill="#ffabab"/><circle cx="1755.4" cy="1204" r="4.5" fill="#ffabab"/><circle cx="1746.1" cy="1203.5" r="4.5" fill="#ffaaaa"/><circle cx="1743.7" cy="1200.9" r="4.5" fill="#ffa7a7"/><circle cx="1739.7" cy="1199.6" r="4.5" fill="#ffa5a5"/><circle cx="1768.5" cy="1198.1" r="4.5" fill="#ffa3a3"/><circle cx="1753.5" cy="1197.6" r="4.5" fill="#ffa3a3"/><circle cx="1733.4" cy="1197.2" r="4.5" fill="#ffa2a2"/><circle cx="1769.6" cy="1195.5" r="4.5" fill="#ffa0a0"/><circle cx="1739.8" cy="1195.2" r="4.5" fill="#ffa0a0"/><circle cx="1735.3" cy="1194.9" r="4.5" fill="#ff9f9f"/><circle cx="1754.5" cy="1194.8" r="4.5" fill="#ff9f9f"/><circle cx="1737.6" cy="1193.8" r="4.5" fill="#ff9e9e"/><circle cx="1732.6" cy="1193.4" r="4.5" fill="#ff9d9d"/><circle cx="1750.3" cy="1193.2" r="4.5" fill="#ff9d9d"/><circle cx="1766.8" cy="1193" r="4.5" fill="#ff9d9d"/><circle cx="1753.8" cy="1192.5" r="4.5" fill="#ff9c9c"/><circle cx="1746.8" cy="1192" r="4.5" fill="#ff9c9c"/><circle cx="1742.4" cy="1188.8" r="4.5" fill="#ff9797"/><circle cx="1739.5" cy="1188.7" r="4.5" fill="#ff9797"/><circle cx="1750.1" cy="1188.4" r="4.5" fill="#ff9797"/><circle cx="1766.9" cy="1186" r="4.5" fill="#ff9494"/><circle cx="1756.6" cy="1185.9" r="4.5" fill="#ff9494"/><circle cx="1770.7" cy="1185" r="4.5" fill="#ff9393"/><circle cx="1733" cy="1184.8" r="4.5" fill="#ff9292"/><circle cx="1739.1" cy="1184.3" r="4.5" fill="#ff9292"/><circle cx="1758.9" cy="1182.9" r="4.5" fill="#ff9090"/><circle cx="1767.7" cy="1181.8" r="4.5" fill="#ff8f8f"/><circle cx="1756.4" cy="1180.8" r="4.5" fill="#ff8d8d"/><circle cx="1733.1" cy="1180" r="4.5" fill="#ff8c8c"/><circle cx="1743.3" cy="1178.9" r="4.5" fill="#ff8b8b"/><circle cx="1763.4" cy="1178.4" r="4.5" fill="#ff8a8a"/><circle cx="1733.7" cy="1175.2" r="4.5" fill="#ff8686"/><circle cx="1764.5" cy="1174.7" r="4.5" fill="#ff8686"/><circle cx="1770.6" cy="1174.6" r="4.5" fill="#ff8585"/><circle cx="1758.2" cy="1174.5" r="4.5" fill="#ff8585"/><circle cx="1745" cy="1173.8" r="4.5" fill="#ff8484"/><circle cx="1738.3" cy="1173.5" r="4.5" fill="#ff8484"/><circle cx="1735.6" cy="1171.9" r="4.5" fill="#ff8282"/><circle cx="1762.1" cy="1171.4" r="4.5" fill="#ff8181"/><circle cx="1770.1" cy="1171.3" r="4.5" fill="#ff8181"/><circle cx="1757.2" cy="1170.8" r="4.5" fill="#ff8080"/><circle cx="1753.9" cy="1170.6" r="4.5" fill="#ff8080"/><circle cx="1741.5" cy="1170.3" r="4.5" fill="#ff8080"/><circle cx="1748.3" cy="1169.9" r="4.5" fill="#ff7f7f"/><circle cx="1737.4" cy="1168.1" r="4.5" fill="#ff7d7d"/><circle cx="1760.9" cy="1167.3" r="4.5" fill="#ff7c7c"/><circle cx="1765.5" cy="1167.2" r="4.5" fill="#ff7c7c"/><circle cx="1741.1" cy="1165.6" r="4.5" fill="#ff7a7a"/><circle cx="1744.9" cy="1164.8" r="4.5" fill="#ff7979"/><circle cx="1761.5" cy="1162.5" r="4.5" fill="#ff7676"/><circle cx="1737.6" cy="1162.4" r="4.5" fill="#ff7676"/><circle cx="1748.2" cy="1162.3" r="4.5" fill="#ff7676"/><circle cx="1740.9" cy="1161.9" r="4.5" fill="#ff7575"/><circle cx="1755.4" cy="1161.7" r="4.5" fill="#ff7575"/><circle cx="1732.8" cy="1161.6" r="4.5" fill="#ff7575"/><circle cx="1770.9" cy="1160.8" r="4.5" fill="#ff7474"/><circle cx="1733.9" cy="1158.4" r="4.5" fill="#ff7171"/><circle cx="1739.2" cy="1158" r="4.5" fill="#ff7070"/><circle cx="1743.1" cy="1158" r="4.5" fill="#ff7070"/><circle cx="1758.5" cy="1157.6" r="4.5" fill="#ff7070"/><circle cx="1750.8" cy="1156.7" r="4.5" fill="#ff6f6f"/><circle cx="1752.8" cy="1155.1" r="4.5" fill="#ff6d6d"/><circle cx="1758.9" cy="1154.9" r="4.5" fill="#ff6c6c"/><circle cx="1738.8" cy="1154.9" r="4.5" fill="#ff6c6c"/><circle cx="1752" cy="1152.6" r="4.5" fill="#ff6969"/><circle cx="1769.3" cy="1150.3" r="4.5" fill="#ff6666"/><circle cx="1740.5" cy="1149.6" r="4.5" fill="#ff6565"/><circle cx="1768.8" cy="1146.9" r="4.5" fill="#ff6262"/><circle cx="1735.1" cy="1146.8" r="4.5" fill="#ff6262"/><circle cx="1756.4" cy="1146.1" r="4.5" fill="#ff6161"/><circle cx="1742" cy="1146" r="4.5" fill="#ff6161"/><circle cx="1739.8" cy="1144.7" r="4.5" fill="#ff5f5f"/><circle cx="1751.5" cy="1144.7" r="4.5" fill="#ff5f5f"/><circle cx="1767.5" cy="1143.5" r="4.5" fill="#ff5e5e"/><circle cx="1747.4" cy="1139.7" r="4.5" fill="#ff5959"/><circle cx="1770.7" cy="1136.3" r="4.5" fill="#ff5555"/><circle cx="1742" cy="1135.6" r="4.5" fill="#ff5454"/><circle cx="1770.3" cy="1132.9" r="4.5" fill="#ff5050"/><circle cx="1737.1" cy="1132.7" r="4.5" fill="#ff5050"/><circle cx="1745.9" cy="1132.6" r="4.5" fill="#ff5050"/><circle cx="1734.2" cy="1132.4" r="4.5" fill="#ff5050"/><circle cx="1742" cy="1132.4" r="4.5" fill="#ff5050"/><circle cx="1760.4" cy="1131.8" r="4.5" fill="#ff4f4f"/><circle cx="1747.4" cy="1129.5" r="4.5" fill="#ff4c4c"/><circle cx="1744.6" cy="1128.3" r="4.5" fill="#ff4a4a"/><circle cx="1750.4" cy="1126.8" r="4.5" fill="#ff4848"/><circle cx="1751.8" cy="1121.8" r="4.5" fill="#ff4242"/><circle cx="1747.2" cy="1121.7" r="4.5" fill="#ff4242"/><circle cx="1736.6" cy="1121.3" r="4.5" fill="#ff4141"/><circle cx="1760.9" cy="1121" r="4.5" fill="#ff4141"/><circle cx="1755.9" cy="1120.1" r="4.5" fill="#ff4040"/><circle cx="1770.7" cy="1119.6" r="4.5" fill="#ff3f3f"/><circle cx="1735.2" cy="1119.3" r="4.5" fill="#ff3f3f"/><circle cx="1750.6" cy="1116.1" r="4.5" fill="#ff3b3b"/><circle cx="1736.5" cy="1115.9" r="4.5" fill="#ff3a3a"/><circle cx="1767" cy="1115" r="4.5" fill="#ff3939"/><circle cx="1757.6" cy="1114.9" r="4.5" fill="#ff3939"/><circle cx="1753.1" cy="1114.5" r="4.5" fill="#ff3939"/><circle cx="1751" cy="1113.4" r="4.5" fill="#ff3737"/><circle cx="1763.9" cy="1111.6" r="4.5" fill="#ff3535"/><circle cx="1766.6" cy="1111.3" r="4.5" fill="#ff3535"/><circle cx="1759.8" cy="1108.3" r="4.5" fill="#ff3131"/><circle cx="1761.2" cy="1106.2" r="4.5" fill="#ff2e2e"/><circle cx="1759" cy="1104.9" r="4.5" fill="#ff2c2c"/><circle cx="1741.1" cy="1103.6" r="4.5" fill="#ff2b2b"/><circle cx="1762.2" cy="1103.1" r="4.5" fill="#ff2a2a"/><circle cx="1748.4" cy="1102.4" r="4.5" fill="#ff2929"/><circle cx="1765.9" cy="1102.1" r="4.5" fill="#ff2929"/><circle cx="1735.7" cy="1101" r="4.5" fill="#ff2828"/><circle cx="1750.1" cy="1098.8" r="4.5" fill="#ff2525"/><circle cx="1735.4" cy="1095.2" r="4.5" fill="#ff2020"/><circle cx="1765.2" cy="1094" r="4.5" fill="#ff1f1f"/><circle cx="1742.2" cy="1093.8" r="4.5" fill="#ff1e1e"/><circle cx="1760.2" cy="1093.2" r="4.5" fill="#ff1e1e"/><circle cx="1762.8" cy="1091.3" r="4.5" fill="#ff1b1b"/><circle cx="1740.5" cy="1091.2" r="4.5" fill="#ff1b1b"/><circle cx="1756.2" cy="1091.2" r="4.5" fill="#ff1b1b"/><circle cx="1756.3" cy="1088.3" r="4.5" fill="#ff1717"/><circle cx="1733.7" cy="1087.9" r="4.5" fill="#ff1717"/><circle cx="1753.3" cy="1087.7" r="4.5" fill="#ff1717"/><circle cx="1748" cy="1087.6" r="4.5" fill="#ff1616"/><circle cx="1758.6" cy="1087.5" r="4.5" fill="#ff1616"/><circle cx="1766.9" cy="1087.4" r="4.5" fill="#ff1616"/><circle cx="1746.7" cy="1085.3" r="4.5" fill="#ff1313"/><circle cx="1754.6" cy="1085" r="4.5" fill="#ff1313"/><circle cx="1737.4" cy="1083.7" r="4.5" fill="#ff1212"/><circle cx="1734" cy="1082.5" r="4.5" fill="#ff1010"/><circle cx="1760.6" cy="1082.5" r="4.5" fill="#ff1010"/><circle cx="1770" cy="1081.8" r="4.5" fill="#ff0f0f"/><circle cx="1757.1" cy="1081.1" r="4.5" fill="#ff0e0e"/><circle cx="1759.6" cy="1079.7" r="4.5" fill="#ff0c0c"/><circle cx="1767.8" cy="1079.7" r="4.5" fill="#ff0c0c"/><circle cx="1733.7" cy="1079.4" r="4.5" fill="#ff0c0c"/><circle cx="1763.6" cy="1079.1" r="4.5" fill="#ff0c0c"/><circle cx="1737" cy="1078.5" r="4.5" fill="#ff0b0b"/><circle cx="1766.5" cy="1077.5" r="4.5" fill="#ff0a0a"/><circle cx="1743.8" cy="1074.7" r="4.5" fill="#ff0606"/><circle cx="1748.7" cy="1074.4" r="4.5" fill="#ff0606"/><circle cx="1756.1" cy="1073.5" r="4.5" fill="#ff0404"/><circle cx="1759.6" cy="1073.3" r="4.5" fill="#ff0404"/><circle cx="1752.1" cy="1072.3" r="4.5" fill="#ff0303"/><circle cx="1746.7" cy="1070.4" r="4.5" fill="#ff0101"/><circle cx="1742.7" cy="1062.1" r="4.5" fill="#ff0000"/><circle cx="1758.5" cy="1061.5" r="4.5" fill="#ff0000"/><circle cx="1737.2" cy="1059.8" r="4.5" fill="#ff0000"/><circle cx="1755.2" cy="1056.9" r="4.5" fill="#ff0000"/><circle cx="1749.3" cy="1055.2" r="4.5" fill="#ff0000"/><circle cx="1735.7" cy="1054.1" r="4.5" fill="#ff0000"/><circle cx="1763" cy="1052.9" r="4.5" fill="#ff0000"/><circle cx="1749.8" cy="1049.1" r="4.5" fill="#ff0000"/><circle cx="1755.1" cy="1047.8" r="4.5" fill="#ff0000"/><circle cx="1770.2" cy="1046.1" r="4.5" fill="#ff0000"/><circle cx="1757.2" cy="1045.2" r="4.5" fill="#ff0000"/><circle cx="1762.1" cy="1045" r="4.5" fill="#ff0000"/><circle cx="1734.8" cy="1044.9" r="4.5" fill="#ff0000"/><circle cx="1754.9" cy="1042.7" r="4.5" fill="#ff0000"/><circle cx="1741.5" cy="1042.4" r="4.5" fill="#ff0000"/><circle cx="1752.4" cy="1039.2" r="4.5" fill="#ff0000"/><circle cx="1754.9" cy="1038" r="4.5" fill="#ff0000"/><circle cx="1741.9" cy="1037.7" r="4.5" fill="#ff0000"/><circle cx="1744.7" cy="1034.7" r="4.5" fill="#ff0000"/><circle cx="1755.3" cy="1033.3" r="4.5" fill="#ff0000"/><circle cx="1748.2" cy="1032.2" r="4.5" fill="#ff0000"/><circle cx="1758.2" cy="1031.5" r="4.5" fill="#ff0000"/><circle cx="1748.1" cy="1022.3" r="4.5" fill="#ff0000"/><circle cx="1735.9" cy="1019.7" r="4.5" fill="#ff0000"/><circle cx="1738.6" cy="1014.5" r="4.5" fill="#ff0000"/><circle cx="1744.2" cy="1011.4" r="4.5" fill="#ff0000"/><circle cx="1755.5" cy="1007.9" r="4.5" fill="#ff0000"/><circle cx="1766.1" cy="1007.6" r="4.5" fill="#ff0000"/><circle cx="1743.2" cy="1007.5" r="4.5" fill="#ff0000"/><circle cx="1749.5" cy="1006.6" r="4.5" fill="#ff0000"/><circle cx="1765.2" cy="1005.3" r="4.5" fill="#ff0000"/><circle cx="1741.2" cy="980.4" r="4.5" fill="#ff0000"/><circle cx="1753.8" cy="972.2" r="4.5" fill="#ff0000"/><circle cx="1737.2" cy="968.5" r="4.5" fill="#ff0000"/><circle cx="1758.4" cy="966.8" r="4.5" fill="#ff0000"/><circle cx="1738.2" cy="964.4" r="4.5" fill="#ff0000"/><circle cx="1751.1" cy="964.3" r="4.5" fill="#ff0000"/><circle cx="1759" cy="957.2" r="4.5" fill="#ff0000"/><circle cx="1764.3" cy="954.7" r="4.5" fill="#ff0000"/><circle cx="1737.9" cy="932.8" r="4.5" fill="#ff0000"/></g>
<g stroke="#666" stroke-opacity=".5" stroke-width=".8"><circle cx="1893.5" cy="1260.5" r="4.5" fill="#fff" fill-opacity=".6"/><circle cx="1897.6" cy="1260.5" r="4.5" fill="#fff" fill-opacity=".6"/><circle cx="1903.3" cy="1260.5" r="4.5" fill="#fff" fill-opacity=".6"/><circle cx="1907.5" cy="1260.5" r="4.5" fill="#fff" fill-opacity=".6"/><circle cx="1911.8" cy="1260.5" r="4.5" fill="#fff" fill-opacity=".6"/><circle cx="1915.9" cy="1260.5" r="4.5" fill="#fff" fill-opacity=".6"/><circle cx="1919" cy="1260.5" r="4.5" fill="#fff" fill-opacity=".6"/><circle cx="1923.4" cy="1260.5" r="4.5" fill="#fff" fill-opacity=".6"/><circle cx="1927.5" cy="1260.5" r="4.5" fill="#fff" fill-opacity=".6"/><circle cx="1932.8" cy="1260.5" r="4.5" fill="#fff" fill-opacity=".6"/><circle cx="1935.3" cy="1260.5" r="4.5" fill="#fff" fill-opacity=".6"/></g>
<g stroke="#500" stroke-opacity=".25" stroke-width=".7"><circle cx="1918.4" cy="1256.2" r="4.5" fill="#ffeded"/><circle cx="1895.9" cy="1255" r="4.5" fill="#ffecec"/><circle cx="1925.7" cy="1252.3" r="4.5" fill="#ffe8e8"/><circle cx="1899.4" cy="1251.7" r="4.5" fill="#ffe8e8"/><circle cx="1922.4" cy="1251" r="4.5" fill="#ffe7e7"/><circle cx="1933.8" cy="1250" r="4.5" fill="#ffe5e5"/><circle cx="1921.5" cy="1248.4" r="4.5" fill="#ffe4e4"/><circle cx="1933.5" cy="1247.2" r="4.5" fill="#ffe2e2"/><circle cx="1908.9" cy="1245.7" r="4.5" fill="#ffe0e0"/><circle cx="1932.1" cy="1245.2" r="4.5" fill="#ffdfdf"/><circle cx="1900.2" cy="1244.6" r="4.5" fill="#ffdfdf"/><circle cx="1932.3" cy="1241.2" r="4.5" fill="#ffdada"/><circle cx="1909" cy="1241.1" r="4.5" fill="#ffdada"/><circle cx="1911.8" cy="1240.8" r="4.5" fill="#ffdada"/><circle cx="1898" cy="1240.5" r="4.5" fill="#ffd9d9"/><circle cx="1909.8" cy="1238.2" r="4.5" fill="#ffd6d6"/><circle cx="1934.9" cy="1236.9" r="4.5" fill="#ffd5d5"/><circle cx="1905.6" cy="1236.6" r="4.5" fill="#ffd4d4"/><circle cx="1925.4" cy="1236.6" r="4.5" fill="#ffd4d4"/><circle cx="1920.9" cy="1236.5" r="4.5" fill="#ffd4d4"/><circle cx="1921.9" cy="1233.4" r="4.5" fill="#ffd0d0"/><circle cx="1912.3" cy="1233.4" r="4.5" fill="#ffd0d0"/><circle cx="1902.6" cy="1232.8" r="4.5" fill="#ffd0d0"/><circle cx="1933.2" cy="1232.3" r="4.5" fill="#ffcfcf"/><circle cx="1914.6" cy="1230.9" r="4.5" fill="#ffcdcd"/><circle cx="1908.7" cy="1228.9" r="4.5" fill="#ffcbcb"/><circle cx="1924.2" cy="1227.7" r="4.5" fill="#ffc9c9"/><circle cx="1909.6" cy="1226.4" r="4.5" fill="#ffc7c7"/><circle cx="1918.8" cy="1226.1" r="4.5" fill="#ffc7c7"/><circle cx="1896.1" cy="1223.4" r="4.5" fill="#ffc4c4"/><circle cx="1913.2" cy="1223.3" r="4.5" fill="#ffc3c3"/><circle cx="1924.4" cy="1222.4" r="4.5" fill="#ffc2c2"/><circle cx="1935.1" cy="1222.3" r="4.5" fill="#ffc2c2"/><circle cx="1906.9" cy="1221.6" r="4.5" fill="#ffc1c1"/><circle cx="1897.6" cy="1220.9" r="4.5" fill="#ffc0c0"/><circle cx="1931.7" cy="1220.6" r="4.5" fill="#ffc0c0"/><circle cx="1909.5" cy="1220.3" r="4.5" fill="#ffc0c0"/><circle cx="1900.2" cy="1220" r="4.5" fill="#ffbfbf"/><circle cx="1920.6" cy="1218.8" r="4.5" fill="#ffbebe"/><circle cx="1915.9" cy="1217.5" r="4.5" fill="#ffbcbc"/><circle cx="1900.1" cy="1216.1" r="4.5" fill="#ffbaba"/><circle cx="1904.7" cy="1215.8" r="4.5" fill="#ffbaba"/><circle cx="1897.3" cy="1215.7" r="4.5" fill="#ffbaba"/><circle cx="1934" cy="1214" r="4.5" fill="#ffb8b8"/><circle cx="1915.1" cy="1213.2" r="4.5" fill="#ffb7b7"/><circle cx="1896" cy="1212.9" r="4.5" fill="#ffb6b6"/><circle cx="1901.6" cy="1212.6" r="4.5" fill="#ffb6b6"/><circle cx="1922.1" cy="1210.9" r="4.5" fill="#ffb4b4"/><circle cx="1930.4" cy="1210.2" r="4.5" fill="#ffb3b3"/><circle cx="1903.6" cy="1209.8" r="4.5" fill="#ffb2b2"/><circle cx="1928.2" cy="1208.5" r="4.5" fill="#ffb1b1"/><circle cx="1901.4" cy="1208.5" r="4.5" fill="#ffb1b1"/><circle cx="1913" cy="1208" r="4.5" fill="#ffb0b0"/><circle cx="1897.1" cy="1207.7" r="4.5" fill="#ffb0b0"/><circle cx="1912.7" cy="1205.1" r="4.5" fill="#ffacac"/><circle cx="1929.1" cy="1203.4" r="4.5" fill="#ffaaaa"/><circle cx="1923.2" cy="1202.8" r="4.5" fill="#ffa9a9"/><circle cx="1903.7" cy="1201.4" r="4.5" fill="#ffa8a8"/><circle cx="1910" cy="1201" r="4.5" fill="#ffa7a7"/><circle cx="1926.6" cy="1200.3" r="4.5" fill="#ffa6a6"/><circle cx="1902.9" cy="1197.2" r="4.5" fill="#ffa2a2"/><circle cx="1909.7" cy="1196.3" r="4.5" fill="#ffa1a1"/><circle cx="1897.4" cy="1193.7" r="4.5" fill="#ff9e9e"/><circle cx="1929.3" cy="1193" r="4.5" fill="#ff9d9d"/><circle cx="1912.4" cy="1192.8" r="4.5" fill="#ff9d9d"/><circle cx="1923.9" cy="1192" r="4.5" fill="#ff9c9c"/><circle cx="1918" cy="1190" r="4.5" fill="#ff9999"/><circle cx="1902.4" cy="1187" r="4.5" fill="#ff9595"/><circle cx="1932.3" cy="1186.5" r="4.5" fill="#ff9494"/><circle cx="1921" cy="1185.4" r="4.5" fill="#ff9393"/><circle cx="1925.1" cy="1184.4" r="4.5" fill="#ff9292"/><circle cx="1895.6" cy="1182.6" r="4.5" fill="#ff9090"/><circle cx="1918.8" cy="1182.5" r="4.5" fill="#ff8f8f"/><circle cx="1895.7" cy="1178.9" r="4.5" fill="#ff8b8b"/><circle cx="1916.6" cy="1175.2" r="4.5" fill="#ff8686"/><circle cx="1911.9" cy="1173.6" r="4.5" fill="#ff8484"/><circle cx="1918.2" cy="1173.3" r="4.5" fill="#ff8484"/><circle cx="1914.4" cy="1172.6" r="4.5" fill="#ff8383"/><circle cx="1928.5" cy="1169.2" r="4.5" fill="#ff7f7f"/><circle cx="1906.4" cy="1168.3" r="4.5" fill="#ff7d7d"/><circle cx="1921.1" cy="1167.7" r="4.5" fill="#ff7d7d"/><circle cx="1925.1" cy="1167.4" r="4.5" fill="#ff7c7c"/><circle cx="1903.1" cy="1167.3" r="4.5" fill="#ff7c7c"/><circle cx="1931.5" cy="1166.7" r="4.5" fill="#ff7b7b"/><circle cx="1904.7" cy="1164.6" r="4.5" fill="#ff7979"/><circle cx="1909.3" cy="1164.2" r="4.5" fill="#ff7878"/><circle cx="1908.8" cy="1161.7" r="4.5" fill="#ff7575"/><circle cx="1921.2" cy="1161" r="4.5" fill="#ff7474"/><circle cx="1931" cy="1154.8" r="4.5" fill="#ff6c6c"/><circle cx="1917.1" cy="1150.7" r="4.5" fill="#ff6767"/><circle cx="1897.9" cy="1150.1" r="4.5" fill="#ff6666"/><circle cx="1931" cy="1146.4" r="4.5" fill="#ff6161"/><circle cx="1915.3" cy="1143.7" r="4.5" fill="#ff5e5e"/><circle cx="1904.1" cy="1138.7" r="4.5" fill="#ff5858"/><circle cx="1927.6" cy="1136.8" r="4.5" fill="#ff5555"/><circle cx="1913.9" cy="1136.1" r="4.5" fill="#ff5454"/><circle cx="1900.7" cy="1135" r="4.5" fill="#ff5353"/><circle cx="1920.3" cy="1132.4" r="4.5" fill="#ff5050"/><circle cx="1906" cy="1129.3" r="4.5" fill="#ff4c4c"/><circle cx="1919.2" cy="1128.4" r="4.5" fill="#ff4a4a"/><circle cx="1928.1" cy="1128" r="4.5" fill="#ff4a4a"/><circle cx="1932.5" cy="1126.8" r="4.5" fill="#ff4848"/><circle cx="1902.6" cy="1126.4" r="4.5" fill="#ff4848"/><circle cx="1925.2" cy="1114.6" r="4.5" fill="#ff3939"/><circle cx="1933.3" cy="1112.6" r="4.5" fill="#ff3636"/><circle cx="1911.8" cy="1111.8" r="4.5" fill="#ff3535"/><circle cx="1904.8" cy="1111.6" r="4.5" fill="#ff3535"/><circle cx="1915" cy="1106.7" r="4.5" fill="#ff2f2f"/><circle cx="1905.8" cy="1101.9" r="4.5" fill="#ff2929"/><circle cx="1922.8" cy="1098.6" r="4.5" fill="#ff2424"/><circle cx="1906.5" cy="1098.3" r="4.5" fill="#ff2424"/><circle cx="1930.9" cy="1094" r="4.5" fill="#ff1f1f"/><circle cx="1903.3" cy="1091.9" r="4.5" fill="#ff1c1c"/><circle cx="1905.4" cy="1064.9" r="4.5" fill="#ff0000"/><circle cx="1900.9" cy="1062.9" r="4.5" fill="#ff0000"/><circle cx="1928.4" cy="1056" r="4.5" fill="#ff0000"/><circle cx="1914.7" cy="1046.1" r="4.5" fill="#ff0000"/><circle cx="1927.8" cy="1046" r="4.5" fill="#ff0000"/><circle cx="1903.6" cy="1039" r="4.5" fill="#ff0000"/><circle cx="1913.6" cy="1021.6" r="4.5" fill="#ff0000"/><circle cx="1919" cy="1021.4" r="4.5" fill="#ff0000"/><circle cx="1906.9" cy="1021.1" r="4.5" fill="#ff0000"/><circle cx="1900.6" cy="1012.5" r="4.5" fill="#ff0000"/><circle cx="1913.7" cy="1004.2" r="4.5" fill="#ff0000"/></g>
<path d="M1686.3 1150.3H1817.4V1260H1686.3zM1686.3 1212.1H1817.4M1751.9 1080.2V1150.3M1850.1 1206H1980.8V1260H1850.1zM1915.3 1143.7V1206" fill="none" stroke="#222" stroke-opacity=".5" stroke-width=".9"/>
<rect x="1678.5" y="1279" width="143.4" height="42" fill="#00f"/>
<text class="dv" x="1686.75" y="1314.9" font-size="39.5" textLength="122.97" lengthAdjust="spacingAndGlyphs" fill="#fff">NL-PM</text>
<rect x="1843.6" y="1279" width="143.3" height="42" fill="#f00"/>
<text class="dv" x="1867.74" y="1314.9" font-size="39.5" textLength="93.56" lengthAdjust="spacingAndGlyphs" fill="#fff">L-PM</text>
</g>
</svg>
</body>
</html>
